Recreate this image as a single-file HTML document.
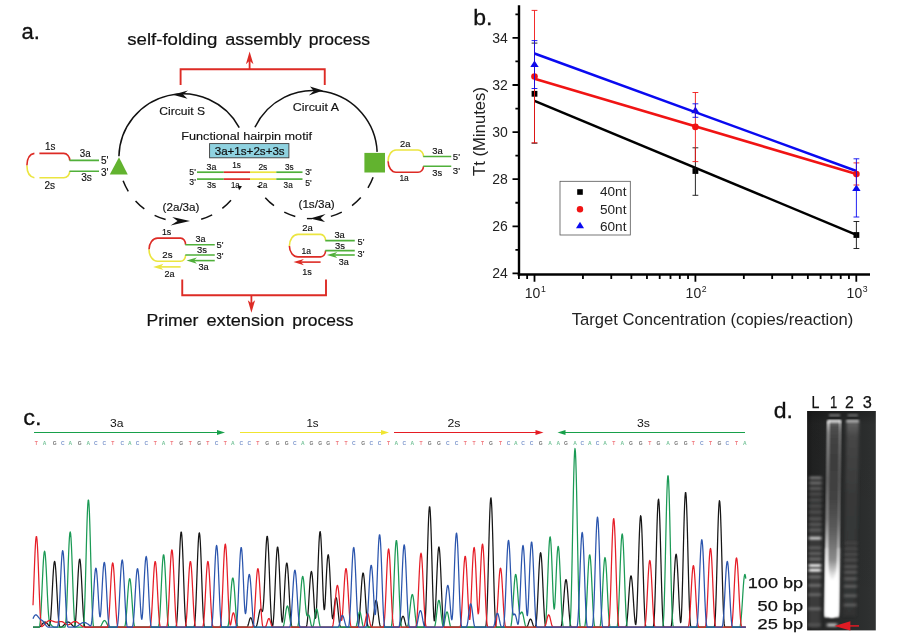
<!DOCTYPE html>
<html lang="en"><head><meta charset="utf-8"><title>Figure</title>
<style>html,body{margin:0;padding:0;background:#fff;}body{width:903px;height:640px;overflow:hidden;font-family:"Liberation Sans",sans-serif;}svg{display:block;will-change:transform;}text{font-family:"Liberation Sans",sans-serif;}</style>
</head><body>
<svg width="903" height="640" viewBox="0 0 903 640">
<defs>
<linearGradient id="gelbg" x1="0" y1="0" x2="1" y2="0">
<stop offset="0" stop-color="#1a1a1a"/><stop offset="0.08" stop-color="#212222"/><stop offset="0.3" stop-color="#262727"/><stop offset="0.75" stop-color="#2b2d2d"/><stop offset="1" stop-color="#303232"/>
</linearGradient>
<linearGradient id="gelv" x1="0" y1="0" x2="0" y2="1">
<stop offset="0" stop-color="#000" stop-opacity="0.25"/><stop offset="0.06" stop-color="#000" stop-opacity="0.05"/><stop offset="1" stop-color="#000" stop-opacity="0"/>
</linearGradient>
<linearGradient id="lane1" x1="0" y1="0" x2="0" y2="1">
<stop offset="0" stop-color="#808080"/><stop offset="0.025" stop-color="#505050"/><stop offset="0.08" stop-color="#444444"/><stop offset="0.2" stop-color="#3d3d3d"/><stop offset="0.40" stop-color="#434343"/><stop offset="0.556" stop-color="#5c5c5c"/><stop offset="0.71" stop-color="#8c8c8c"/><stop offset="0.786" stop-color="#e0e0e0"/><stop offset="0.837" stop-color="#ffffff"/><stop offset="1" stop-color="#ffffff"/>
</linearGradient>
<linearGradient id="edge1" x1="0" y1="0" x2="0" y2="1">
<stop offset="0" stop-color="#e0e0e0"/><stop offset="0.06" stop-color="#989898"/><stop offset="0.3" stop-color="#6e6e6e"/><stop offset="0.5" stop-color="#8c8c8c"/><stop offset="0.63" stop-color="#e4e4e4"/><stop offset="0.71" stop-color="#ffffff"/><stop offset="1" stop-color="#ffffff"/>
</linearGradient>
<linearGradient id="ladglow" x1="0" y1="0" x2="0" y2="1"><stop offset="0" stop-color="#303131"/><stop offset="0.4" stop-color="#383838"/><stop offset="1" stop-color="#3c3c3c"/></linearGradient>
<linearGradient id="lane2" x1="0" y1="0" x2="0" y2="1">
<stop offset="0" stop-color="#666666"/><stop offset="0.08" stop-color="#464646"/><stop offset="0.4" stop-color="#373838"/><stop offset="1" stop-color="#323333"/>
</linearGradient>
<filter id="b08" x="-30%" y="-30%" width="160%" height="160%"><feGaussianBlur stdDeviation="0.8"/></filter>
<filter id="b1" x="-30%" y="-30%" width="160%" height="160%"><feGaussianBlur stdDeviation="1.1"/></filter>
<filter id="b12" x="-30%" y="-60%" width="160%" height="220%"><feGaussianBlur stdDeviation="1.4 1.2"/></filter>
<filter id="b15" x="-30%" y="-30%" width="160%" height="160%"><feGaussianBlur stdDeviation="1.6"/></filter>
<clipPath id="gelclip"><rect x="807.1" y="411" width="68.7" height="219.4"/></clipPath>
</defs>
<rect x="0" y="0" width="903" height="640" fill="#ffffff"/>
<g id="panel-a">
<text x="21.50" y="38.80" font-size="22" text-anchor="start" fill="#111" textLength="18.40" lengthAdjust="spacingAndGlyphs" stroke="#111" stroke-width="0.3">a.</text>
<text x="127.20" y="45.00" font-size="16.3" text-anchor="start" fill="#111" textLength="90.20" lengthAdjust="spacingAndGlyphs" stroke="#111" stroke-width="0.2">self-folding</text>
<text x="225.20" y="45.00" font-size="16.3" text-anchor="start" fill="#111" textLength="76.40" lengthAdjust="spacingAndGlyphs" stroke="#111" stroke-width="0.2">assembly</text>
<text x="308.80" y="45.00" font-size="16.3" text-anchor="start" fill="#111" textLength="61.30" lengthAdjust="spacingAndGlyphs" stroke="#111" stroke-width="0.2">process</text>
<text x="146.50" y="325.50" font-size="16.3" text-anchor="start" fill="#111" textLength="51.90" lengthAdjust="spacingAndGlyphs" stroke="#111" stroke-width="0.2">Primer</text>
<text x="206.50" y="325.50" font-size="16.3" text-anchor="start" fill="#111" textLength="77.80" lengthAdjust="spacingAndGlyphs" stroke="#111" stroke-width="0.2">extension</text>
<text x="292.30" y="325.50" font-size="16.3" text-anchor="start" fill="#111" textLength="61.10" lengthAdjust="spacingAndGlyphs" stroke="#111" stroke-width="0.2">process</text>
<path d="M180.6 85 V69.3 H324.75 V85" fill="none" stroke="#dd2b25" stroke-width="1.9"/>
<path d="M249.6 69.3 V60" fill="none" stroke="#dd2b25" stroke-width="1.8"/>
<path d="M249.6 51.4 L253.4 64.3 L249.6 60.8 L245.9 64.3 Z" fill="#dd2b25"/>
<path d="M182.25 279.4 V295.3 H326 V279.4" fill="none" stroke="#dd2b25" stroke-width="1.9"/>
<path d="M251.4 295.3 V304" fill="none" stroke="#dd2b25" stroke-width="1.8"/>
<path d="M251.4 312.8 L255.1 300.2 L251.4 303.3 L247.8 300.2 Z" fill="#dd2b25"/>
<path d="M118.92 156.22 A64.0 64.0 0 0 1 239.25 127.56" fill="none" stroke="#111" stroke-width="1.5"/>
<path d="M123.11 180.73 A64.0 64.0 0 0 0 233.33 197.30" fill="none" stroke="#111" stroke-width="1.5" stroke-dasharray="11.8 12.1"/>
<path d="M254.96 127.26 A64.2 64.2 0 0 1 377.14 151.90" fill="none" stroke="#111" stroke-width="1.5"/>
<path d="M373.10 177.29 A64.2 64.2 0 0 1 263.11 195.10" fill="none" stroke="#111" stroke-width="1.5" stroke-dasharray="11.8 12.1"/>
<path d="M168 214 H194 V228 H168 Z M304 211 H329 V225 H304 Z" fill="#fff"/>
<path d="M172.75 94.75 L187.9 90.4 L183.1 94.4 L187.5 98.75 Z" fill="#111"/>
<path d="M323.1 90.6 L310 86.6 L313.75 90.9 L308.75 95.4 Z" fill="#111"/>
<path d="M190 221 L172.25 216.9 L177.5 221 L170.6 225.4 Z" fill="#111"/>
<path d="M310 218.5 L325.6 214 L320.6 218.1 L325 221.9 Z" fill="#111"/>
<path d="M306.9 218.6 H312" stroke="#111" stroke-width="1.4"/>
<text x="159.30" y="114.50" font-size="11.6" text-anchor="start" fill="#111" textLength="45.70" lengthAdjust="spacingAndGlyphs" stroke="#111" stroke-width="0.15">Circuit S</text>
<text x="292.80" y="111.30" font-size="11.6" text-anchor="start" fill="#111" textLength="46.20" lengthAdjust="spacingAndGlyphs" stroke="#111" stroke-width="0.15">Circuit A</text>
<text x="181.30" y="140.00" font-size="11.8" text-anchor="start" fill="#111" textLength="130.70" lengthAdjust="spacingAndGlyphs" stroke="#111" stroke-width="0.15">Functional hairpin motif</text>
<rect x="209.6" y="143.6" width="79.3" height="14.2" fill="#8fd2e0" stroke="#3a3a3a" stroke-width="0.9"/>
<text x="214.70" y="154.80" font-size="10.6" text-anchor="start" fill="#111" textLength="70.00" lengthAdjust="spacingAndGlyphs" stroke="#111" stroke-width="0.2">3a+1s+2s+3s</text>
<path d="M197 172.2 H223.8" stroke="#50b03a" stroke-width="1.7"/>
<path d="M223.8 172.2 H250" stroke="#dd2b25" stroke-width="1.7"/>
<path d="M250 172.2 H276.3" stroke="#ebe540" stroke-width="1.7"/>
<path d="M276.3 172.2 H302.5" stroke="#50b03a" stroke-width="1.7"/>
<path d="M197 179.1 H223.8" stroke="#50b03a" stroke-width="1.7"/>
<path d="M223.8 179.1 H250" stroke="#dd2b25" stroke-width="1.7"/>
<path d="M250 179.1 H276.3" stroke="#ebe540" stroke-width="1.7"/>
<path d="M276.3 179.1 H302.5" stroke="#50b03a" stroke-width="1.7"/>
<text x="206.60" y="169.80" font-size="9.2" text-anchor="start" fill="#111" textLength="9.80" lengthAdjust="spacingAndGlyphs" stroke="#111" stroke-width="0.15">3a</text>
<text x="232.20" y="168.40" font-size="9.2" text-anchor="start" fill="#111" textLength="8.70" lengthAdjust="spacingAndGlyphs" stroke="#111" stroke-width="0.15">1s</text>
<text x="258.40" y="169.80" font-size="9.2" text-anchor="start" fill="#111" textLength="8.90" lengthAdjust="spacingAndGlyphs" stroke="#111" stroke-width="0.15">2s</text>
<text x="285.00" y="169.80" font-size="9.2" text-anchor="start" fill="#111" textLength="8.70" lengthAdjust="spacingAndGlyphs" stroke="#111" stroke-width="0.15">3s</text>
<text x="206.90" y="187.70" font-size="9.2" text-anchor="start" fill="#111" textLength="9.10" lengthAdjust="spacingAndGlyphs" stroke="#111" stroke-width="0.15">3s</text>
<text x="231.00" y="187.70" font-size="9.2" text-anchor="start" fill="#111" textLength="8.70" lengthAdjust="spacingAndGlyphs" stroke="#111" stroke-width="0.15">1a</text>
<text x="258.60" y="187.90" font-size="9.2" text-anchor="start" fill="#111" textLength="8.60" lengthAdjust="spacingAndGlyphs" stroke="#111" stroke-width="0.15">2a</text>
<text x="283.60" y="188.00" font-size="9.2" text-anchor="start" fill="#111" textLength="9.10" lengthAdjust="spacingAndGlyphs" stroke="#111" stroke-width="0.15">3a</text>
<text x="189.30" y="174.80" font-size="9.2" text-anchor="start" fill="#111" textLength="6.50" lengthAdjust="spacingAndGlyphs" stroke="#111" stroke-width="0.15">5'</text>
<text x="305.20" y="174.90" font-size="9.2" text-anchor="start" fill="#111" textLength="6.50" lengthAdjust="spacingAndGlyphs" stroke="#111" stroke-width="0.15">3'</text>
<text x="189.30" y="184.80" font-size="9.2" text-anchor="start" fill="#111" textLength="6.50" lengthAdjust="spacingAndGlyphs" stroke="#111" stroke-width="0.15">3'</text>
<text x="305.20" y="185.50" font-size="9.2" text-anchor="start" fill="#111" textLength="6.50" lengthAdjust="spacingAndGlyphs" stroke="#111" stroke-width="0.15">5'</text>
<path d="M237.6 185.6 l4.4 0.6 l-2.9 4 z" fill="#111"/>
<path d="M256.8 186.6 l3.2 -1.6 l-0.4 2.9 z" fill="#111"/>
<path d="M34.4 153.4 Q27 154.6 26.9 165.6" fill="none" stroke="#dd2b25" stroke-width="1.6"/>
<path d="M26.9 165.6 Q27 176.5 34.4 177.75" fill="none" stroke="#ebe540" stroke-width="1.6"/>
<path d="M39.4 153.4 H63.75 A6 7 0 0 1 69.75 160.4" fill="none" stroke="#dd2b25" stroke-width="1.6"/>
<path d="M39.4 177.75 H63.75 A6 6.5 0 0 0 69.75 171.25" fill="none" stroke="#ebe540" stroke-width="1.6"/>
<path d="M69.5 160.4 H99 M69.5 171.25 H99" fill="none" stroke="#50b03a" stroke-width="1.6"/>
<text x="45.00" y="149.75" font-size="10.2" text-anchor="start" fill="#111" textLength="10.40" lengthAdjust="spacingAndGlyphs" stroke="#111" stroke-width="0.15">1s</text>
<text x="44.40" y="188.50" font-size="10.2" text-anchor="start" fill="#111" textLength="10.60" lengthAdjust="spacingAndGlyphs" stroke="#111" stroke-width="0.15">2s</text>
<text x="79.75" y="156.90" font-size="10.2" text-anchor="start" fill="#111" textLength="10.85" lengthAdjust="spacingAndGlyphs" stroke="#111" stroke-width="0.15">3a</text>
<text x="81.25" y="181.00" font-size="10.2" text-anchor="start" fill="#111" textLength="10.65" lengthAdjust="spacingAndGlyphs" stroke="#111" stroke-width="0.15">3s</text>
<text x="101.00" y="163.50" font-size="10.2" text-anchor="start" fill="#111" textLength="7.50" lengthAdjust="spacingAndGlyphs" stroke="#111" stroke-width="0.15">5'</text>
<text x="101.00" y="175.90" font-size="10.2" text-anchor="start" fill="#111" textLength="7.50" lengthAdjust="spacingAndGlyphs" stroke="#111" stroke-width="0.15">3'</text>
<path d="M119 157.25 L109.75 174.4 H127.75 Z" fill="#62b32f"/>
<rect x="364.4" y="152.9" width="20.6" height="19.6" fill="#62b32f"/>
<path d="M388.1 161.25 A7.90 11.25 0 0 1 396 150 H418 A5.50 6.50 0 0 1 423.5 156.5" fill="none" stroke="#ebe540" stroke-width="1.6"/>
<path d="M388.1 161.25 A7.90 11.00 0 0 0 396 172.25 H418 A5.50 6.00 0 0 0 423.5 166.25" fill="none" stroke="#dd2b25" stroke-width="1.6"/>
<path d="M423.2 156.5 H451.25 M423.2 166.25 H451.25" fill="none" stroke="#50b03a" stroke-width="1.6"/>
<text x="400.00" y="147.25" font-size="9.8" text-anchor="start" fill="#111" textLength="10.40" lengthAdjust="spacingAndGlyphs" stroke="#111" stroke-width="0.15">2a</text>
<text x="399.40" y="181.00" font-size="9.8" text-anchor="start" fill="#111" textLength="9.35" lengthAdjust="spacingAndGlyphs" stroke="#111" stroke-width="0.15">1a</text>
<text x="432.25" y="153.50" font-size="9.8" text-anchor="start" fill="#111" textLength="10.50" lengthAdjust="spacingAndGlyphs" stroke="#111" stroke-width="0.15">3a</text>
<text x="432.25" y="176.25" font-size="9.8" text-anchor="start" fill="#111" textLength="9.85" lengthAdjust="spacingAndGlyphs" stroke="#111" stroke-width="0.15">3s</text>
<text x="452.75" y="159.75" font-size="9.8" text-anchor="start" fill="#111" textLength="7.25" lengthAdjust="spacingAndGlyphs" stroke="#111" stroke-width="0.15">5'</text>
<text x="452.75" y="173.75" font-size="9.8" text-anchor="start" fill="#111" textLength="7.25" lengthAdjust="spacingAndGlyphs" stroke="#111" stroke-width="0.15">3'</text>
<path d="M149 249.4 A8.50 11.30 0 0 1 157.5 238.1 H180.6 A5.00 6.65 0 0 1 185.6 244.75" fill="none" stroke="#dd2b25" stroke-width="1.6"/>
<path d="M149 249.4 A8.50 11.85 0 0 0 157.5 261.25 H180.6 A5.00 6.25 0 0 0 185.6 255" fill="none" stroke="#ebe540" stroke-width="1.6"/>
<path d="M185.29999999999998 244.75 H214.75 M185.29999999999998 255 H214.75" fill="none" stroke="#50b03a" stroke-width="1.6"/>
<path d="M193.9 260.6 H214.75" fill="none" stroke="#50b03a" stroke-width="1.6"/>
<path d="M186.5 260.6 L196.9 257.5 L193.9 260.6 L196.9 263.70000000000005 Z" fill="#50b03a"/>
<path d="M160.5 266.9 H180.6" fill="none" stroke="#ebe540" stroke-width="1.6"/>
<path d="M153.1 266.9 L163.5 263.79999999999995 L160.5 266.9 L163.5 270.0 Z" fill="#ebe540"/>
<text x="161.90" y="235.25" font-size="9.6" text-anchor="start" fill="#111" textLength="9.35" lengthAdjust="spacingAndGlyphs" stroke="#111" stroke-width="0.15">1s</text>
<text x="162.25" y="257.50" font-size="9.6" text-anchor="start" fill="#111" textLength="10.25" lengthAdjust="spacingAndGlyphs" stroke="#111" stroke-width="0.15">2s</text>
<text x="195.60" y="241.60" font-size="9.6" text-anchor="start" fill="#111" textLength="10.00" lengthAdjust="spacingAndGlyphs" stroke="#111" stroke-width="0.15">3a</text>
<text x="196.90" y="253.10" font-size="9.6" text-anchor="start" fill="#111" textLength="10.00" lengthAdjust="spacingAndGlyphs" stroke="#111" stroke-width="0.15">3s</text>
<text x="216.50" y="247.50" font-size="9.6" text-anchor="start" fill="#111" textLength="7.00" lengthAdjust="spacingAndGlyphs" stroke="#111" stroke-width="0.15">5'</text>
<text x="216.50" y="259.00" font-size="9.6" text-anchor="start" fill="#111" textLength="7.00" lengthAdjust="spacingAndGlyphs" stroke="#111" stroke-width="0.15">3'</text>
<text x="198.50" y="269.75" font-size="9.6" text-anchor="start" fill="#111" textLength="10.25" lengthAdjust="spacingAndGlyphs" stroke="#111" stroke-width="0.15">3a</text>
<text x="164.40" y="276.50" font-size="9.6" text-anchor="start" fill="#111" textLength="10.00" lengthAdjust="spacingAndGlyphs" stroke="#111" stroke-width="0.15">2a</text>
<text x="162.50" y="210.50" font-size="10" text-anchor="start" fill="#111" textLength="37.00" lengthAdjust="spacingAndGlyphs" stroke="#111" stroke-width="0.15">(2a/3a)</text>
<path d="M289.4 246 A8.60 11.60 0 0 1 298 234.4 H320.6 A5.00 6.20 0 0 1 325.6 240.6" fill="none" stroke="#ebe540" stroke-width="1.6"/>
<path d="M289.4 246 A8.60 10.90 0 0 0 298 256.9 H320.6 A5.00 6.30 0 0 0 325.6 250.6" fill="none" stroke="#dd2b25" stroke-width="1.6"/>
<path d="M325.3 240.6 H354.75 M325.3 250.6 H354.75" fill="none" stroke="#50b03a" stroke-width="1.6"/>
<path d="M334.29999999999995 255 H354.75" fill="none" stroke="#50b03a" stroke-width="1.6"/>
<path d="M326.9 255 L337.29999999999995 251.9 L334.29999999999995 255 L337.29999999999995 258.1 Z" fill="#50b03a"/>
<path d="M300.9 262.1 H320.6" fill="none" stroke="#dd2b25" stroke-width="1.6"/>
<path d="M293.5 262.1 L303.9 259.0 L300.9 262.1 L303.9 265.20000000000005 Z" fill="#dd2b25"/>
<text x="302.25" y="231.25" font-size="9.6" text-anchor="start" fill="#111" textLength="10.50" lengthAdjust="spacingAndGlyphs" stroke="#111" stroke-width="0.15">2a</text>
<text x="301.50" y="253.75" font-size="9.6" text-anchor="start" fill="#111" textLength="9.50" lengthAdjust="spacingAndGlyphs" stroke="#111" stroke-width="0.15">1a</text>
<text x="334.40" y="238.10" font-size="9.6" text-anchor="start" fill="#111" textLength="10.35" lengthAdjust="spacingAndGlyphs" stroke="#111" stroke-width="0.15">3a</text>
<text x="335.00" y="248.75" font-size="9.6" text-anchor="start" fill="#111" textLength="10.00" lengthAdjust="spacingAndGlyphs" stroke="#111" stroke-width="0.15">3s</text>
<text x="357.50" y="245.00" font-size="9.6" text-anchor="start" fill="#111" textLength="6.90" lengthAdjust="spacingAndGlyphs" stroke="#111" stroke-width="0.15">5'</text>
<text x="357.50" y="257.25" font-size="9.6" text-anchor="start" fill="#111" textLength="6.90" lengthAdjust="spacingAndGlyphs" stroke="#111" stroke-width="0.15">3'</text>
<text x="338.75" y="264.75" font-size="9.6" text-anchor="start" fill="#111" textLength="10.00" lengthAdjust="spacingAndGlyphs" stroke="#111" stroke-width="0.15">3a</text>
<text x="302.25" y="274.75" font-size="9.6" text-anchor="start" fill="#111" textLength="9.65" lengthAdjust="spacingAndGlyphs" stroke="#111" stroke-width="0.15">1s</text>
<text x="298.50" y="208.25" font-size="10" text-anchor="start" fill="#111" textLength="36.25" lengthAdjust="spacingAndGlyphs" stroke="#111" stroke-width="0.15">(1s/3a)</text>
</g>
<g id="panel-b">
<text x="473.30" y="25.00" font-size="22.5" text-anchor="start" fill="#111" textLength="19.20" lengthAdjust="spacingAndGlyphs" stroke="#111" stroke-width="0.3">b.</text>
<path d="M519.0 5.3 V275.75" stroke="#000" stroke-width="2.4" fill="none"/>
<path d="M517.7 274.5 H870" stroke="#000" stroke-width="2.4" fill="none"/>
<path d="M512.5 273.40 H519.0 M515.4 249.85 H519.0 M512.5 226.30 H519.0 M515.4 202.75 H519.0 M512.5 179.20 H519.0 M515.4 155.65 H519.0 M512.5 132.10 H519.0 M515.4 108.55 H519.0 M512.5 85.00 H519.0 M515.4 61.45 H519.0 M512.5 37.90 H519.0 M515.4 14.35 H519.0 " stroke="#000" stroke-width="1.8" fill="none"/>
<text x="507.80" y="278.40" font-size="14" text-anchor="end" fill="#222" >24</text>
<text x="507.80" y="231.30" font-size="14" text-anchor="end" fill="#222" >26</text>
<text x="507.80" y="184.20" font-size="14" text-anchor="end" fill="#222" >28</text>
<text x="507.80" y="137.10" font-size="14" text-anchor="end" fill="#222" >30</text>
<text x="507.80" y="90.00" font-size="14" text-anchor="end" fill="#222" >32</text>
<text x="507.80" y="42.90" font-size="14" text-anchor="end" fill="#222" >34</text>
<path d="M518.91 274.5 V278.9 M527.14 274.5 V278.9 M582.94 274.5 V278.9 M611.27 274.5 V278.9 M631.37 274.5 V278.9 M646.96 274.5 V278.9 M659.70 274.5 V278.9 M670.48 274.5 V278.9 M679.81 274.5 V278.9 M688.04 274.5 V278.9 M743.84 274.5 V278.9 M772.17 274.5 V278.9 M792.27 274.5 V278.9 M807.86 274.5 V278.9 M820.60 274.5 V278.9 M831.38 274.5 V278.9 M840.71 274.5 V278.9 M848.94 274.5 V278.9 M534.50 274.5 V281.8 M695.40 274.5 V281.8 M856.30 274.5 V281.8 " stroke="#000" stroke-width="1.8" fill="none"/>
<text x="524.70" y="297.80" font-size="14" text-anchor="start" fill="#222" >10</text>
<text x="540.90" y="291.60" font-size="8.7" text-anchor="start" fill="#222" >1</text>
<text x="685.60" y="297.80" font-size="14" text-anchor="start" fill="#222" >10</text>
<text x="701.80" y="291.60" font-size="8.7" text-anchor="start" fill="#222" >2</text>
<text x="846.60" y="297.80" font-size="14" text-anchor="start" fill="#222" >10</text>
<text x="862.80" y="291.60" font-size="8.7" text-anchor="start" fill="#222" >3</text>
<text x="571.80" y="324.50" font-size="16.3" text-anchor="start" fill="#222" textLength="281.50" lengthAdjust="spacingAndGlyphs" >Target Concentration (copies/reaction)</text>
<text transform="translate(485.2 176) rotate(-90)" font-size="16.3" fill="#222" textLength="89" lengthAdjust="spacingAndGlyphs">Tt (Minutes)</text>
<path d="M534.5 100.8 L856.4 234.8" stroke="#000" stroke-width="2.5" fill="none"/>
<path d="M534.5 78.8 L856.4 174" stroke="#f01414" stroke-width="2.5" fill="none"/>
<path d="M534.5 53.5 L856.4 171" stroke="#0a0af0" stroke-width="2.5" fill="none"/>
<rect x="531.60" y="90.90" width="5.8" height="5.8" fill="#000"/>
<rect x="692.50" y="168.10" width="5.8" height="5.8" fill="#000"/>
<rect x="853.50" y="232.10" width="5.8" height="5.8" fill="#000"/>
<circle cx="534.5" cy="76.5" r="3.3" fill="#f01414"/>
<circle cx="695.4" cy="126.9" r="3.3" fill="#f01414"/>
<circle cx="856.4" cy="174.1" r="3.3" fill="#f01414"/>
<path d="M534.5 60.50 L538.7 67.10 H530.3 Z" fill="#0a0af0"/>
<path d="M695.4 106.60 L699.6 113.20 H691.1999999999999 Z" fill="#0a0af0"/>
<path d="M856.4 184.40 L860.6 191.00 H852.1999999999999 Z" fill="#0a0af0"/>
<path d="M534.5 43.1 V143.2 M531.6 43.1 H537.4 M531.6 143.2 H537.4" stroke="#111" stroke-width="0.9" fill="none"/>
<path d="M695.4 147.8 V195.3 M692.5 147.8 H698.3 M692.5 195.3 H698.3" stroke="#111" stroke-width="0.9" fill="none"/>
<path d="M856.4 221.5 V248.5 M853.5 221.5 H859.3 M853.5 248.5 H859.3" stroke="#111" stroke-width="0.9" fill="none"/>
<path d="M534.5 10.4 V142.8 M531.6 10.4 H537.4 M531.6 142.8 H537.4" stroke="#f01414" stroke-width="0.9" fill="none"/>
<path d="M695.4 92.5 V161.6 M692.5 92.5 H698.3 M692.5 161.6 H698.3" stroke="#f01414" stroke-width="0.9" fill="none"/>
<path d="M856.4 162.9 V185 M853.5 162.9 H859.3 M853.5 185 H859.3" stroke="#f01414" stroke-width="0.9" fill="none"/>
<path d="M534.5 40.6 V88.5 M531.6 40.6 H537.4 M531.6 88.5 H537.4" stroke="#0a0af0" stroke-width="0.9" fill="none"/>
<path d="M695.4 103.8 V117.3 M692.5 103.8 H698.3 M692.5 117.3 H698.3" stroke="#0a0af0" stroke-width="0.9" fill="none"/>
<path d="M856.4 158.8 V217 M853.5 158.8 H859.3 M853.5 217 H859.3" stroke="#0a0af0" stroke-width="0.9" fill="none"/>
<rect x="560" y="181.3" width="70.3" height="53.7" fill="#fff" stroke="#555" stroke-width="0.8"/>
<rect x="577.20" y="189.20" width="5.6" height="5.6" fill="#000"/>
<circle cx="580" cy="209.3" r="3.2" fill="#f01414"/>
<path d="M580 221.80 L584.0 228.20 H576.0 Z" fill="#0a0af0"/>
<text x="600.00" y="196.40" font-size="13.6" text-anchor="start" fill="#222" >40nt</text>
<text x="600.00" y="213.80" font-size="13.6" text-anchor="start" fill="#222" >50nt</text>
<text x="600.00" y="230.60" font-size="13.6" text-anchor="start" fill="#222" >60nt</text>
</g>
<g id="panel-c">
<text x="23.20" y="425.00" font-size="21.5" text-anchor="start" fill="#111" textLength="18.30" lengthAdjust="spacingAndGlyphs" stroke="#111" stroke-width="0.3">c.</text>
<path d="M34 432.5 H219" stroke="#17a04a" stroke-width="1.2" fill="none"/>
<path d="M225 432.5 L217 429.9 V435.1 Z" fill="#17a04a"/>
<path d="M240 432.5 H383" stroke="#f0e530" stroke-width="1.2" fill="none"/>
<path d="M389 432.5 L381 429.9 V435.1 Z" fill="#f0e530"/>
<path d="M394 432.5 H537.5" stroke="#e51c23" stroke-width="1.2" fill="none"/>
<path d="M543.5 432.5 L535.5 429.9 V435.1 Z" fill="#e51c23"/>
<path d="M563.5 432.5 H745" stroke="#17a04a" stroke-width="1.2" fill="none"/>
<path d="M557.5 432.5 L565.5 429.9 V435.1 Z" fill="#17a04a"/>
<text x="110.05" y="426.50" font-size="10.5" text-anchor="start" fill="#111" textLength="13.50" lengthAdjust="spacingAndGlyphs" >3a</text>
<text x="306.40" y="426.50" font-size="10.5" text-anchor="start" fill="#111" textLength="12.20" lengthAdjust="spacingAndGlyphs" >1s</text>
<text x="447.50" y="426.50" font-size="10.5" text-anchor="start" fill="#111" textLength="13.00" lengthAdjust="spacingAndGlyphs" >2s</text>
<text x="637.00" y="426.50" font-size="10.5" text-anchor="start" fill="#111" textLength="13.00" lengthAdjust="spacingAndGlyphs" >3s</text>
<text x="36.4" y="445.2" font-size="5" text-anchor="middle" fill="#e61e28" font-family="Liberation Mono, monospace" font-weight="bold" opacity="0.62">T</text>
<text x="44.5" y="445.2" font-size="5" text-anchor="middle" fill="#1b9a55" font-family="Liberation Mono, monospace" font-weight="bold" opacity="0.62">A</text>
<text x="54.6" y="445.2" font-size="5" text-anchor="middle" fill="#161616" font-family="Liberation Mono, monospace" font-weight="bold" opacity="0.62">G</text>
<text x="62.7" y="445.2" font-size="5" text-anchor="middle" fill="#2b55ad" font-family="Liberation Mono, monospace" font-weight="bold" opacity="0.62">C</text>
<text x="70.2" y="445.2" font-size="5" text-anchor="middle" fill="#1b9a55" font-family="Liberation Mono, monospace" font-weight="bold" opacity="0.62">A</text>
<text x="79.7" y="445.2" font-size="5" text-anchor="middle" fill="#161616" font-family="Liberation Mono, monospace" font-weight="bold" opacity="0.62">G</text>
<text x="88.4" y="445.2" font-size="5" text-anchor="middle" fill="#1b9a55" font-family="Liberation Mono, monospace" font-weight="bold" opacity="0.62">A</text>
<text x="95.9" y="445.2" font-size="5" text-anchor="middle" fill="#2b55ad" font-family="Liberation Mono, monospace" font-weight="bold" opacity="0.62">C</text>
<text x="104.3" y="445.2" font-size="5" text-anchor="middle" fill="#2b55ad" font-family="Liberation Mono, monospace" font-weight="bold" opacity="0.62">C</text>
<text x="112.7" y="445.2" font-size="5" text-anchor="middle" fill="#e61e28" font-family="Liberation Mono, monospace" font-weight="bold" opacity="0.62">T</text>
<text x="122.2" y="445.2" font-size="5" text-anchor="middle" fill="#2b55ad" font-family="Liberation Mono, monospace" font-weight="bold" opacity="0.62">C</text>
<text x="129.7" y="445.2" font-size="5" text-anchor="middle" fill="#1b9a55" font-family="Liberation Mono, monospace" font-weight="bold" opacity="0.62">A</text>
<text x="137.5" y="445.2" font-size="5" text-anchor="middle" fill="#2b55ad" font-family="Liberation Mono, monospace" font-weight="bold" opacity="0.62">C</text>
<text x="146.2" y="445.2" font-size="5" text-anchor="middle" fill="#2b55ad" font-family="Liberation Mono, monospace" font-weight="bold" opacity="0.62">C</text>
<text x="155.2" y="445.2" font-size="5" text-anchor="middle" fill="#e61e28" font-family="Liberation Mono, monospace" font-weight="bold" opacity="0.62">T</text>
<text x="163.6" y="445.2" font-size="5" text-anchor="middle" fill="#1b9a55" font-family="Liberation Mono, monospace" font-weight="bold" opacity="0.62">A</text>
<text x="171.9" y="445.2" font-size="5" text-anchor="middle" fill="#e61e28" font-family="Liberation Mono, monospace" font-weight="bold" opacity="0.62">T</text>
<text x="181.2" y="445.2" font-size="5" text-anchor="middle" fill="#161616" font-family="Liberation Mono, monospace" font-weight="bold" opacity="0.62">G</text>
<text x="190.4" y="445.2" font-size="5" text-anchor="middle" fill="#e61e28" font-family="Liberation Mono, monospace" font-weight="bold" opacity="0.62">T</text>
<text x="199.3" y="445.2" font-size="5" text-anchor="middle" fill="#161616" font-family="Liberation Mono, monospace" font-weight="bold" opacity="0.62">G</text>
<text x="207.9" y="445.2" font-size="5" text-anchor="middle" fill="#e61e28" font-family="Liberation Mono, monospace" font-weight="bold" opacity="0.62">T</text>
<text x="216.6" y="445.2" font-size="5" text-anchor="middle" fill="#2b55ad" font-family="Liberation Mono, monospace" font-weight="bold" opacity="0.62">C</text>
<text x="225.3" y="445.2" font-size="5" text-anchor="middle" fill="#e61e28" font-family="Liberation Mono, monospace" font-weight="bold" opacity="0.62">T</text>
<text x="232.8" y="445.2" font-size="5" text-anchor="middle" fill="#1b9a55" font-family="Liberation Mono, monospace" font-weight="bold" opacity="0.62">A</text>
<text x="241.2" y="445.2" font-size="5" text-anchor="middle" fill="#2b55ad" font-family="Liberation Mono, monospace" font-weight="bold" opacity="0.62">C</text>
<text x="249.3" y="445.2" font-size="5" text-anchor="middle" fill="#2b55ad" font-family="Liberation Mono, monospace" font-weight="bold" opacity="0.62">C</text>
<text x="257.9" y="445.2" font-size="5" text-anchor="middle" fill="#e61e28" font-family="Liberation Mono, monospace" font-weight="bold" opacity="0.62">T</text>
<text x="267.2" y="445.2" font-size="5" text-anchor="middle" fill="#161616" font-family="Liberation Mono, monospace" font-weight="bold" opacity="0.62">G</text>
<text x="277.6" y="445.2" font-size="5" text-anchor="middle" fill="#161616" font-family="Liberation Mono, monospace" font-weight="bold" opacity="0.62">G</text>
<text x="286.8" y="445.2" font-size="5" text-anchor="middle" fill="#161616" font-family="Liberation Mono, monospace" font-weight="bold" opacity="0.62">G</text>
<text x="294.9" y="445.2" font-size="5" text-anchor="middle" fill="#2b55ad" font-family="Liberation Mono, monospace" font-weight="bold" opacity="0.62">C</text>
<text x="302.7" y="445.2" font-size="5" text-anchor="middle" fill="#1b9a55" font-family="Liberation Mono, monospace" font-weight="bold" opacity="0.62">A</text>
<text x="311.4" y="445.2" font-size="5" text-anchor="middle" fill="#161616" font-family="Liberation Mono, monospace" font-weight="bold" opacity="0.62">G</text>
<text x="320.1" y="445.2" font-size="5" text-anchor="middle" fill="#161616" font-family="Liberation Mono, monospace" font-weight="bold" opacity="0.62">G</text>
<text x="328.2" y="445.2" font-size="5" text-anchor="middle" fill="#161616" font-family="Liberation Mono, monospace" font-weight="bold" opacity="0.62">G</text>
<text x="337.4" y="445.2" font-size="5" text-anchor="middle" fill="#e61e28" font-family="Liberation Mono, monospace" font-weight="bold" opacity="0.62">T</text>
<text x="346.0" y="445.2" font-size="5" text-anchor="middle" fill="#e61e28" font-family="Liberation Mono, monospace" font-weight="bold" opacity="0.62">T</text>
<text x="353.7" y="445.2" font-size="5" text-anchor="middle" fill="#2b55ad" font-family="Liberation Mono, monospace" font-weight="bold" opacity="0.62">C</text>
<text x="363.1" y="445.2" font-size="5" text-anchor="middle" fill="#161616" font-family="Liberation Mono, monospace" font-weight="bold" opacity="0.62">G</text>
<text x="371.2" y="445.2" font-size="5" text-anchor="middle" fill="#2b55ad" font-family="Liberation Mono, monospace" font-weight="bold" opacity="0.62">C</text>
<text x="379.6" y="445.2" font-size="5" text-anchor="middle" fill="#2b55ad" font-family="Liberation Mono, monospace" font-weight="bold" opacity="0.62">C</text>
<text x="388.6" y="445.2" font-size="5" text-anchor="middle" fill="#e61e28" font-family="Liberation Mono, monospace" font-weight="bold" opacity="0.62">T</text>
<text x="396.4" y="445.2" font-size="5" text-anchor="middle" fill="#1b9a55" font-family="Liberation Mono, monospace" font-weight="bold" opacity="0.62">A</text>
<text x="404.2" y="445.2" font-size="5" text-anchor="middle" fill="#2b55ad" font-family="Liberation Mono, monospace" font-weight="bold" opacity="0.62">C</text>
<text x="412.3" y="445.2" font-size="5" text-anchor="middle" fill="#1b9a55" font-family="Liberation Mono, monospace" font-weight="bold" opacity="0.62">A</text>
<text x="421.0" y="445.2" font-size="5" text-anchor="middle" fill="#e61e28" font-family="Liberation Mono, monospace" font-weight="bold" opacity="0.62">T</text>
<text x="429.6" y="445.2" font-size="5" text-anchor="middle" fill="#161616" font-family="Liberation Mono, monospace" font-weight="bold" opacity="0.62">G</text>
<text x="438.9" y="445.2" font-size="5" text-anchor="middle" fill="#161616" font-family="Liberation Mono, monospace" font-weight="bold" opacity="0.62">G</text>
<text x="447.8" y="445.2" font-size="5" text-anchor="middle" fill="#2b55ad" font-family="Liberation Mono, monospace" font-weight="bold" opacity="0.62">C</text>
<text x="456.5" y="445.2" font-size="5" text-anchor="middle" fill="#2b55ad" font-family="Liberation Mono, monospace" font-weight="bold" opacity="0.62">C</text>
<text x="465.2" y="445.2" font-size="5" text-anchor="middle" fill="#e61e28" font-family="Liberation Mono, monospace" font-weight="bold" opacity="0.62">T</text>
<text x="474.1" y="445.2" font-size="5" text-anchor="middle" fill="#e61e28" font-family="Liberation Mono, monospace" font-weight="bold" opacity="0.62">T</text>
<text x="482.5" y="445.2" font-size="5" text-anchor="middle" fill="#e61e28" font-family="Liberation Mono, monospace" font-weight="bold" opacity="0.62">T</text>
<text x="490.9" y="445.2" font-size="5" text-anchor="middle" fill="#161616" font-family="Liberation Mono, monospace" font-weight="bold" opacity="0.62">G</text>
<text x="500.5" y="445.2" font-size="5" text-anchor="middle" fill="#e61e28" font-family="Liberation Mono, monospace" font-weight="bold" opacity="0.62">T</text>
<text x="508.5" y="445.2" font-size="5" text-anchor="middle" fill="#2b55ad" font-family="Liberation Mono, monospace" font-weight="bold" opacity="0.62">C</text>
<text x="515.7" y="445.2" font-size="5" text-anchor="middle" fill="#1b9a55" font-family="Liberation Mono, monospace" font-weight="bold" opacity="0.62">A</text>
<text x="523.0" y="445.2" font-size="5" text-anchor="middle" fill="#2b55ad" font-family="Liberation Mono, monospace" font-weight="bold" opacity="0.62">C</text>
<text x="531.6" y="445.2" font-size="5" text-anchor="middle" fill="#2b55ad" font-family="Liberation Mono, monospace" font-weight="bold" opacity="0.62">C</text>
<text x="540.6" y="445.2" font-size="5" text-anchor="middle" fill="#161616" font-family="Liberation Mono, monospace" font-weight="bold" opacity="0.62">G</text>
<text x="550.1" y="445.2" font-size="5" text-anchor="middle" fill="#1b9a55" font-family="Liberation Mono, monospace" font-weight="bold" opacity="0.62">A</text>
<text x="558.2" y="445.2" font-size="5" text-anchor="middle" fill="#1b9a55" font-family="Liberation Mono, monospace" font-weight="bold" opacity="0.62">A</text>
<text x="566.0" y="445.2" font-size="5" text-anchor="middle" fill="#161616" font-family="Liberation Mono, monospace" font-weight="bold" opacity="0.62">G</text>
<text x="575.0" y="445.2" font-size="5" text-anchor="middle" fill="#1b9a55" font-family="Liberation Mono, monospace" font-weight="bold" opacity="0.62">A</text>
<text x="582.2" y="445.2" font-size="5" text-anchor="middle" fill="#2b55ad" font-family="Liberation Mono, monospace" font-weight="bold" opacity="0.62">C</text>
<text x="589.7" y="445.2" font-size="5" text-anchor="middle" fill="#1b9a55" font-family="Liberation Mono, monospace" font-weight="bold" opacity="0.62">A</text>
<text x="597.5" y="445.2" font-size="5" text-anchor="middle" fill="#2b55ad" font-family="Liberation Mono, monospace" font-weight="bold" opacity="0.62">C</text>
<text x="605.0" y="445.2" font-size="5" text-anchor="middle" fill="#1b9a55" font-family="Liberation Mono, monospace" font-weight="bold" opacity="0.62">A</text>
<text x="613.7" y="445.2" font-size="5" text-anchor="middle" fill="#e61e28" font-family="Liberation Mono, monospace" font-weight="bold" opacity="0.62">T</text>
<text x="622.2" y="445.2" font-size="5" text-anchor="middle" fill="#1b9a55" font-family="Liberation Mono, monospace" font-weight="bold" opacity="0.62">A</text>
<text x="631.0" y="445.2" font-size="5" text-anchor="middle" fill="#161616" font-family="Liberation Mono, monospace" font-weight="bold" opacity="0.62">G</text>
<text x="640.7" y="445.2" font-size="5" text-anchor="middle" fill="#161616" font-family="Liberation Mono, monospace" font-weight="bold" opacity="0.62">G</text>
<text x="649.8" y="445.2" font-size="5" text-anchor="middle" fill="#e61e28" font-family="Liberation Mono, monospace" font-weight="bold" opacity="0.62">T</text>
<text x="658.5" y="445.2" font-size="5" text-anchor="middle" fill="#161616" font-family="Liberation Mono, monospace" font-weight="bold" opacity="0.62">G</text>
<text x="668.0" y="445.2" font-size="5" text-anchor="middle" fill="#1b9a55" font-family="Liberation Mono, monospace" font-weight="bold" opacity="0.62">A</text>
<text x="676.1" y="445.2" font-size="5" text-anchor="middle" fill="#161616" font-family="Liberation Mono, monospace" font-weight="bold" opacity="0.62">G</text>
<text x="685.6" y="445.2" font-size="5" text-anchor="middle" fill="#161616" font-family="Liberation Mono, monospace" font-weight="bold" opacity="0.62">G</text>
<text x="693.4" y="445.2" font-size="5" text-anchor="middle" fill="#e61e28" font-family="Liberation Mono, monospace" font-weight="bold" opacity="0.62">T</text>
<text x="701.8" y="445.2" font-size="5" text-anchor="middle" fill="#2b55ad" font-family="Liberation Mono, monospace" font-weight="bold" opacity="0.62">C</text>
<text x="710.5" y="445.2" font-size="5" text-anchor="middle" fill="#e61e28" font-family="Liberation Mono, monospace" font-weight="bold" opacity="0.62">T</text>
<text x="719.5" y="445.2" font-size="5" text-anchor="middle" fill="#161616" font-family="Liberation Mono, monospace" font-weight="bold" opacity="0.62">G</text>
<text x="727.3" y="445.2" font-size="5" text-anchor="middle" fill="#2b55ad" font-family="Liberation Mono, monospace" font-weight="bold" opacity="0.62">C</text>
<text x="736.5" y="445.2" font-size="5" text-anchor="middle" fill="#e61e28" font-family="Liberation Mono, monospace" font-weight="bold" opacity="0.62">T</text>
<text x="744.9" y="445.2" font-size="5" text-anchor="middle" fill="#1b9a55" font-family="Liberation Mono, monospace" font-weight="bold" opacity="0.62">A</text>
<path d="M33.0 627.0 L33.4 627.0 L33.8 627.0 L34.2 627.0 L34.6 627.0 L35.0 627.0 L35.4 627.0 L35.8 627.0 L36.2 627.0 L36.6 627.0 L37.0 627.0 L37.4 627.0 L37.8 627.0 L38.2 627.0 L38.6 627.0 L39.0 627.0 L39.4 627.0 L39.8 626.8 L40.2 626.5 L40.6 626.2 L41.0 625.7 L41.4 625.3 L41.8 624.8 L42.2 624.2 L42.6 623.7 L43.0 623.3 L43.4 622.8 L43.8 622.5 L44.2 622.2 L44.6 622.1 L45.0 622.0 L45.4 622.1 L45.8 622.2 L46.2 622.5 L46.6 622.8 L47.0 623.3 L47.4 623.7 L47.8 624.2 L48.2 624.8 L48.6 625.3 L49.0 625.7 L49.4 626.0 L49.8 625.2 L50.2 623.1 L50.6 619.5 L51.0 614.4 L51.4 607.9 L51.8 600.5 L52.2 592.5 L52.6 584.5 L53.0 577.0 L53.4 570.5 L53.8 565.5 L54.2 562.4 L54.6 561.3 L55.0 562.4 L55.4 565.5 L55.8 570.5 L56.2 577.0 L56.6 584.5 L57.0 592.5 L57.4 600.5 L57.8 608.0 L58.2 614.5 L58.6 619.8 L59.0 623.6 L59.4 626.0 L59.8 627.0 L60.2 627.0 L60.6 627.0 L61.0 627.0 L61.4 627.0 L61.8 626.8 L62.2 626.6 L62.6 626.3 L63.0 625.9 L63.4 625.6 L63.8 625.1 L64.2 624.7 L64.6 624.3 L65.0 623.9 L65.4 623.5 L65.8 623.1 L66.2 622.7 L66.6 622.5 L67.0 622.2 L67.4 622.1 L67.8 622.0 L68.2 622.0 L68.6 622.1 L69.0 622.2 L69.4 622.5 L69.8 622.7 L70.2 623.1 L70.6 623.5 L71.0 623.9 L71.4 624.3 L71.8 624.7 L72.2 625.1 L72.6 625.6 L73.0 625.9 L73.4 626.3 L73.8 626.6 L74.2 626.8 L74.6 626.6 L75.0 625.3 L75.4 622.6 L75.8 618.3 L76.2 612.5 L76.6 605.4 L77.0 597.5 L77.4 589.2 L77.8 581.0 L78.2 573.4 L78.6 567.1 L79.0 562.4 L79.4 559.6 L79.8 559.1 L80.2 560.7 L80.6 564.5 L81.0 570.1 L81.4 577.1 L81.8 585.0 L82.2 593.4 L82.6 601.6 L83.0 609.1 L83.4 615.6 L83.8 620.6 L84.2 624.2 L84.6 626.3 L85.0 627.0 L85.4 627.0 L85.8 627.0 L86.2 627.0 L86.6 627.0 L87.0 627.0 L87.4 627.0 L87.8 627.0 L88.2 627.0 L88.6 627.0 L89.0 627.0 L89.4 627.0 L89.8 627.0 L90.2 627.0 L90.6 627.0 L91.0 627.0 L91.4 627.0 L91.8 627.0 L92.2 627.0 L92.6 627.0 L93.0 627.0 L93.4 627.0 L93.8 627.0 L94.2 627.0 L94.6 627.0 L95.0 627.0 L95.4 627.0 L95.8 627.0 L96.2 627.0 L96.6 627.0 L97.0 627.0 L97.4 627.0 L97.8 627.0 L98.2 627.0 L98.6 627.0 L99.0 627.0 L99.4 627.0 L99.8 627.0 L100.2 627.0 L100.6 627.0 L101.0 627.0 L101.4 627.0 L101.8 627.0 L102.2 627.0 L102.6 627.0 L103.0 627.0 L103.4 627.0 L103.8 627.0 L104.2 627.0 L104.6 627.0 L105.0 627.0 L105.4 627.0 L105.8 627.0 L106.2 627.0 L106.6 627.0 L107.0 627.0 L107.4 627.0 L107.8 627.0 L108.2 627.0 L108.6 627.0 L109.0 627.0 L109.4 627.0 L109.8 627.0 L110.2 627.0 L110.6 627.0 L111.0 627.0 L111.4 627.0 L111.8 627.0 L112.2 627.0 L112.6 627.0 L113.0 627.0 L113.4 627.0 L113.8 627.0 L114.2 627.0 L114.6 627.0 L115.0 627.0 L115.4 627.0 L115.8 627.0 L116.2 627.0 L116.6 627.0 L117.0 627.0 L117.4 627.0 L117.8 627.0 L118.2 627.0 L118.6 627.0 L119.0 627.0 L119.4 627.0 L119.8 627.0 L120.2 627.0 L120.6 627.0 L121.0 627.0 L121.4 627.0 L121.8 627.0 L122.2 627.0 L122.6 627.0 L123.0 627.0 L123.4 627.0 L123.8 627.0 L124.2 627.0 L124.6 627.0 L125.0 627.0 L125.4 627.0 L125.8 627.0 L126.2 627.0 L126.6 627.0 L127.0 627.0 L127.4 627.0 L127.8 627.0 L128.2 627.0 L128.6 627.0 L129.0 627.0 L129.4 627.0 L129.8 627.0 L130.2 627.0 L130.6 627.0 L131.0 627.0 L131.4 627.0 L131.8 627.0 L132.2 627.0 L132.6 627.0 L133.0 627.0 L133.4 627.0 L133.8 627.0 L134.2 627.0 L134.6 627.0 L135.0 627.0 L135.4 627.0 L135.8 627.0 L136.2 627.0 L136.6 627.0 L137.0 627.0 L137.4 627.0 L137.8 627.0 L138.2 627.0 L138.6 627.0 L139.0 627.0 L139.4 627.0 L139.8 627.0 L140.2 627.0 L140.6 627.0 L141.0 627.0 L141.4 627.0 L141.8 627.0 L142.2 627.0 L142.6 627.0 L143.0 627.0 L143.4 627.0 L143.8 627.0 L144.2 627.0 L144.6 627.0 L145.0 627.0 L145.4 627.0 L145.8 627.0 L146.2 627.0 L146.6 627.0 L147.0 627.0 L147.4 627.0 L147.8 627.0 L148.2 627.0 L148.6 627.0 L149.0 627.0 L149.4 627.0 L149.8 627.0 L150.2 627.0 L150.6 627.0 L151.0 627.0 L151.4 627.0 L151.8 627.0 L152.2 627.0 L152.6 627.0 L153.0 627.0 L153.4 627.0 L153.8 627.0 L154.2 627.0 L154.6 627.0 L155.0 627.0 L155.4 627.0 L155.8 627.0 L156.2 627.0 L156.6 627.0 L157.0 627.0 L157.4 627.0 L157.8 627.0 L158.2 627.0 L158.6 627.0 L159.0 627.0 L159.4 627.0 L159.8 627.0 L160.2 627.0 L160.6 627.0 L161.0 627.0 L161.4 627.0 L161.8 627.0 L162.2 627.0 L162.6 627.0 L163.0 627.0 L163.4 627.0 L163.8 627.0 L164.2 627.0 L164.6 627.0 L165.0 627.0 L165.4 627.0 L165.8 627.0 L166.2 627.0 L166.6 627.0 L167.0 627.0 L167.4 627.0 L167.8 627.0 L168.2 627.0 L168.6 627.0 L169.0 627.0 L169.4 627.0 L169.8 627.0 L170.2 627.0 L170.6 627.0 L171.0 627.0 L171.4 627.0 L171.8 627.0 L172.2 627.0 L172.6 627.0 L173.0 627.0 L173.4 627.0 L173.8 627.0 L174.2 627.0 L174.6 627.0 L175.0 627.0 L175.4 627.0 L175.8 627.0 L176.2 626.4 L176.6 623.9 L177.0 619.4 L177.4 612.8 L177.8 604.3 L178.2 594.1 L178.6 582.8 L179.0 571.1 L179.4 559.8 L179.8 549.6 L180.2 541.2 L180.6 535.3 L181.0 532.2 L181.4 532.2 L181.8 535.3 L182.2 541.2 L182.6 549.6 L183.0 559.8 L183.4 571.1 L183.8 582.8 L184.2 594.1 L184.6 604.3 L185.0 612.8 L185.4 619.4 L185.8 623.9 L186.2 626.4 L186.6 627.0 L187.0 627.0 L187.4 627.0 L187.8 627.0 L188.2 627.0 L188.6 627.0 L189.0 627.0 L189.4 627.0 L189.8 627.0 L190.2 627.0 L190.6 627.0 L191.0 627.0 L191.4 627.0 L191.8 627.0 L192.2 627.0 L192.6 627.0 L193.0 627.0 L193.4 627.0 L193.8 627.0 L194.2 626.7 L194.6 624.7 L195.0 620.8 L195.4 614.8 L195.8 606.8 L196.2 597.0 L196.6 586.1 L197.0 574.5 L197.4 563.1 L197.8 552.7 L198.2 543.9 L198.6 537.4 L199.0 533.6 L199.4 532.8 L199.8 535.1 L200.2 540.3 L200.6 548.0 L201.0 557.7 L201.4 568.8 L201.8 580.3 L202.2 591.7 L202.6 602.1 L203.0 611.0 L203.4 618.1 L203.8 623.0 L204.2 625.9 L204.6 627.0 L205.0 627.0 L205.4 627.0 L205.8 627.0 L206.2 627.0 L206.6 627.0 L207.0 627.0 L207.4 627.0 L207.8 627.0 L208.2 627.0 L208.6 627.0 L209.0 627.0 L209.4 627.0 L209.8 627.0 L210.2 627.0 L210.6 627.0 L211.0 627.0 L211.4 627.0 L211.8 627.0 L212.2 627.0 L212.6 627.0 L213.0 627.0 L213.4 627.0 L213.8 627.0 L214.2 627.0 L214.6 627.0 L215.0 627.0 L215.4 627.0 L215.8 627.0 L216.2 627.0 L216.6 627.0 L217.0 627.0 L217.4 627.0 L217.8 627.0 L218.2 627.0 L218.6 627.0 L219.0 627.0 L219.4 627.0 L219.8 627.0 L220.2 627.0 L220.6 627.0 L221.0 627.0 L221.4 627.0 L221.8 627.0 L222.2 627.0 L222.6 627.0 L223.0 627.0 L223.4 627.0 L223.8 627.0 L224.2 627.0 L224.6 627.0 L225.0 627.0 L225.4 627.0 L225.8 627.0 L226.2 627.0 L226.6 627.0 L227.0 627.0 L227.4 627.0 L227.8 627.0 L228.2 627.0 L228.6 627.0 L229.0 627.0 L229.4 627.0 L229.8 627.0 L230.2 627.0 L230.6 627.0 L231.0 627.0 L231.4 627.0 L231.8 627.0 L232.2 627.0 L232.6 627.0 L233.0 627.0 L233.4 627.0 L233.8 627.0 L234.2 627.0 L234.6 627.0 L235.0 627.0 L235.4 627.0 L235.8 627.0 L236.2 627.0 L236.6 627.0 L237.0 627.0 L237.4 627.0 L237.8 627.0 L238.2 627.0 L238.6 627.0 L239.0 627.0 L239.4 627.0 L239.8 627.0 L240.2 627.0 L240.6 627.0 L241.0 627.0 L241.4 627.0 L241.8 627.0 L242.2 627.0 L242.6 627.0 L243.0 627.0 L243.4 627.0 L243.8 627.0 L244.2 627.0 L244.6 627.0 L245.0 627.0 L245.4 627.0 L245.8 627.0 L246.2 627.0 L246.6 627.0 L247.0 627.0 L247.4 626.8 L247.8 626.0 L248.2 624.8 L248.6 623.4 L249.0 621.8 L249.4 620.3 L249.8 619.0 L250.2 618.1 L250.6 617.7 L251.0 617.9 L251.4 618.5 L251.8 619.6 L252.2 621.1 L252.6 622.6 L253.0 624.1 L253.4 625.4 L253.8 626.4 L254.2 627.0 L254.6 627.0 L255.0 627.0 L255.4 627.0 L255.8 627.0 L256.2 626.7 L256.6 625.8 L257.0 624.5 L257.4 622.9 L257.8 620.9 L258.2 618.8 L258.6 616.5 L259.0 614.4 L259.4 612.4 L259.8 610.8 L260.2 609.7 L260.6 609.1 L261.0 609.1 L261.4 609.7 L261.8 610.8 L262.2 611.5 L262.6 611.1 L263.0 609.0 L263.4 604.9 L263.8 598.9 L264.2 591.1 L264.6 581.9 L265.0 572.0 L265.4 562.0 L265.8 552.7 L266.2 544.9 L266.6 539.2 L267.0 536.3 L267.4 536.3 L267.8 539.2 L268.2 544.9 L268.6 552.9 L269.0 562.7 L269.4 573.5 L269.8 584.7 L270.2 595.5 L270.6 605.3 L271.0 613.5 L271.4 619.8 L271.8 624.1 L272.2 626.4 L272.6 626.5 L273.0 624.4 L273.4 620.7 L273.8 615.1 L274.2 607.9 L274.6 599.3 L275.0 589.8 L275.4 579.9 L275.8 570.4 L276.2 561.8 L276.6 554.7 L277.0 549.7 L277.4 547.1 L277.8 547.1 L278.2 549.7 L278.6 554.7 L279.0 561.8 L279.4 570.4 L279.8 579.9 L280.2 589.8 L280.6 599.3 L281.0 607.9 L281.4 615.1 L281.8 620.1 L282.2 622.2 L282.6 621.2 L283.0 617.5 L283.4 611.7 L283.8 604.8 L284.2 597.2 L284.6 589.3 L285.0 581.6 L285.4 574.7 L285.8 569.1 L286.2 565.0 L286.6 563.0 L287.0 563.0 L287.4 565.0 L287.8 569.1 L288.2 574.7 L288.6 581.6 L289.0 589.3 L289.4 597.2 L289.8 604.8 L290.2 611.7 L290.6 617.5 L291.0 622.0 L291.4 625.0 L291.8 626.7 L292.2 627.0 L292.6 627.0 L293.0 627.0 L293.4 627.0 L293.8 627.0 L294.2 627.0 L294.6 627.0 L295.0 627.0 L295.4 627.0 L295.8 627.0 L296.2 627.0 L296.6 627.0 L297.0 627.0 L297.4 627.0 L297.8 627.0 L298.2 627.0 L298.6 627.0 L299.0 627.0 L299.4 627.0 L299.8 627.0 L300.2 627.0 L300.6 627.0 L301.0 627.0 L301.4 627.0 L301.8 627.0 L302.2 627.0 L302.6 627.0 L303.0 627.0 L303.4 627.0 L303.8 627.0 L304.2 627.0 L304.6 627.0 L305.0 627.0 L305.4 627.0 L305.8 627.0 L306.2 627.0 L306.6 626.2 L307.0 624.2 L307.4 620.9 L307.8 616.5 L308.2 610.9 L308.6 604.6 L309.0 597.8 L309.4 591.0 L309.8 584.7 L310.2 579.2 L310.6 575.0 L311.0 572.3 L311.4 571.4 L311.8 572.3 L312.2 575.0 L312.6 579.2 L313.0 584.7 L313.4 591.0 L313.8 597.8 L314.2 604.6 L314.6 610.9 L315.0 615.9 L315.4 618.3 L315.8 617.6 L316.2 613.5 L316.6 606.3 L317.0 596.6 L317.4 585.5 L317.8 573.8 L318.2 562.3 L318.6 551.7 L319.0 542.8 L319.4 536.2 L319.8 532.4 L320.2 531.6 L320.6 533.9 L321.0 539.2 L321.4 547.0 L321.8 556.9 L322.2 568.0 L322.6 579.7 L323.0 591.0 L323.4 600.3 L323.8 606.8 L324.2 609.7 L324.6 608.9 L325.0 604.7 L325.4 597.7 L325.8 589.0 L326.2 580.2 L326.6 571.9 L327.0 564.8 L327.4 559.3 L327.8 555.9 L328.2 554.7 L328.6 555.9 L329.0 559.3 L329.4 564.8 L329.8 571.9 L330.2 580.2 L330.6 589.0 L331.0 597.8 L331.4 605.9 L331.8 612.3 L332.2 616.7 L332.6 618.6 L333.0 618.1 L333.4 615.7 L333.8 611.9 L334.2 607.9 L334.6 604.1 L335.0 601.0 L335.4 598.7 L335.8 597.6 L336.2 597.6 L336.6 598.7 L337.0 601.0 L337.4 604.1 L337.8 607.9 L338.2 611.9 L338.6 615.9 L339.0 619.6 L339.4 622.6 L339.8 624.9 L340.2 626.4 L340.6 627.0 L341.0 627.0 L341.4 627.0 L341.8 627.0 L342.2 627.0 L342.6 627.0 L343.0 627.0 L343.4 627.0 L343.8 627.0 L344.2 627.0 L344.6 627.0 L345.0 627.0 L345.4 627.0 L345.8 627.0 L346.2 627.0 L346.6 627.0 L347.0 627.0 L347.4 627.0 L347.8 627.0 L348.2 627.0 L348.6 627.0 L349.0 627.0 L349.4 627.0 L349.8 627.0 L350.2 627.0 L350.6 627.0 L351.0 627.0 L351.4 627.0 L351.8 627.0 L352.2 627.0 L352.6 627.0 L353.0 627.0 L353.4 627.0 L353.8 627.0 L354.2 627.0 L354.6 627.0 L355.0 627.0 L355.4 627.0 L355.8 627.0 L356.2 627.0 L356.6 627.0 L357.0 627.0 L357.4 627.0 L357.8 627.0 L358.2 626.5 L358.6 624.8 L359.0 622.0 L359.4 617.9 L359.8 612.8 L360.2 606.8 L360.6 600.3 L361.0 593.6 L361.4 587.3 L361.8 581.7 L362.2 577.3 L362.6 574.3 L363.0 573.0 L363.4 573.4 L363.8 575.6 L364.2 579.3 L364.6 584.4 L365.0 590.4 L365.4 596.9 L365.8 603.6 L366.2 609.9 L366.6 615.5 L367.0 620.1 L367.4 623.6 L367.8 625.8 L368.2 627.0 L368.6 627.0 L369.0 627.0 L369.4 627.0 L369.8 627.0 L370.2 627.0 L370.6 627.0 L371.0 627.0 L371.4 627.0 L371.8 626.7 L372.2 625.6 L372.6 623.7 L373.0 621.1 L373.4 617.9 L373.8 614.3 L374.2 610.7 L374.6 607.2 L375.0 604.2 L375.4 601.9 L375.8 600.6 L376.2 600.3 L376.6 601.1 L377.0 603.0 L377.4 605.6 L377.8 608.9 L378.2 612.5 L378.6 616.2 L379.0 619.6 L379.4 622.5 L379.8 624.7 L380.2 626.2 L380.6 627.0 L381.0 627.0 L381.4 627.0 L381.8 627.0 L382.2 627.0 L382.6 627.0 L383.0 627.0 L383.4 627.0 L383.8 627.0 L384.2 627.0 L384.6 627.0 L385.0 627.0 L385.4 627.0 L385.8 627.0 L386.2 627.0 L386.6 627.0 L387.0 627.0 L387.4 627.0 L387.8 627.0 L388.2 627.0 L388.6 627.0 L389.0 627.0 L389.4 627.0 L389.8 627.0 L390.2 627.0 L390.6 627.0 L391.0 627.0 L391.4 627.0 L391.8 627.0 L392.2 627.0 L392.6 627.0 L393.0 627.0 L393.4 627.0 L393.8 627.0 L394.2 627.0 L394.6 627.0 L395.0 627.0 L395.4 627.0 L395.8 627.0 L396.2 627.0 L396.6 627.0 L397.0 627.0 L397.4 627.0 L397.8 627.0 L398.2 627.0 L398.6 627.0 L399.0 627.0 L399.4 626.8 L399.8 626.0 L400.2 624.9 L400.6 623.4 L401.0 621.8 L401.4 620.1 L401.8 618.5 L402.2 617.3 L402.6 616.5 L403.0 616.2 L403.4 616.5 L403.8 617.3 L404.2 618.5 L404.6 620.1 L405.0 621.8 L405.4 623.4 L405.8 624.9 L406.2 626.0 L406.6 626.8 L407.0 627.0 L407.4 627.0 L407.8 627.0 L408.2 627.0 L408.6 627.0 L409.0 627.0 L409.4 627.0 L409.8 627.0 L410.2 627.0 L410.6 627.0 L411.0 627.0 L411.4 627.0 L411.8 627.0 L412.2 627.0 L412.6 627.0 L413.0 627.0 L413.4 627.0 L413.8 627.0 L414.2 627.0 L414.6 627.0 L415.0 627.0 L415.4 627.0 L415.8 627.0 L416.2 627.0 L416.6 627.0 L417.0 627.0 L417.4 627.0 L417.8 627.0 L418.2 627.0 L418.6 627.0 L419.0 627.0 L419.4 627.0 L419.8 627.0 L420.2 627.0 L420.6 627.0 L421.0 627.0 L421.4 627.0 L421.8 627.0 L422.2 627.0 L422.6 627.0 L423.0 627.0 L423.4 627.0 L423.8 627.0 L424.2 627.0 L424.6 626.1 L425.0 623.0 L425.4 617.4 L425.8 609.0 L426.2 598.1 L426.6 585.2 L427.0 570.9 L427.4 556.1 L427.8 541.8 L428.2 528.9 L428.6 518.3 L429.0 510.8 L429.4 506.9 L429.8 506.9 L430.2 510.8 L430.6 518.3 L431.0 528.9 L431.4 541.8 L431.8 556.1 L432.2 570.9 L432.6 585.2 L433.0 598.1 L433.4 609.0 L433.8 616.9 L434.2 620.8 L434.6 620.6 L435.0 616.6 L435.4 609.8 L435.8 601.5 L436.2 592.2 L436.6 582.4 L437.0 572.7 L437.4 563.8 L437.8 556.3 L438.2 550.8 L438.6 547.5 L439.0 546.9 L439.4 548.8 L439.8 553.3 L440.2 559.8 L440.6 568.1 L441.0 577.5 L441.4 587.3 L441.8 597.0 L442.2 605.8 L442.6 613.5 L443.0 619.5 L443.4 623.7 L443.8 626.2 L444.2 627.0 L444.6 627.0 L445.0 627.0 L445.4 627.0 L445.8 627.0 L446.2 627.0 L446.6 627.0 L447.0 627.0 L447.4 627.0 L447.8 627.0 L448.2 627.0 L448.6 627.0 L449.0 627.0 L449.4 627.0 L449.8 627.0 L450.2 627.0 L450.6 627.0 L451.0 627.0 L451.4 627.0 L451.8 627.0 L452.2 627.0 L452.6 627.0 L453.0 627.0 L453.4 627.0 L453.8 627.0 L454.2 627.0 L454.6 627.0 L455.0 627.0 L455.4 627.0 L455.8 627.0 L456.2 627.0 L456.6 627.0 L457.0 627.0 L457.4 627.0 L457.8 627.0 L458.2 627.0 L458.6 627.0 L459.0 627.0 L459.4 627.0 L459.8 627.0 L460.2 627.0 L460.6 627.0 L461.0 627.0 L461.4 627.0 L461.8 627.0 L462.2 627.0 L462.6 627.0 L463.0 627.0 L463.4 627.0 L463.8 627.0 L464.2 627.0 L464.6 627.0 L465.0 627.0 L465.4 627.0 L465.8 627.0 L466.2 627.0 L466.6 627.0 L467.0 627.0 L467.4 627.0 L467.8 627.0 L468.2 627.0 L468.6 627.0 L469.0 627.0 L469.4 627.0 L469.8 627.0 L470.2 627.0 L470.6 627.0 L471.0 627.0 L471.4 627.0 L471.8 627.0 L472.2 627.0 L472.6 627.0 L473.0 627.0 L473.4 627.0 L473.8 627.0 L474.2 627.0 L474.6 627.0 L475.0 627.0 L475.4 627.0 L475.8 627.0 L476.2 627.0 L476.6 627.0 L477.0 627.0 L477.4 627.0 L477.8 627.0 L478.2 627.0 L478.6 627.0 L479.0 627.0 L479.4 627.0 L479.8 627.0 L480.2 627.0 L480.6 627.0 L481.0 627.0 L481.4 627.0 L481.8 627.0 L482.2 627.0 L482.6 627.0 L483.0 627.0 L483.4 627.0 L483.8 627.0 L484.2 627.0 L484.6 627.0 L485.0 627.0 L485.4 627.0 L485.8 626.5 L486.2 623.8 L486.6 618.4 L487.0 610.2 L487.4 599.2 L487.8 585.8 L488.2 570.8 L488.6 555.0 L489.0 539.4 L489.4 525.1 L489.8 513.0 L490.2 504.1 L490.6 498.9 L491.0 497.8 L491.4 501.0 L491.8 508.1 L492.2 518.7 L492.6 532.0 L493.0 547.1 L493.4 562.9 L493.8 578.5 L494.2 592.8 L494.6 605.0 L495.0 614.7 L495.4 621.5 L495.8 625.4 L496.2 627.0 L496.6 627.0 L497.0 627.0 L497.4 627.0 L497.8 627.0 L498.2 627.0 L498.6 627.0 L499.0 627.0 L499.4 627.0 L499.8 627.0 L500.2 627.0 L500.6 627.0 L501.0 627.0 L501.4 627.0 L501.8 627.0 L502.2 627.0 L502.6 627.0 L503.0 627.0 L503.4 627.0 L503.8 627.0 L504.2 627.0 L504.6 627.0 L505.0 627.0 L505.4 627.0 L505.8 627.0 L506.2 627.0 L506.6 627.0 L507.0 627.0 L507.4 627.0 L507.8 627.0 L508.2 627.0 L508.6 627.0 L509.0 627.0 L509.4 627.0 L509.8 627.0 L510.2 627.0 L510.6 627.0 L511.0 627.0 L511.4 627.0 L511.8 627.0 L512.2 627.0 L512.6 627.0 L513.0 627.0 L513.4 627.0 L513.8 627.0 L514.2 627.0 L514.6 627.0 L515.0 627.0 L515.4 627.0 L515.8 627.0 L516.2 627.0 L516.6 627.0 L517.0 627.0 L517.4 627.0 L517.8 627.0 L518.2 627.0 L518.6 627.0 L519.0 627.0 L519.4 627.0 L519.8 627.0 L520.2 627.0 L520.6 627.0 L521.0 627.0 L521.4 627.0 L521.8 627.0 L522.2 627.0 L522.6 627.0 L523.0 627.0 L523.4 627.0 L523.8 627.0 L524.2 627.0 L524.6 627.0 L525.0 627.0 L525.4 627.0 L525.8 627.0 L526.2 627.0 L526.6 627.0 L527.0 626.8 L527.4 626.2 L527.8 625.3 L528.2 624.2 L528.6 622.9 L529.0 621.7 L529.4 620.6 L529.8 619.7 L530.2 619.2 L530.6 619.1 L531.0 619.4 L531.4 620.1 L531.8 621.1 L532.2 622.3 L532.6 623.5 L533.0 624.7 L533.4 625.8 L533.8 626.5 L534.2 627.0 L534.6 627.0 L535.0 627.0 L535.4 627.0 L535.8 625.8 L536.2 623.1 L536.6 618.8 L537.0 612.8 L537.4 605.4 L537.8 597.0 L538.2 587.9 L538.6 578.8 L539.0 570.3 L539.4 563.0 L539.8 557.4 L540.2 553.8 L540.6 552.6 L541.0 553.8 L541.4 557.4 L541.8 563.0 L542.2 570.3 L542.6 578.8 L543.0 587.9 L543.4 597.0 L543.8 605.4 L544.2 612.8 L544.6 618.8 L545.0 623.1 L545.4 625.8 L545.8 627.0 L546.2 627.0 L546.6 627.0 L547.0 627.0 L547.4 627.0 L547.8 627.0 L548.2 627.0 L548.6 627.0 L549.0 627.0 L549.4 627.0 L549.8 627.0 L550.2 627.0 L550.6 627.0 L551.0 627.0 L551.4 627.0 L551.8 627.0 L552.2 627.0 L552.6 627.0 L553.0 627.0 L553.4 627.0 L553.8 627.0 L554.2 627.0 L554.6 627.0 L555.0 627.0 L555.4 627.0 L555.8 627.0 L556.2 627.0 L556.6 627.0 L557.0 627.0 L557.4 627.0 L557.8 627.0 L558.2 627.0 L558.6 627.0 L559.0 627.0 L559.4 627.0 L559.8 627.0 L560.2 627.0 L560.6 627.0 L561.0 626.8 L561.4 625.6 L561.8 623.4 L562.2 620.1 L562.6 615.8 L563.0 610.7 L563.4 605.0 L563.8 599.2 L564.2 593.5 L564.6 588.4 L565.0 584.2 L565.4 581.2 L565.8 579.7 L566.2 579.7 L566.6 581.2 L567.0 584.2 L567.4 588.4 L567.8 593.5 L568.2 599.2 L568.6 605.0 L569.0 610.7 L569.4 615.8 L569.8 620.1 L570.2 623.4 L570.6 625.6 L571.0 626.8 L571.4 627.0 L571.8 627.0 L572.2 627.0 L572.6 627.0 L573.0 627.0 L573.4 627.0 L573.8 627.0 L574.2 627.0 L574.6 627.0 L575.0 627.0 L575.4 627.0 L575.8 627.0 L576.2 627.0 L576.6 627.0 L577.0 627.0 L577.4 627.0 L577.8 627.0 L578.2 627.0 L578.6 627.0 L579.0 627.0 L579.4 627.0 L579.8 627.0 L580.2 627.0 L580.6 627.0 L581.0 627.0 L581.4 627.0 L581.8 627.0 L582.2 627.0 L582.6 627.0 L583.0 627.0 L583.4 627.0 L583.8 627.0 L584.2 627.0 L584.6 627.0 L585.0 627.0 L585.4 627.0 L585.8 627.0 L586.2 627.0 L586.6 627.0 L587.0 627.0 L587.4 627.0 L587.8 627.0 L588.2 627.0 L588.6 627.0 L589.0 627.0 L589.4 627.0 L589.8 627.0 L590.2 627.0 L590.6 627.0 L591.0 627.0 L591.4 627.0 L591.8 627.0 L592.2 627.0 L592.6 627.0 L593.0 627.0 L593.4 627.0 L593.8 627.0 L594.2 627.0 L594.6 627.0 L595.0 627.0 L595.4 627.0 L595.8 627.0 L596.2 627.0 L596.6 627.0 L597.0 627.0 L597.4 627.0 L597.8 627.0 L598.2 627.0 L598.6 627.0 L599.0 627.0 L599.4 627.0 L599.8 627.0 L600.2 627.0 L600.6 627.0 L601.0 627.0 L601.4 627.0 L601.8 627.0 L602.2 627.0 L602.6 627.0 L603.0 627.0 L603.4 627.0 L603.8 627.0 L604.2 627.0 L604.6 627.0 L605.0 627.0 L605.4 627.0 L605.8 627.0 L606.2 627.0 L606.6 627.0 L607.0 627.0 L607.4 627.0 L607.8 627.0 L608.2 627.0 L608.6 627.0 L609.0 627.0 L609.4 627.0 L609.8 627.0 L610.2 627.0 L610.6 627.0 L611.0 627.0 L611.4 627.0 L611.8 627.0 L612.2 627.0 L612.6 627.0 L613.0 627.0 L613.4 627.0 L613.8 627.0 L614.2 627.0 L614.6 627.0 L615.0 627.0 L615.4 627.0 L615.8 627.0 L616.2 627.0 L616.6 627.0 L617.0 627.0 L617.4 627.0 L617.8 627.0 L618.2 627.0 L618.6 627.0 L619.0 627.0 L619.4 627.0 L619.8 627.0 L620.2 627.0 L620.6 627.0 L621.0 627.0 L621.4 627.0 L621.8 627.0 L622.2 627.0 L622.6 627.0 L623.0 627.0 L623.4 627.0 L623.8 627.0 L624.2 627.0 L624.6 627.0 L625.0 627.0 L625.4 627.0 L625.8 627.0 L626.2 626.3 L626.6 624.4 L627.0 621.4 L627.4 617.3 L627.8 612.2 L628.2 606.4 L628.6 600.1 L629.0 593.9 L629.4 588.0 L629.8 583.0 L630.2 579.1 L630.6 576.6 L631.0 575.8 L631.4 576.6 L631.8 579.1 L632.2 583.0 L632.6 588.0 L633.0 593.9 L633.4 600.1 L633.8 606.4 L634.2 612.2 L634.6 617.3 L635.0 621.4 L635.4 624.2 L635.8 624.7 L636.2 622.1 L636.6 616.4 L637.0 608.1 L637.4 597.5 L637.8 585.2 L638.2 571.8 L638.6 558.2 L639.0 545.2 L639.4 533.7 L639.8 524.6 L640.2 518.4 L640.6 515.7 L641.0 516.6 L641.4 521.1 L641.8 528.8 L642.2 539.2 L642.6 551.5 L643.0 565.0 L643.4 578.6 L643.8 591.6 L644.2 603.1 L644.6 612.6 L645.0 619.6 L645.4 624.3 L645.8 626.6 L646.2 627.0 L646.6 627.0 L647.0 627.0 L647.4 627.0 L647.8 627.0 L648.2 627.0 L648.6 627.0 L649.0 627.0 L649.4 627.0 L649.8 627.0 L650.2 627.0 L650.6 627.0 L651.0 627.0 L651.4 627.0 L651.8 627.0 L652.2 627.0 L652.6 627.0 L653.0 627.0 L653.4 626.5 L653.8 623.8 L654.2 618.5 L654.6 610.4 L655.0 599.5 L655.4 586.3 L655.8 571.4 L656.2 555.8 L656.6 540.3 L657.0 526.2 L657.4 514.3 L657.8 505.4 L658.2 500.3 L658.6 499.2 L659.0 502.3 L659.4 509.4 L659.8 519.9 L660.2 533.0 L660.6 548.0 L661.0 563.6 L661.4 579.0 L661.8 593.1 L662.2 605.3 L662.6 614.8 L663.0 621.5 L663.4 625.5 L663.8 627.0 L664.2 627.0 L664.6 627.0 L665.0 627.0 L665.4 627.0 L665.8 627.0 L666.2 627.0 L666.6 627.0 L667.0 627.0 L667.4 627.0 L667.8 627.0 L668.2 627.0 L668.6 627.0 L669.0 627.0 L669.4 627.0 L669.8 627.0 L670.2 627.0 L670.6 627.0 L671.0 626.9 L671.4 625.3 L671.8 622.3 L672.2 617.6 L672.6 611.4 L673.0 603.9 L673.4 595.4 L673.8 586.5 L674.2 577.6 L674.6 569.6 L675.0 562.8 L675.4 557.7 L675.8 554.8 L676.2 554.2 L676.6 556.0 L677.0 560.0 L677.4 566.0 L677.8 573.5 L678.2 582.0 L678.6 590.9 L679.0 599.7 L679.4 607.8 L679.8 614.7 L680.2 620.1 L680.6 622.7 L681.0 621.5 L681.4 616.0 L681.8 606.8 L682.2 594.6 L682.6 580.2 L683.0 564.2 L683.4 547.6 L683.8 531.6 L684.2 517.1 L684.6 505.2 L685.0 496.8 L685.4 492.5 L685.8 492.5 L686.2 496.8 L686.6 505.2 L687.0 517.1 L687.4 531.6 L687.8 547.6 L688.2 564.2 L688.6 580.2 L689.0 594.6 L689.4 606.8 L689.8 616.2 L690.2 622.5 L690.6 626.0 L691.0 627.0 L691.4 627.0 L691.8 627.0 L692.2 627.0 L692.6 627.0 L693.0 627.0 L693.4 627.0 L693.8 627.0 L694.2 627.0 L694.6 627.0 L695.0 627.0 L695.4 627.0 L695.8 627.0 L696.2 627.0 L696.6 627.0 L697.0 627.0 L697.4 627.0 L697.8 627.0 L698.2 627.0 L698.6 627.0 L699.0 627.0 L699.4 627.0 L699.8 627.0 L700.2 627.0 L700.6 627.0 L701.0 627.0 L701.4 627.0 L701.8 627.0 L702.2 627.0 L702.6 627.0 L703.0 627.0 L703.4 627.0 L703.8 627.0 L704.2 627.0 L704.6 627.0 L705.0 627.0 L705.4 627.0 L705.8 627.0 L706.2 627.0 L706.6 627.0 L707.0 627.0 L707.4 627.0 L707.8 627.0 L708.2 627.0 L708.6 627.0 L709.0 627.0 L709.4 627.0 L709.8 627.0 L710.2 627.0 L710.6 627.0 L711.0 627.0 L711.4 627.0 L711.8 627.0 L712.2 627.0 L712.6 627.0 L713.0 627.0 L713.4 627.0 L713.8 627.0 L714.2 627.0 L714.6 625.5 L715.0 621.6 L715.4 614.9 L715.8 605.5 L716.2 593.5 L716.6 579.6 L717.0 564.4 L717.4 548.9 L717.8 534.1 L718.2 521.1 L718.6 510.8 L719.0 503.8 L719.4 500.7 L719.8 501.8 L720.2 506.8 L720.6 515.6 L721.0 527.4 L721.4 541.4 L721.8 556.6 L722.2 572.1 L722.6 586.8 L723.0 599.8 L723.4 610.6 L723.8 618.6 L724.2 623.9 L724.6 626.5 L725.0 627.0 L725.4 627.0 L725.8 627.0 L726.2 627.0 L726.6 627.0 L727.0 627.0 L727.4 627.0 L727.8 627.0 L728.2 627.0 L728.6 627.0 L729.0 627.0 L729.4 627.0 L729.8 627.0 L730.2 627.0 L730.6 627.0 L731.0 627.0 L731.4 627.0 L731.8 627.0 L732.2 627.0 L732.6 627.0 L733.0 627.0 L733.4 627.0 L733.8 627.0 L734.2 627.0 L734.6 627.0 L735.0 627.0 L735.4 627.0 L735.8 627.0 L736.2 627.0 L736.6 627.0 L737.0 627.0 L737.4 627.0 L737.8 627.0 L738.2 627.0 L738.6 627.0 L739.0 627.0 L739.4 627.0 L739.8 627.0 L740.2 627.0 L740.6 627.0 L741.0 627.0 L741.4 627.0 L741.8 627.0 L742.2 627.0 L742.6 627.0 L743.0 627.0 L743.4 627.0 L743.8 627.0 L744.2 627.0 L744.6 627.0 L745.0 627.0 L745.4 627.0 L745.8 627.0" fill="none" stroke="#161616" stroke-width="1.25" stroke-linejoin="round"/>
<path d="M33.0 627.0 L33.4 627.0 L33.8 627.0 L34.2 627.0 L34.6 627.0 L35.0 627.0 L35.4 627.0 L35.8 627.0 L36.2 627.0 L36.6 627.0 L37.0 627.0 L37.4 627.0 L37.8 627.0 L38.2 627.0 L38.6 627.0 L39.0 627.0 L39.4 626.8 L39.8 625.2 L40.2 622.1 L40.6 617.4 L41.0 611.1 L41.4 603.4 L41.8 594.7 L42.2 585.5 L42.6 576.5 L43.0 568.1 L43.4 560.9 L43.8 555.5 L44.2 552.2 L44.6 551.2 L45.0 552.5 L45.4 556.1 L45.8 561.7 L46.2 568.9 L46.6 577.1 L47.0 585.8 L47.4 594.5 L47.8 602.5 L48.2 609.5 L48.6 615.1 L49.0 619.2 L49.4 621.9 L49.8 623.2 L50.2 623.8 L50.6 624.2 L51.0 624.7 L51.4 625.2 L51.8 625.6 L52.2 626.0 L52.6 626.3 L53.0 626.6 L53.4 626.9 L53.8 627.0 L54.2 627.0 L54.6 627.0 L55.0 627.0 L55.4 627.0 L55.8 627.0 L56.2 627.0 L56.6 627.0 L57.0 627.0 L57.4 627.0 L57.8 627.0 L58.2 627.0 L58.6 627.0 L59.0 627.0 L59.4 627.0 L59.8 627.0 L60.2 627.0 L60.6 627.0 L61.0 627.0 L61.4 627.0 L61.8 627.0 L62.2 627.0 L62.6 627.0 L63.0 627.0 L63.4 627.0 L63.8 627.0 L64.2 627.0 L64.6 627.0 L65.0 627.0 L65.4 625.4 L65.8 621.9 L66.2 616.4 L66.6 608.8 L67.0 599.3 L67.4 588.5 L67.8 576.9 L68.2 565.3 L68.6 554.5 L69.0 545.1 L69.4 537.9 L69.8 533.4 L70.2 531.8 L70.6 533.4 L71.0 537.9 L71.4 545.1 L71.8 554.5 L72.2 565.3 L72.6 576.9 L73.0 588.5 L73.4 599.3 L73.8 608.8 L74.2 616.4 L74.6 621.9 L75.0 625.4 L75.4 627.0 L75.8 627.0 L76.2 627.0 L76.6 627.0 L77.0 627.0 L77.4 627.0 L77.8 627.0 L78.2 627.0 L78.6 627.0 L79.0 627.0 L79.4 627.0 L79.8 627.0 L80.2 627.0 L80.6 627.0 L81.0 627.0 L81.4 627.0 L81.8 627.0 L82.2 627.0 L82.6 627.0 L83.0 627.0 L83.4 626.1 L83.8 622.8 L84.2 616.8 L84.6 608.0 L85.0 596.5 L85.4 582.9 L85.8 567.8 L86.2 552.2 L86.6 537.1 L87.0 523.4 L87.4 512.3 L87.8 504.3 L88.2 500.2 L88.6 500.2 L89.0 504.3 L89.4 512.3 L89.8 523.4 L90.2 537.1 L90.6 552.2 L91.0 567.8 L91.4 582.9 L91.8 596.5 L92.2 608.0 L92.6 616.8 L93.0 622.8 L93.4 626.1 L93.8 627.0 L94.2 627.0 L94.6 627.0 L95.0 627.0 L95.4 627.0 L95.8 627.0 L96.2 627.0 L96.6 627.0 L97.0 627.0 L97.4 627.0 L97.8 627.0 L98.2 627.0 L98.6 627.0 L99.0 627.0 L99.4 627.0 L99.8 627.0 L100.2 626.8 L100.6 626.4 L101.0 625.8 L101.4 625.1 L101.8 624.3 L102.2 623.5 L102.6 622.7 L103.0 621.9 L103.4 621.3 L103.8 620.8 L104.2 620.6 L104.6 620.5 L105.0 620.7 L105.4 621.0 L105.8 621.6 L106.2 622.3 L106.6 623.1 L107.0 623.9 L107.4 624.7 L107.8 625.5 L108.2 626.1 L108.6 626.6 L109.0 627.0 L109.4 627.0 L109.8 627.0 L110.2 627.0 L110.6 627.0 L111.0 627.0 L111.4 627.0 L111.8 627.0 L112.2 627.0 L112.6 627.0 L113.0 627.0 L113.4 627.0 L113.8 627.0 L114.2 627.0 L114.6 627.0 L115.0 627.0 L115.4 627.0 L115.8 627.0 L116.2 627.0 L116.6 627.0 L117.0 627.0 L117.4 627.0 L117.8 627.0 L118.2 627.0 L118.6 627.0 L119.0 627.0 L119.4 627.0 L119.8 627.0 L120.2 627.0 L120.6 627.0 L121.0 627.0 L121.4 627.0 L121.8 627.0 L122.2 627.0 L122.6 627.0 L123.0 627.0 L123.4 627.0 L123.8 627.0 L124.2 627.0 L124.6 627.0 L125.0 626.0 L125.4 624.0 L125.8 620.9 L126.2 616.7 L126.6 611.7 L127.0 606.1 L127.4 600.1 L127.8 594.3 L128.2 588.9 L128.6 584.4 L129.0 581.0 L129.4 579.0 L129.8 578.6 L130.2 579.8 L130.6 582.5 L131.0 586.5 L131.4 591.5 L131.8 597.2 L132.2 603.1 L132.6 609.0 L133.0 614.3 L133.4 618.9 L133.8 622.6 L134.2 625.1 L134.6 626.6 L135.0 627.0 L135.4 627.0 L135.8 627.0 L136.2 627.0 L136.6 627.0 L137.0 627.0 L137.4 627.0 L137.8 627.0 L138.2 627.0 L138.6 627.0 L139.0 627.0 L139.4 627.0 L139.8 627.0 L140.2 627.0 L140.6 627.0 L141.0 627.0 L141.4 627.0 L141.8 627.0 L142.2 627.0 L142.6 627.0 L143.0 627.0 L143.4 627.0 L143.8 627.0 L144.2 627.0 L144.6 627.0 L145.0 627.0 L145.4 627.0 L145.8 627.0 L146.2 627.0 L146.6 627.0 L147.0 627.0 L147.4 627.0 L147.8 627.0 L148.2 627.0 L148.6 627.0 L149.0 627.0 L149.4 627.0 L149.8 627.0 L150.2 627.0 L150.6 627.0 L151.0 627.0 L151.4 627.0 L151.8 627.0 L152.2 627.0 L152.6 627.0 L153.0 627.0 L153.4 627.0 L153.8 627.0 L154.2 627.0 L154.6 627.0 L155.0 627.0 L155.4 627.0 L155.8 627.0 L156.2 627.0 L156.6 627.0 L157.0 627.0 L157.4 627.0 L157.8 627.0 L158.2 627.0 L158.6 626.6 L159.0 624.7 L159.4 621.3 L159.8 616.3 L160.2 609.8 L160.6 602.0 L161.0 593.4 L161.4 584.5 L161.8 575.9 L162.2 568.1 L162.6 561.8 L163.0 557.2 L163.4 554.9 L163.8 554.9 L164.2 557.2 L164.6 561.8 L165.0 568.1 L165.4 575.9 L165.8 584.5 L166.2 593.4 L166.6 602.0 L167.0 609.8 L167.4 616.3 L167.8 621.3 L168.2 624.7 L168.6 626.6 L169.0 627.0 L169.4 627.0 L169.8 627.0 L170.2 627.0 L170.6 627.0 L171.0 627.0 L171.4 627.0 L171.8 627.0 L172.2 627.0 L172.6 627.0 L173.0 627.0 L173.4 627.0 L173.8 627.0 L174.2 627.0 L174.6 627.0 L175.0 627.0 L175.4 627.0 L175.8 627.0 L176.2 627.0 L176.6 627.0 L177.0 627.0 L177.4 627.0 L177.8 627.0 L178.2 627.0 L178.6 627.0 L179.0 627.0 L179.4 627.0 L179.8 627.0 L180.2 627.0 L180.6 627.0 L181.0 627.0 L181.4 627.0 L181.8 627.0 L182.2 627.0 L182.6 627.0 L183.0 627.0 L183.4 627.0 L183.8 627.0 L184.2 627.0 L184.6 627.0 L185.0 627.0 L185.4 627.0 L185.8 627.0 L186.2 627.0 L186.6 627.0 L187.0 627.0 L187.4 627.0 L187.8 627.0 L188.2 627.0 L188.6 627.0 L189.0 627.0 L189.4 627.0 L189.8 627.0 L190.2 627.0 L190.6 627.0 L191.0 627.0 L191.4 627.0 L191.8 627.0 L192.2 627.0 L192.6 627.0 L193.0 627.0 L193.4 627.0 L193.8 627.0 L194.2 627.0 L194.6 627.0 L195.0 627.0 L195.4 627.0 L195.8 627.0 L196.2 627.0 L196.6 627.0 L197.0 627.0 L197.4 627.0 L197.8 627.0 L198.2 627.0 L198.6 627.0 L199.0 627.0 L199.4 627.0 L199.8 627.0 L200.2 627.0 L200.6 627.0 L201.0 627.0 L201.4 627.0 L201.8 627.0 L202.2 627.0 L202.6 627.0 L203.0 627.0 L203.4 627.0 L203.8 627.0 L204.2 627.0 L204.6 627.0 L205.0 627.0 L205.4 627.0 L205.8 627.0 L206.2 627.0 L206.6 627.0 L207.0 627.0 L207.4 627.0 L207.8 627.0 L208.2 627.0 L208.6 627.0 L209.0 627.0 L209.4 627.0 L209.8 627.0 L210.2 627.0 L210.6 627.0 L211.0 627.0 L211.4 627.0 L211.8 627.0 L212.2 627.0 L212.6 627.0 L213.0 627.0 L213.4 627.0 L213.8 627.0 L214.2 627.0 L214.6 627.0 L215.0 627.0 L215.4 627.0 L215.8 627.0 L216.2 627.0 L216.6 627.0 L217.0 627.0 L217.4 627.0 L217.8 627.0 L218.2 627.0 L218.6 627.0 L219.0 627.0 L219.4 627.0 L219.8 627.0 L220.2 627.0 L220.6 627.0 L221.0 627.0 L221.4 627.0 L221.8 627.0 L222.2 627.0 L222.6 627.0 L223.0 627.0 L223.4 627.0 L223.8 627.0 L224.2 627.0 L224.6 627.0 L225.0 627.0 L225.4 627.0 L225.8 627.0 L226.2 627.0 L226.6 627.0 L227.0 627.0 L227.4 627.0 L227.8 626.8 L228.2 625.5 L228.6 623.2 L229.0 619.8 L229.4 615.4 L229.8 610.1 L230.2 604.2 L230.6 598.2 L231.0 592.3 L231.4 587.0 L231.8 582.7 L232.2 579.6 L232.6 578.0 L233.0 578.0 L233.4 579.6 L233.8 582.7 L234.2 587.0 L234.6 592.3 L235.0 598.2 L235.4 604.2 L235.8 610.1 L236.2 615.4 L236.6 619.8 L237.0 623.2 L237.4 625.5 L237.8 626.8 L238.2 627.0 L238.6 627.0 L239.0 627.0 L239.4 627.0 L239.8 627.0 L240.2 627.0 L240.6 627.0 L241.0 627.0 L241.4 627.0 L241.8 627.0 L242.2 627.0 L242.6 627.0 L243.0 627.0 L243.4 627.0 L243.8 627.0 L244.2 627.0 L244.6 627.0 L245.0 627.0 L245.4 627.0 L245.8 627.0 L246.2 627.0 L246.6 627.0 L247.0 627.0 L247.4 627.0 L247.8 627.0 L248.2 627.0 L248.6 627.0 L249.0 627.0 L249.4 627.0 L249.8 627.0 L250.2 627.0 L250.6 627.0 L251.0 627.0 L251.4 627.0 L251.8 627.0 L252.2 627.0 L252.6 627.0 L253.0 627.0 L253.4 627.0 L253.8 627.0 L254.2 627.0 L254.6 627.0 L255.0 627.0 L255.4 627.0 L255.8 627.0 L256.2 627.0 L256.6 627.0 L257.0 627.0 L257.4 627.0 L257.8 627.0 L258.2 627.0 L258.6 627.0 L259.0 627.0 L259.4 627.0 L259.8 627.0 L260.2 627.0 L260.6 627.0 L261.0 627.0 L261.4 627.0 L261.8 627.0 L262.2 627.0 L262.6 627.0 L263.0 627.0 L263.4 627.0 L263.8 627.0 L264.2 627.0 L264.6 627.0 L265.0 627.0 L265.4 627.0 L265.8 627.0 L266.2 627.0 L266.6 627.0 L267.0 627.0 L267.4 627.0 L267.8 627.0 L268.2 627.0 L268.6 627.0 L269.0 627.0 L269.4 627.0 L269.8 627.0 L270.2 627.0 L270.6 627.0 L271.0 627.0 L271.4 627.0 L271.8 627.0 L272.2 627.0 L272.6 627.0 L273.0 627.0 L273.4 627.0 L273.8 627.0 L274.2 627.0 L274.6 627.0 L275.0 627.0 L275.4 627.0 L275.8 627.0 L276.2 627.0 L276.6 627.0 L277.0 627.0 L277.4 627.0 L277.8 627.0 L278.2 627.0 L278.6 627.0 L279.0 627.0 L279.4 627.0 L279.8 627.0 L280.2 627.0 L280.6 627.0 L281.0 627.0 L281.4 627.0 L281.8 627.0 L282.2 627.0 L282.6 627.0 L283.0 627.0 L283.4 626.2 L283.8 624.9 L284.2 623.0 L284.6 620.5 L285.0 617.8 L285.4 614.9 L285.8 612.1 L286.2 609.6 L286.6 607.7 L287.0 606.4 L287.4 606.0 L287.8 606.4 L288.2 607.7 L288.6 609.6 L289.0 612.1 L289.4 614.9 L289.8 617.8 L290.2 620.5 L290.6 623.0 L291.0 624.9 L291.4 626.2 L291.8 627.0 L292.2 627.0 L292.6 627.0 L293.0 627.0 L293.4 627.0 L293.8 627.0 L294.2 627.0 L294.6 627.0 L295.0 627.0 L295.4 627.0 L295.8 627.0 L296.2 627.0 L296.6 627.0 L297.0 627.0 L297.4 627.0 L297.8 626.6 L298.2 625.0 L298.6 622.3 L299.0 618.5 L299.4 613.7 L299.8 608.1 L300.2 602.0 L300.6 595.7 L301.0 589.8 L301.4 584.6 L301.8 580.4 L302.2 577.6 L302.6 576.4 L303.0 576.8 L303.4 578.8 L303.8 582.3 L304.2 587.1 L304.6 592.7 L305.0 598.5 L305.4 603.9 L305.8 608.6 L306.2 612.1 L306.6 614.5 L307.0 615.7 L307.4 615.9 L307.8 615.6 L308.2 615.0 L308.6 614.8 L309.0 615.4 L309.4 616.5 L309.8 618.2 L310.2 620.2 L310.6 622.2 L311.0 624.1 L311.4 625.6 L311.8 626.6 L312.2 627.0 L312.6 627.0 L313.0 626.5 L313.4 625.2 L313.8 623.3 L314.2 620.9 L314.6 618.2 L315.0 615.4 L315.4 612.9 L315.8 610.8 L316.2 609.5 L316.6 609.0 L317.0 609.5 L317.4 610.8 L317.8 612.9 L318.2 615.4 L318.6 618.2 L319.0 620.9 L319.4 623.3 L319.8 625.2 L320.2 626.5 L320.6 627.0 L321.0 627.0 L321.4 627.0 L321.8 627.0 L322.2 627.0 L322.6 627.0 L323.0 627.0 L323.4 627.0 L323.8 627.0 L324.2 627.0 L324.6 627.0 L325.0 627.0 L325.4 627.0 L325.8 627.0 L326.2 627.0 L326.6 627.0 L327.0 627.0 L327.4 627.0 L327.8 627.0 L328.2 627.0 L328.6 627.0 L329.0 627.0 L329.4 627.0 L329.8 627.0 L330.2 627.0 L330.6 627.0 L331.0 627.0 L331.4 627.0 L331.8 627.0 L332.2 627.0 L332.6 627.0 L333.0 627.0 L333.4 627.0 L333.8 627.0 L334.2 627.0 L334.6 627.0 L335.0 627.0 L335.4 627.0 L335.8 627.0 L336.2 627.0 L336.6 627.0 L337.0 627.0 L337.4 627.0 L337.8 627.0 L338.2 627.0 L338.6 627.0 L339.0 627.0 L339.4 627.0 L339.8 627.0 L340.2 627.0 L340.6 627.0 L341.0 627.0 L341.4 627.0 L341.8 627.0 L342.2 627.0 L342.6 627.0 L343.0 627.0 L343.4 627.0 L343.8 627.0 L344.2 627.0 L344.6 627.0 L345.0 627.0 L345.4 627.0 L345.8 627.0 L346.2 627.0 L346.6 627.0 L347.0 627.0 L347.4 627.0 L347.8 627.0 L348.2 627.0 L348.6 627.0 L349.0 627.0 L349.4 627.0 L349.8 627.0 L350.2 627.0 L350.6 627.0 L351.0 627.0 L351.4 627.0 L351.8 627.0 L352.2 627.0 L352.6 627.0 L353.0 627.0 L353.4 627.0 L353.8 627.0 L354.2 627.0 L354.6 627.0 L355.0 627.0 L355.4 627.0 L355.8 627.0 L356.2 626.4 L356.6 625.2 L357.0 623.5 L357.4 621.4 L357.8 619.1 L358.2 616.7 L358.6 614.7 L359.0 613.1 L359.4 612.1 L359.8 611.9 L360.2 612.5 L360.6 613.8 L361.0 615.7 L361.4 617.9 L361.8 620.2 L362.2 622.5 L362.6 624.4 L363.0 625.9 L363.4 626.8 L363.8 627.0 L364.2 627.0 L364.6 627.0 L365.0 627.0 L365.4 627.0 L365.8 627.0 L366.2 627.0 L366.6 627.0 L367.0 627.0 L367.4 627.0 L367.8 627.0 L368.2 627.0 L368.6 627.0 L369.0 627.0 L369.4 627.0 L369.8 627.0 L370.2 627.0 L370.6 627.0 L371.0 627.0 L371.4 627.0 L371.8 627.0 L372.2 627.0 L372.6 627.0 L373.0 627.0 L373.4 627.0 L373.8 627.0 L374.2 627.0 L374.6 627.0 L375.0 627.0 L375.4 627.0 L375.8 627.0 L376.2 627.0 L376.6 627.0 L377.0 627.0 L377.4 627.0 L377.8 627.0 L378.2 627.0 L378.6 627.0 L379.0 627.0 L379.4 627.0 L379.8 627.0 L380.2 627.0 L380.6 627.0 L381.0 627.0 L381.4 627.0 L381.8 627.0 L382.2 627.0 L382.6 627.0 L383.0 627.0 L383.4 627.0 L383.8 627.0 L384.2 627.0 L384.6 627.0 L385.0 627.0 L385.4 627.0 L385.8 627.0 L386.2 627.0 L386.6 627.0 L387.0 627.0 L387.4 627.0 L387.8 627.0 L388.2 627.0 L388.6 627.0 L389.0 627.0 L389.4 627.0 L389.8 627.0 L390.2 627.0 L390.6 627.0 L391.0 627.0 L391.4 626.5 L391.8 624.2 L392.2 620.1 L392.6 614.1 L393.0 606.3 L393.4 597.0 L393.8 586.7 L394.2 576.0 L394.6 565.7 L395.0 556.4 L395.4 548.8 L395.8 543.4 L396.2 540.6 L396.6 540.6 L397.0 543.4 L397.4 548.8 L397.8 556.4 L398.2 565.7 L398.6 576.0 L399.0 586.7 L399.4 597.0 L399.8 606.3 L400.2 614.1 L400.6 620.1 L401.0 624.2 L401.4 626.5 L401.8 627.0 L402.2 627.0 L402.6 627.0 L403.0 627.0 L403.4 627.0 L403.8 627.0 L404.2 627.0 L404.6 627.0 L405.0 627.0 L405.4 627.0 L405.8 627.0 L406.2 627.0 L406.6 627.0 L407.0 627.0 L407.4 626.8 L407.8 625.8 L408.2 624.1 L408.6 621.7 L409.0 618.6 L409.4 614.9 L409.8 611.0 L410.2 607.0 L410.6 603.2 L411.0 599.8 L411.4 597.1 L411.8 595.3 L412.2 594.5 L412.6 594.8 L413.0 596.1 L413.4 598.4 L413.8 601.4 L414.2 605.1 L414.6 609.0 L415.0 613.0 L415.4 616.8 L415.8 620.2 L416.2 623.0 L416.6 625.1 L417.0 626.4 L417.4 627.0 L417.8 627.0 L418.2 627.0 L418.6 627.0 L419.0 627.0 L419.4 627.0 L419.8 627.0 L420.2 627.0 L420.6 627.0 L421.0 627.0 L421.4 627.0 L421.8 627.0 L422.2 627.0 L422.6 627.0 L423.0 627.0 L423.4 627.0 L423.8 627.0 L424.2 627.0 L424.6 627.0 L425.0 627.0 L425.4 627.0 L425.8 627.0 L426.2 627.0 L426.6 627.0 L427.0 627.0 L427.4 627.0 L427.8 627.0 L428.2 627.0 L428.6 627.0 L429.0 627.0 L429.4 627.0 L429.8 627.0 L430.2 627.0 L430.6 627.0 L431.0 627.0 L431.4 627.0 L431.8 627.0 L432.2 627.0 L432.6 627.0 L433.0 627.0 L433.4 627.0 L433.8 627.0 L434.2 627.0 L434.6 626.7 L435.0 625.6 L435.4 623.7 L435.8 621.1 L436.2 617.9 L436.6 614.3 L437.0 610.7 L437.4 607.2 L437.8 604.2 L438.2 601.9 L438.6 600.6 L439.0 600.3 L439.4 601.1 L439.8 603.0 L440.2 605.6 L440.6 608.9 L441.0 612.5 L441.4 616.2 L441.8 619.6 L442.2 622.5 L442.6 624.7 L443.0 626.1 L443.4 626.3 L443.8 625.5 L444.2 624.0 L444.6 621.9 L445.0 619.7 L445.4 617.3 L445.8 615.2 L446.2 613.4 L446.6 612.3 L447.0 611.9 L447.4 612.3 L447.8 613.4 L448.2 615.2 L448.6 617.3 L449.0 619.7 L449.4 621.9 L449.8 624.0 L450.2 625.5 L450.6 626.6 L451.0 627.0 L451.4 627.0 L451.8 627.0 L452.2 627.0 L452.6 627.0 L453.0 627.0 L453.4 627.0 L453.8 627.0 L454.2 627.0 L454.6 627.0 L455.0 627.0 L455.4 627.0 L455.8 627.0 L456.2 627.0 L456.6 627.0 L457.0 627.0 L457.4 627.0 L457.8 627.0 L458.2 627.0 L458.6 627.0 L459.0 627.0 L459.4 627.0 L459.8 627.0 L460.2 627.0 L460.6 627.0 L461.0 627.0 L461.4 627.0 L461.8 627.0 L462.2 627.0 L462.6 627.0 L463.0 627.0 L463.4 627.0 L463.8 627.0 L464.2 627.0 L464.6 627.0 L465.0 627.0 L465.4 627.0 L465.8 627.0 L466.2 627.0 L466.6 627.0 L467.0 627.0 L467.4 627.0 L467.8 627.0 L468.2 627.0 L468.6 627.0 L469.0 627.0 L469.4 627.0 L469.8 627.0 L470.2 627.0 L470.6 627.0 L471.0 627.0 L471.4 627.0 L471.8 627.0 L472.2 627.0 L472.6 627.0 L473.0 627.0 L473.4 627.0 L473.8 627.0 L474.2 627.0 L474.6 627.0 L475.0 627.0 L475.4 627.0 L475.8 627.0 L476.2 627.0 L476.6 627.0 L477.0 627.0 L477.4 627.0 L477.8 627.0 L478.2 627.0 L478.6 627.0 L479.0 627.0 L479.4 627.0 L479.8 627.0 L480.2 627.0 L480.6 627.0 L481.0 627.0 L481.4 627.0 L481.8 627.0 L482.2 627.0 L482.6 627.0 L483.0 627.0 L483.4 627.0 L483.8 627.0 L484.2 627.0 L484.6 627.0 L485.0 627.0 L485.4 627.0 L485.8 627.0 L486.2 627.0 L486.6 627.0 L487.0 627.0 L487.4 627.0 L487.8 627.0 L488.2 627.0 L488.6 627.0 L489.0 627.0 L489.4 627.0 L489.8 627.0 L490.2 627.0 L490.6 627.0 L491.0 627.0 L491.4 627.0 L491.8 627.0 L492.2 627.0 L492.6 627.0 L493.0 627.0 L493.4 627.0 L493.8 627.0 L494.2 627.0 L494.6 627.0 L495.0 627.0 L495.4 627.0 L495.8 627.0 L496.2 627.0 L496.6 627.0 L497.0 627.0 L497.4 627.0 L497.8 627.0 L498.2 627.0 L498.6 627.0 L499.0 627.0 L499.4 627.0 L499.8 627.0 L500.2 627.0 L500.6 627.0 L501.0 627.0 L501.4 627.0 L501.8 627.0 L502.2 627.0 L502.6 627.0 L503.0 627.0 L503.4 627.0 L503.8 627.0 L504.2 627.0 L504.6 627.0 L505.0 627.0 L505.4 627.0 L505.8 627.0 L506.2 627.0 L506.6 627.0 L507.0 627.0 L507.4 627.0 L507.8 627.0 L508.2 627.0 L508.6 627.0 L509.0 627.0 L509.4 627.0 L509.8 627.0 L510.2 627.0 L510.6 627.0 L511.0 625.9 L511.4 623.7 L511.8 620.3 L512.2 615.8 L512.6 610.3 L513.0 604.2 L513.4 597.7 L513.8 591.4 L514.2 585.5 L514.6 580.6 L515.0 576.9 L515.4 574.8 L515.8 574.4 L516.2 575.6 L516.6 578.6 L517.0 582.9 L517.4 588.1 L517.8 593.7 L518.2 599.2 L518.6 604.2 L519.0 608.3 L519.4 611.3 L519.8 613.2 L520.2 613.9 L520.6 613.8 L521.0 613.0 L521.4 612.2 L521.8 611.9 L522.2 612.2 L522.6 613.1 L523.0 614.5 L523.4 616.3 L523.8 618.3 L524.2 620.4 L524.6 622.4 L525.0 624.2 L525.4 625.5 L525.8 626.5 L526.2 627.0 L526.6 627.0 L527.0 627.0 L527.4 627.0 L527.8 627.0 L528.2 627.0 L528.6 627.0 L529.0 627.0 L529.4 627.0 L529.8 627.0 L530.2 627.0 L530.6 627.0 L531.0 627.0 L531.4 627.0 L531.8 627.0 L532.2 627.0 L532.6 627.0 L533.0 627.0 L533.4 627.0 L533.8 627.0 L534.2 627.0 L534.6 627.0 L535.0 627.0 L535.4 627.0 L535.8 627.0 L536.2 627.0 L536.6 627.0 L537.0 627.0 L537.4 627.0 L537.8 627.0 L538.2 627.0 L538.6 627.0 L539.0 627.0 L539.4 627.0 L539.8 627.0 L540.2 627.0 L540.6 627.0 L541.0 627.0 L541.4 627.0 L541.8 627.0 L542.2 627.0 L542.6 627.0 L543.0 627.0 L543.4 627.0 L543.8 627.0 L544.2 627.0 L544.6 627.0 L545.0 626.8 L545.4 624.8 L545.8 621.1 L546.2 615.3 L546.6 607.6 L547.0 598.3 L547.4 587.8 L547.8 576.7 L548.2 565.8 L548.6 555.8 L549.0 547.4 L549.4 541.2 L549.8 537.5 L550.2 536.8 L550.6 539.0 L551.0 544.0 L551.4 551.4 L551.8 560.7 L552.2 571.2 L552.6 582.3 L553.0 592.9 L553.4 601.5 L553.8 607.2 L554.2 609.2 L554.6 607.5 L555.0 602.3 L555.4 594.3 L555.8 584.6 L556.2 574.7 L556.6 565.5 L557.0 557.6 L557.4 551.5 L557.8 547.6 L558.2 546.3 L558.6 547.6 L559.0 551.5 L559.4 557.6 L559.8 565.5 L560.2 574.7 L560.6 584.6 L561.0 594.4 L561.4 603.6 L561.8 611.6 L562.2 618.1 L562.6 622.8 L563.0 625.7 L563.4 627.0 L563.8 627.0 L564.2 627.0 L564.6 627.0 L565.0 627.0 L565.4 627.0 L565.8 627.0 L566.2 627.0 L566.6 627.0 L567.0 627.0 L567.4 627.0 L567.8 627.0 L568.2 627.0 L568.6 627.0 L569.0 627.0 L569.4 627.0 L569.8 626.7 L570.2 623.7 L570.6 617.3 L571.0 606.9 L571.4 592.6 L571.8 574.9 L572.2 554.7 L572.6 533.0 L573.0 511.3 L573.4 491.0 L573.8 473.4 L574.2 459.9 L574.6 451.4 L575.0 448.5 L575.4 451.4 L575.8 459.9 L576.2 473.4 L576.6 491.0 L577.0 511.3 L577.4 533.0 L577.8 554.7 L578.2 574.9 L578.6 592.6 L579.0 606.9 L579.4 617.3 L579.8 623.7 L580.2 626.7 L580.6 627.0 L581.0 627.0 L581.4 627.0 L581.8 627.0 L582.2 627.0 L582.6 627.0 L583.0 627.0 L583.4 627.0 L583.8 627.0 L584.2 627.0 L584.6 626.9 L585.0 625.3 L585.4 622.3 L585.8 617.7 L586.2 611.6 L586.6 604.1 L587.0 595.6 L587.4 586.8 L587.8 578.1 L588.2 570.0 L588.6 563.3 L589.0 558.3 L589.4 555.4 L589.8 554.8 L590.2 556.5 L590.6 560.5 L591.0 566.5 L591.4 573.9 L591.8 582.4 L592.2 591.2 L592.6 599.9 L593.0 608.0 L593.4 614.8 L593.8 620.2 L594.2 624.0 L594.6 626.3 L595.0 627.0 L595.4 627.0 L595.8 627.0 L596.2 627.0 L596.6 627.0 L597.0 627.0 L597.4 627.0 L597.8 627.0 L598.2 627.0 L598.6 627.0 L599.0 627.0 L599.4 627.0 L599.8 627.0 L600.2 625.9 L600.6 623.4 L601.0 619.3 L601.4 613.8 L601.8 606.9 L602.2 599.0 L602.6 590.5 L603.0 582.0 L603.4 574.1 L603.8 567.2 L604.2 562.0 L604.6 558.6 L605.0 557.5 L605.4 558.6 L605.8 562.0 L606.2 567.2 L606.6 574.1 L607.0 582.0 L607.4 590.5 L607.8 599.0 L608.2 606.9 L608.6 613.8 L609.0 619.3 L609.4 623.4 L609.8 625.9 L610.2 627.0 L610.6 627.0 L611.0 627.0 L611.4 627.0 L611.8 627.0 L612.2 627.0 L612.6 627.0 L613.0 627.0 L613.4 627.0 L613.8 627.0 L614.2 627.0 L614.6 627.0 L615.0 627.0 L615.4 627.0 L615.8 627.0 L616.2 627.0 L616.6 627.0 L617.0 627.0 L617.4 625.4 L617.8 622.1 L618.2 616.6 L618.6 609.2 L619.0 599.9 L619.4 589.3 L619.8 578.0 L620.2 566.6 L620.6 556.0 L621.0 546.8 L621.4 539.8 L621.8 535.3 L622.2 533.8 L622.6 535.3 L623.0 539.8 L623.4 546.8 L623.8 556.0 L624.2 566.6 L624.6 578.0 L625.0 589.3 L625.4 599.9 L625.8 609.2 L626.2 616.6 L626.6 622.1 L627.0 625.4 L627.4 627.0 L627.8 627.0 L628.2 627.0 L628.6 627.0 L629.0 627.0 L629.4 627.0 L629.8 627.0 L630.2 627.0 L630.6 627.0 L631.0 627.0 L631.4 627.0 L631.8 627.0 L632.2 627.0 L632.6 627.0 L633.0 627.0 L633.4 627.0 L633.8 627.0 L634.2 627.0 L634.6 627.0 L635.0 627.0 L635.4 627.0 L635.8 627.0 L636.2 627.0 L636.6 627.0 L637.0 627.0 L637.4 627.0 L637.8 627.0 L638.2 627.0 L638.6 627.0 L639.0 627.0 L639.4 627.0 L639.8 627.0 L640.2 627.0 L640.6 627.0 L641.0 627.0 L641.4 627.0 L641.8 627.0 L642.2 627.0 L642.6 627.0 L643.0 627.0 L643.4 627.0 L643.8 627.0 L644.2 627.0 L644.6 627.0 L645.0 627.0 L645.4 627.0 L645.8 627.0 L646.2 627.0 L646.6 627.0 L647.0 627.0 L647.4 627.0 L647.8 627.0 L648.2 627.0 L648.6 627.0 L649.0 627.0 L649.4 627.0 L649.8 627.0 L650.2 627.0 L650.6 627.0 L651.0 627.0 L651.4 627.0 L651.8 627.0 L652.2 627.0 L652.6 627.0 L653.0 627.0 L653.4 627.0 L653.8 627.0 L654.2 627.0 L654.6 627.0 L655.0 627.0 L655.4 627.0 L655.8 627.0 L656.2 627.0 L656.6 627.0 L657.0 627.0 L657.4 627.0 L657.8 627.0 L658.2 627.0 L658.6 627.0 L659.0 627.0 L659.4 627.0 L659.8 627.0 L660.2 627.0 L660.6 627.0 L661.0 627.0 L661.4 627.0 L661.8 627.0 L662.2 627.0 L662.6 627.0 L663.0 625.8 L663.4 621.9 L663.8 614.8 L664.2 604.3 L664.6 590.6 L665.0 574.4 L665.4 556.4 L665.8 537.8 L666.2 519.7 L666.6 503.5 L667.0 490.2 L667.4 480.7 L667.8 475.8 L668.2 475.8 L668.6 480.7 L669.0 490.2 L669.4 503.5 L669.8 519.7 L670.2 537.8 L670.6 556.4 L671.0 574.4 L671.4 590.6 L671.8 604.3 L672.2 614.8 L672.6 621.9 L673.0 625.8 L673.4 627.0 L673.8 627.0 L674.2 627.0 L674.6 627.0 L675.0 627.0 L675.4 627.0 L675.8 627.0 L676.2 627.0 L676.6 627.0 L677.0 627.0 L677.4 627.0 L677.8 627.0 L678.2 627.0 L678.6 627.0 L679.0 627.0 L679.4 627.0 L679.8 627.0 L680.2 627.0 L680.6 627.0 L681.0 627.0 L681.4 627.0 L681.8 627.0 L682.2 627.0 L682.6 627.0 L683.0 627.0 L683.4 627.0 L683.8 627.0 L684.2 627.0 L684.6 627.0 L685.0 627.0 L685.4 627.0 L685.8 627.0 L686.2 627.0 L686.6 627.0 L687.0 627.0 L687.4 627.0 L687.8 627.0 L688.2 627.0 L688.6 627.0 L689.0 627.0 L689.4 627.0 L689.8 627.0 L690.2 627.0 L690.6 627.0 L691.0 627.0 L691.4 627.0 L691.8 627.0 L692.2 627.0 L692.6 627.0 L693.0 627.0 L693.4 627.0 L693.8 627.0 L694.2 627.0 L694.6 627.0 L695.0 627.0 L695.4 627.0 L695.8 627.0 L696.2 627.0 L696.6 627.0 L697.0 627.0 L697.4 627.0 L697.8 627.0 L698.2 627.0 L698.6 627.0 L699.0 627.0 L699.4 627.0 L699.8 627.0 L700.2 627.0 L700.6 627.0 L701.0 627.0 L701.4 627.0 L701.8 627.0 L702.2 627.0 L702.6 627.0 L703.0 627.0 L703.4 627.0 L703.8 627.0 L704.2 627.0 L704.6 627.0 L705.0 627.0 L705.4 627.0 L705.8 627.0 L706.2 627.0 L706.6 627.0 L707.0 627.0 L707.4 627.0 L707.8 627.0 L708.2 627.0 L708.6 627.0 L709.0 627.0 L709.4 627.0 L709.8 627.0 L710.2 627.0 L710.6 627.0 L711.0 627.0 L711.4 627.0 L711.8 627.0 L712.2 627.0 L712.6 627.0 L713.0 627.0 L713.4 627.0 L713.8 627.0 L714.2 627.0 L714.6 627.0 L715.0 627.0 L715.4 627.0 L715.8 627.0 L716.2 627.0 L716.6 627.0 L717.0 627.0 L717.4 627.0 L717.8 627.0 L718.2 627.0 L718.6 627.0 L719.0 627.0 L719.4 627.0 L719.8 627.0 L720.2 627.0 L720.6 627.0 L721.0 627.0 L721.4 627.0 L721.8 627.0 L722.2 627.0 L722.6 627.0 L723.0 627.0 L723.4 627.0 L723.8 627.0 L724.2 627.0 L724.6 627.0 L725.0 627.0 L725.4 627.0 L725.8 627.0 L726.2 627.0 L726.6 627.0 L727.0 627.0 L727.4 627.0 L727.8 627.0 L728.2 627.0 L728.6 627.0 L729.0 627.0 L729.4 627.0 L729.8 627.0 L730.2 627.0 L730.6 627.0 L731.0 627.0 L731.4 627.0 L731.8 627.0 L732.2 627.0 L732.6 627.0 L733.0 627.0 L733.4 627.0 L733.8 627.0 L734.2 627.0 L734.6 627.0 L735.0 627.0 L735.4 627.0 L735.8 627.0 L736.2 627.0 L736.6 627.0 L737.0 627.0 L737.4 627.0 L737.8 627.0 L738.2 627.0 L738.6 627.0 L739.0 627.0 L739.4 627.0 L739.8 627.0 L740.2 625.9 L740.6 623.7 L741.0 620.3 L741.4 615.8 L741.8 610.3 L742.2 604.2 L742.6 597.7 L743.0 591.4 L743.4 585.5 L743.8 580.6 L744.2 576.9 L744.6 574.8 L745.0 574.4 L745.4 575.6 L745.8 578.6" fill="none" stroke="#1b9a55" stroke-width="1.25" stroke-linejoin="round"/>
<path d="M33.0 605.3 L33.4 595.6 L33.8 584.8 L34.2 573.7 L34.6 562.9 L35.0 553.1 L35.4 545.2 L35.8 539.5 L36.2 536.6 L36.6 536.6 L37.0 539.5 L37.4 545.2 L37.8 553.1 L38.2 562.9 L38.6 573.7 L39.0 584.8 L39.4 595.6 L39.8 605.3 L40.2 613.4 L40.6 619.6 L41.0 623.8 L41.4 626.0 L41.8 626.6 L42.2 626.4 L42.6 626.1 L43.0 625.8 L43.4 625.5 L43.8 625.1 L44.2 624.7 L44.6 624.3 L45.0 623.9 L45.4 623.5 L45.8 623.1 L46.2 622.7 L46.6 622.3 L47.0 621.9 L47.4 621.6 L47.8 621.3 L48.2 621.0 L48.6 620.8 L49.0 620.7 L49.4 620.6 L49.8 620.5 L50.2 620.5 L50.6 620.5 L51.0 620.6 L51.4 620.7 L51.8 620.8 L52.2 621.0 L52.6 621.1 L53.0 621.3 L53.4 621.4 L53.8 621.6 L54.2 621.7 L54.6 621.8 L55.0 621.9 L55.4 622.0 L55.8 622.0 L56.2 622.1 L56.6 622.1 L57.0 622.1 L57.4 622.0 L57.8 622.0 L58.2 621.9 L58.6 621.8 L59.0 621.8 L59.4 621.7 L59.8 621.6 L60.2 621.6 L60.6 621.5 L61.0 621.5 L61.4 621.5 L61.8 621.6 L62.2 621.7 L62.6 621.9 L63.0 622.1 L63.4 622.3 L63.8 622.6 L64.2 622.9 L64.6 623.2 L65.0 623.5 L65.4 623.8 L65.8 624.0 L66.2 624.3 L66.6 624.5 L67.0 624.6 L67.4 624.7 L67.8 624.8 L68.2 624.8 L68.6 624.7 L69.0 624.6 L69.4 624.5 L69.8 624.3 L70.2 624.0 L70.6 623.8 L71.0 623.5 L71.4 623.2 L71.8 622.9 L72.2 622.6 L72.6 622.3 L73.0 622.1 L73.4 621.9 L73.8 621.7 L74.2 621.6 L74.6 621.5 L75.0 621.5 L75.4 621.5 L75.8 621.6 L76.2 621.7 L76.6 621.9 L77.0 622.1 L77.4 622.3 L77.8 622.6 L78.2 622.9 L78.6 623.2 L79.0 623.5 L79.4 623.9 L79.8 624.2 L80.2 624.6 L80.6 624.9 L81.0 625.3 L81.4 625.6 L81.8 625.9 L82.2 626.2 L82.6 626.4 L83.0 626.6 L83.4 626.8 L83.8 627.0 L84.2 627.0 L84.6 627.0 L85.0 627.0 L85.4 627.0 L85.8 627.0 L86.2 627.0 L86.6 627.0 L87.0 627.0 L87.4 627.0 L87.8 627.0 L88.2 627.0 L88.6 627.0 L89.0 627.0 L89.4 627.0 L89.8 627.0 L90.2 627.0 L90.6 627.0 L91.0 627.0 L91.4 627.0 L91.8 627.0 L92.2 627.0 L92.6 627.0 L93.0 627.0 L93.4 627.0 L93.8 627.0 L94.2 627.0 L94.6 627.0 L95.0 627.0 L95.4 627.0 L95.8 627.0 L96.2 627.0 L96.6 627.0 L97.0 627.0 L97.4 627.0 L97.8 627.0 L98.2 627.0 L98.6 627.0 L99.0 627.0 L99.4 627.0 L99.8 627.0 L100.2 627.0 L100.6 627.0 L101.0 627.0 L101.4 627.0 L101.8 627.0 L102.2 627.0 L102.6 627.0 L103.0 627.0 L103.4 627.0 L103.8 627.0 L104.2 627.0 L104.6 627.0 L105.0 627.0 L105.4 627.0 L105.8 627.0 L106.2 627.0 L106.6 627.0 L107.0 627.0 L107.4 627.0 L107.8 626.4 L108.2 624.4 L108.6 621.0 L109.0 616.2 L109.4 610.1 L109.8 603.0 L110.2 595.2 L110.6 587.3 L111.0 579.8 L111.4 573.2 L111.8 567.9 L112.2 564.3 L112.6 562.8 L113.0 563.3 L113.4 565.9 L113.8 570.3 L114.2 576.3 L114.6 583.5 L115.0 591.3 L115.4 599.1 L115.8 606.6 L116.2 613.3 L116.6 618.8 L117.0 622.9 L117.4 625.5 L117.8 626.9 L118.2 627.0 L118.6 627.0 L119.0 627.0 L119.4 627.0 L119.8 627.0 L120.2 627.0 L120.6 627.0 L121.0 627.0 L121.4 627.0 L121.8 627.0 L122.2 627.0 L122.6 627.0 L123.0 627.0 L123.4 627.0 L123.8 627.0 L124.2 627.0 L124.6 627.0 L125.0 627.0 L125.4 627.0 L125.8 627.0 L126.2 627.0 L126.6 627.0 L127.0 627.0 L127.4 627.0 L127.8 627.0 L128.2 627.0 L128.6 627.0 L129.0 627.0 L129.4 627.0 L129.8 627.0 L130.2 627.0 L130.6 627.0 L131.0 627.0 L131.4 627.0 L131.8 627.0 L132.2 627.0 L132.6 627.0 L133.0 627.0 L133.4 627.0 L133.8 627.0 L134.2 627.0 L134.6 627.0 L135.0 627.0 L135.4 627.0 L135.8 627.0 L136.2 627.0 L136.6 627.0 L137.0 627.0 L137.4 627.0 L137.8 627.0 L138.2 627.0 L138.6 627.0 L139.0 627.0 L139.4 627.0 L139.8 627.0 L140.2 627.0 L140.6 627.0 L141.0 627.0 L141.4 627.0 L141.8 627.0 L142.2 627.0 L142.6 627.0 L143.0 627.0 L143.4 627.0 L143.8 627.0 L144.2 627.0 L144.6 627.0 L145.0 627.0 L145.4 627.0 L145.8 627.0 L146.2 627.0 L146.6 627.0 L147.0 627.0 L147.4 627.0 L147.8 627.0 L148.2 627.0 L148.6 627.0 L149.0 627.0 L149.4 627.0 L149.8 627.0 L150.2 626.7 L150.6 625.0 L151.0 621.9 L151.4 617.3 L151.8 611.4 L152.2 604.3 L152.6 596.5 L153.0 588.5 L153.4 580.6 L153.8 573.6 L154.2 567.8 L154.6 563.7 L155.0 561.6 L155.4 561.6 L155.8 563.7 L156.2 567.8 L156.6 573.6 L157.0 580.6 L157.4 588.5 L157.8 596.5 L158.2 604.3 L158.6 611.4 L159.0 617.3 L159.4 621.9 L159.8 625.0 L160.2 626.7 L160.6 627.0 L161.0 627.0 L161.4 627.0 L161.8 627.0 L162.2 627.0 L162.6 627.0 L163.0 627.0 L163.4 627.0 L163.8 627.0 L164.2 627.0 L164.6 627.0 L165.0 627.0 L165.4 627.0 L165.8 627.0 L166.2 627.0 L166.6 627.0 L167.0 626.2 L167.4 623.8 L167.8 619.7 L168.2 614.0 L168.6 606.6 L169.0 598.1 L169.4 588.8 L169.8 579.3 L170.2 570.2 L170.6 562.3 L171.0 555.9 L171.4 551.7 L171.8 549.8 L172.2 550.4 L172.6 553.5 L173.0 558.9 L173.4 566.1 L173.8 574.7 L174.2 584.0 L174.6 593.5 L175.0 602.5 L175.4 610.5 L175.8 617.1 L176.2 622.0 L176.6 625.2 L177.0 626.8 L177.4 627.0 L177.8 627.0 L178.2 627.0 L178.6 627.0 L179.0 627.0 L179.4 627.0 L179.8 627.0 L180.2 627.0 L180.6 627.0 L181.0 627.0 L181.4 627.0 L181.8 627.0 L182.2 627.0 L182.6 627.0 L183.0 627.0 L183.4 627.0 L183.8 627.0 L184.2 627.0 L184.6 627.0 L185.0 627.0 L185.4 626.7 L185.8 625.0 L186.2 621.9 L186.6 617.3 L187.0 611.4 L187.4 604.3 L187.8 596.5 L188.2 588.5 L188.6 580.6 L189.0 573.6 L189.4 567.8 L189.8 563.7 L190.2 561.6 L190.6 561.6 L191.0 563.7 L191.4 567.8 L191.8 573.6 L192.2 580.6 L192.6 588.5 L193.0 596.5 L193.4 604.3 L193.8 611.4 L194.2 617.3 L194.6 621.9 L195.0 625.0 L195.4 626.7 L195.8 627.0 L196.2 627.0 L196.6 627.0 L197.0 627.0 L197.4 627.0 L197.8 627.0 L198.2 627.0 L198.6 627.0 L199.0 627.0 L199.4 627.0 L199.8 627.0 L200.2 627.0 L200.6 627.0 L201.0 627.0 L201.4 627.0 L201.8 627.0 L202.2 627.0 L202.6 627.0 L203.0 626.4 L203.4 624.3 L203.8 620.9 L204.2 616.0 L204.6 609.7 L205.0 602.4 L205.4 594.5 L205.8 586.5 L206.2 578.8 L206.6 572.0 L207.0 566.6 L207.4 563.0 L207.8 561.4 L208.2 561.9 L208.6 564.5 L209.0 569.1 L209.4 575.2 L209.8 582.5 L210.2 590.5 L210.6 598.5 L211.0 606.2 L211.4 613.0 L211.8 618.6 L212.2 622.8 L212.6 625.5 L213.0 626.9 L213.4 627.0 L213.8 627.0 L214.2 627.0 L214.6 627.0 L215.0 627.0 L215.4 627.0 L215.8 627.0 L216.2 627.0 L216.6 627.0 L217.0 627.0 L217.4 627.0 L217.8 627.0 L218.2 627.0 L218.6 627.0 L219.0 627.0 L219.4 627.0 L219.8 627.0 L220.2 626.8 L220.6 625.0 L221.0 621.6 L221.4 616.3 L221.8 609.2 L222.2 600.6 L222.6 591.0 L223.0 580.8 L223.4 570.8 L223.8 561.6 L224.2 553.8 L224.6 548.1 L225.0 544.8 L225.4 544.1 L225.8 546.1 L226.2 550.7 L226.6 557.5 L227.0 566.1 L227.4 575.7 L227.8 585.9 L228.2 595.9 L228.6 605.1 L229.0 613.0 L229.4 619.2 L229.8 623.3 L230.2 625.1 L230.6 624.8 L231.0 623.1 L231.4 620.8 L231.8 618.5 L232.2 616.2 L232.6 614.4 L233.0 613.2 L233.4 612.8 L233.8 613.2 L234.2 614.4 L234.6 616.2 L235.0 618.5 L235.4 620.8 L235.8 623.1 L236.2 624.9 L236.6 626.2 L237.0 627.0 L237.4 627.0 L237.8 627.0 L238.2 627.0 L238.6 627.0 L239.0 627.0 L239.4 627.0 L239.8 627.0 L240.2 627.0 L240.6 627.0 L241.0 627.0 L241.4 627.0 L241.8 627.0 L242.2 627.0 L242.6 627.0 L243.0 627.0 L243.4 627.0 L243.8 627.0 L244.2 627.0 L244.6 627.0 L245.0 627.0 L245.4 627.0 L245.8 627.0 L246.2 627.0 L246.6 627.0 L247.0 627.0 L247.4 627.0 L247.8 627.0 L248.2 627.0 L248.6 627.0 L249.0 627.0 L249.4 627.0 L249.8 627.0 L250.2 627.0 L250.6 627.0 L251.0 627.0 L251.4 627.0 L251.8 627.0 L252.2 627.0 L252.6 627.0 L253.0 626.5 L253.4 624.6 L253.8 621.6 L254.2 617.2 L254.6 611.6 L255.0 605.1 L255.4 598.1 L255.8 590.9 L256.2 584.1 L256.6 578.0 L257.0 573.2 L257.4 570.0 L257.8 568.6 L258.2 569.0 L258.6 571.4 L259.0 575.4 L259.4 580.9 L259.8 587.4 L260.2 594.5 L260.6 601.7 L261.0 608.5 L261.4 614.5 L261.8 619.5 L262.2 623.3 L262.6 625.7 L263.0 626.9 L263.4 627.0 L263.8 627.0 L264.2 627.0 L264.6 627.0 L265.0 627.0 L265.4 627.0 L265.8 626.5 L266.2 625.6 L266.6 624.4 L267.0 623.0 L267.4 621.6 L267.8 620.3 L268.2 619.3 L268.6 618.6 L269.0 618.5 L269.4 618.9 L269.8 619.7 L270.2 620.9 L270.6 622.3 L271.0 623.7 L271.4 625.0 L271.8 626.1 L272.2 626.8 L272.6 627.0 L273.0 627.0 L273.4 627.0 L273.8 627.0 L274.2 627.0 L274.6 627.0 L275.0 627.0 L275.4 627.0 L275.8 627.0 L276.2 627.0 L276.6 627.0 L277.0 627.0 L277.4 627.0 L277.8 627.0 L278.2 627.0 L278.6 627.0 L279.0 627.0 L279.4 627.0 L279.8 627.0 L280.2 627.0 L280.6 627.0 L281.0 627.0 L281.4 627.0 L281.8 627.0 L282.2 627.0 L282.6 627.0 L283.0 627.0 L283.4 627.0 L283.8 627.0 L284.2 627.0 L284.6 627.0 L285.0 627.0 L285.4 627.0 L285.8 627.0 L286.2 627.0 L286.6 627.0 L287.0 627.0 L287.4 627.0 L287.8 627.0 L288.2 627.0 L288.6 627.0 L289.0 627.0 L289.4 627.0 L289.8 627.0 L290.2 627.0 L290.6 627.0 L291.0 627.0 L291.4 627.0 L291.8 627.0 L292.2 627.0 L292.6 627.0 L293.0 627.0 L293.4 627.0 L293.8 627.0 L294.2 627.0 L294.6 627.0 L295.0 627.0 L295.4 627.0 L295.8 627.0 L296.2 627.0 L296.6 627.0 L297.0 627.0 L297.4 627.0 L297.8 627.0 L298.2 627.0 L298.6 627.0 L299.0 627.0 L299.4 627.0 L299.8 627.0 L300.2 627.0 L300.6 627.0 L301.0 627.0 L301.4 627.0 L301.8 627.0 L302.2 627.0 L302.6 627.0 L303.0 627.0 L303.4 627.0 L303.8 627.0 L304.2 627.0 L304.6 627.0 L305.0 627.0 L305.4 627.0 L305.8 627.0 L306.2 627.0 L306.6 627.0 L307.0 627.0 L307.4 627.0 L307.8 627.0 L308.2 627.0 L308.6 627.0 L309.0 627.0 L309.4 627.0 L309.8 627.0 L310.2 627.0 L310.6 627.0 L311.0 627.0 L311.4 627.0 L311.8 627.0 L312.2 627.0 L312.6 627.0 L313.0 627.0 L313.4 627.0 L313.8 627.0 L314.2 627.0 L314.6 627.0 L315.0 627.0 L315.4 627.0 L315.8 627.0 L316.2 627.0 L316.6 627.0 L317.0 627.0 L317.4 627.0 L317.8 627.0 L318.2 627.0 L318.6 627.0 L319.0 627.0 L319.4 627.0 L319.8 627.0 L320.2 627.0 L320.6 627.0 L321.0 627.0 L321.4 627.0 L321.8 627.0 L322.2 627.0 L322.6 627.0 L323.0 627.0 L323.4 627.0 L323.8 627.0 L324.2 627.0 L324.6 627.0 L325.0 627.0 L325.4 627.0 L325.8 627.0 L326.2 627.0 L326.6 627.0 L327.0 627.0 L327.4 627.0 L327.8 627.0 L328.2 627.0 L328.6 627.0 L329.0 627.0 L329.4 627.0 L329.8 627.0 L330.2 627.0 L330.6 627.0 L331.0 627.0 L331.4 627.0 L331.8 627.0 L332.2 627.0 L332.6 626.5 L333.0 624.9 L333.4 622.5 L333.8 619.2 L334.2 615.0 L334.6 610.2 L335.0 605.2 L335.4 600.0 L335.8 595.3 L336.2 591.2 L336.6 588.0 L337.0 586.0 L337.4 585.3 L337.8 586.0 L338.2 588.0 L338.6 591.2 L339.0 595.3 L339.4 600.0 L339.8 605.2 L340.2 610.2 L340.6 615.0 L341.0 618.6 L341.4 620.4 L341.8 620.1 L342.2 617.6 L342.6 613.0 L343.0 606.8 L343.4 599.9 L343.8 592.7 L344.2 585.7 L344.6 579.4 L345.0 574.3 L345.4 570.6 L345.8 568.7 L346.2 568.7 L346.6 570.6 L347.0 574.3 L347.4 579.4 L347.8 585.7 L348.2 592.7 L348.6 599.9 L349.0 606.8 L349.4 613.1 L349.8 618.4 L350.2 622.5 L350.6 625.2 L351.0 626.7 L351.4 627.0 L351.8 627.0 L352.2 627.0 L352.6 627.0 L353.0 627.0 L353.4 627.0 L353.8 627.0 L354.2 627.0 L354.6 627.0 L355.0 627.0 L355.4 627.0 L355.8 627.0 L356.2 627.0 L356.6 627.0 L357.0 627.0 L357.4 627.0 L357.8 627.0 L358.2 627.0 L358.6 627.0 L359.0 627.0 L359.4 627.0 L359.8 627.0 L360.2 627.0 L360.6 627.0 L361.0 627.0 L361.4 627.0 L361.8 627.0 L362.2 627.0 L362.6 627.0 L363.0 627.0 L363.4 627.0 L363.8 626.8 L364.2 626.0 L364.6 624.7 L365.0 622.9 L365.4 620.9 L365.8 618.7 L366.2 616.7 L366.6 615.0 L367.0 613.9 L367.4 613.3 L367.8 613.5 L368.2 614.4 L368.6 615.8 L369.0 617.7 L369.4 619.8 L369.8 621.9 L370.2 623.8 L370.6 625.4 L371.0 626.5 L371.4 627.0 L371.8 627.0 L372.2 627.0 L372.6 627.0 L373.0 627.0 L373.4 627.0 L373.8 627.0 L374.2 627.0 L374.6 627.0 L375.0 627.0 L375.4 627.0 L375.8 627.0 L376.2 627.0 L376.6 627.0 L377.0 627.0 L377.4 627.0 L377.8 627.0 L378.2 627.0 L378.6 627.0 L379.0 627.0 L379.4 627.0 L379.8 627.0 L380.2 627.0 L380.6 627.0 L381.0 627.0 L381.4 627.0 L381.8 627.0 L382.2 627.0 L382.6 627.0 L383.0 627.0 L383.4 627.0 L383.8 625.7 L384.2 622.9 L384.6 618.4 L385.0 612.1 L385.4 604.3 L385.8 595.5 L386.2 586.0 L386.6 576.4 L387.0 567.5 L387.4 559.8 L387.8 553.9 L388.2 550.2 L388.6 548.9 L389.0 550.2 L389.4 553.9 L389.8 559.8 L390.2 567.5 L390.6 576.4 L391.0 586.0 L391.4 595.5 L391.8 604.3 L392.2 612.1 L392.6 618.4 L393.0 622.9 L393.4 625.7 L393.8 627.0 L394.2 627.0 L394.6 627.0 L395.0 627.0 L395.4 627.0 L395.8 627.0 L396.2 627.0 L396.6 627.0 L397.0 627.0 L397.4 627.0 L397.8 627.0 L398.2 627.0 L398.6 627.0 L399.0 627.0 L399.4 627.0 L399.8 627.0 L400.2 627.0 L400.6 627.0 L401.0 627.0 L401.4 627.0 L401.8 627.0 L402.2 627.0 L402.6 627.0 L403.0 627.0 L403.4 627.0 L403.8 627.0 L404.2 627.0 L404.6 627.0 L405.0 627.0 L405.4 627.0 L405.8 627.0 L406.2 627.0 L406.6 627.0 L407.0 627.0 L407.4 627.0 L407.8 627.0 L408.2 627.0 L408.6 627.0 L409.0 627.0 L409.4 627.0 L409.8 627.0 L410.2 627.0 L410.6 627.0 L411.0 627.0 L411.4 627.0 L411.8 627.0 L412.2 627.0 L412.6 627.0 L413.0 627.0 L413.4 627.0 L413.8 627.0 L414.2 627.0 L414.6 627.0 L415.0 627.0 L415.4 627.0 L415.8 627.0 L416.2 625.8 L416.6 623.1 L417.0 618.8 L417.4 612.9 L417.8 605.6 L418.2 597.2 L418.6 588.2 L419.0 579.2 L419.4 570.8 L419.8 563.5 L420.2 557.9 L420.6 554.4 L421.0 553.2 L421.4 554.4 L421.8 557.9 L422.2 563.5 L422.6 570.8 L423.0 579.2 L423.4 588.2 L423.8 597.2 L424.2 605.6 L424.6 612.9 L425.0 618.8 L425.4 623.1 L425.8 625.8 L426.2 627.0 L426.6 627.0 L427.0 627.0 L427.4 627.0 L427.8 627.0 L428.2 627.0 L428.6 627.0 L429.0 627.0 L429.4 627.0 L429.8 627.0 L430.2 627.0 L430.6 627.0 L431.0 627.0 L431.4 627.0 L431.8 627.0 L432.2 627.0 L432.6 627.0 L433.0 627.0 L433.4 627.0 L433.8 627.0 L434.2 627.0 L434.6 627.0 L435.0 627.0 L435.4 627.0 L435.8 627.0 L436.2 627.0 L436.6 627.0 L437.0 627.0 L437.4 627.0 L437.8 627.0 L438.2 627.0 L438.6 627.0 L439.0 627.0 L439.4 627.0 L439.8 627.0 L440.2 627.0 L440.6 627.0 L441.0 627.0 L441.4 627.0 L441.8 627.0 L442.2 627.0 L442.6 627.0 L443.0 627.0 L443.4 627.0 L443.8 627.0 L444.2 627.0 L444.6 627.0 L445.0 627.0 L445.4 627.0 L445.8 627.0 L446.2 627.0 L446.6 627.0 L447.0 627.0 L447.4 627.0 L447.8 627.0 L448.2 627.0 L448.6 627.0 L449.0 627.0 L449.4 627.0 L449.8 627.0 L450.2 627.0 L450.6 627.0 L451.0 627.0 L451.4 627.0 L451.8 627.0 L452.2 627.0 L452.6 627.0 L453.0 627.0 L453.4 627.0 L453.8 627.0 L454.2 627.0 L454.6 627.0 L455.0 627.0 L455.4 627.0 L455.8 627.0 L456.2 627.0 L456.6 627.0 L457.0 627.0 L457.4 627.0 L457.8 627.0 L458.2 627.0 L458.6 627.0 L459.0 627.0 L459.4 627.0 L459.8 627.0 L460.2 626.6 L460.6 624.8 L461.0 621.4 L461.4 616.5 L461.8 610.1 L462.2 602.5 L462.6 594.1 L463.0 585.4 L463.4 577.0 L463.8 569.3 L464.2 563.1 L464.6 558.7 L465.0 556.4 L465.4 556.4 L465.8 558.7 L466.2 563.1 L466.6 569.3 L467.0 577.0 L467.4 585.4 L467.8 594.1 L468.2 602.5 L468.6 610.1 L469.0 616.0 L469.4 619.3 L469.8 619.3 L470.2 616.1 L470.6 609.9 L471.0 601.7 L471.4 592.5 L471.8 582.7 L472.2 573.1 L472.6 564.3 L473.0 556.8 L473.4 551.3 L473.8 548.1 L474.2 547.5 L474.6 549.4 L475.0 553.8 L475.4 560.4 L475.8 568.6 L476.2 577.9 L476.6 587.6 L477.0 597.2 L477.4 605.5 L477.8 611.3 L478.2 613.8 L478.6 612.7 L479.0 608.1 L479.4 600.5 L479.8 591.0 L480.2 580.8 L480.6 570.8 L481.0 561.6 L481.4 553.8 L481.8 548.1 L482.2 544.8 L482.6 544.1 L483.0 546.1 L483.4 550.7 L483.8 557.5 L484.2 566.1 L484.6 575.7 L485.0 585.9 L485.4 595.9 L485.8 605.1 L486.2 613.0 L486.6 619.2 L487.0 623.5 L487.4 626.1 L487.8 627.0 L488.2 627.0 L488.6 627.0 L489.0 627.0 L489.4 627.0 L489.8 627.0 L490.2 627.0 L490.6 627.0 L491.0 627.0 L491.4 627.0 L491.8 627.0 L492.2 627.0 L492.6 627.0 L493.0 627.0 L493.4 627.0 L493.8 627.0 L494.2 627.0 L494.6 627.0 L495.0 627.0 L495.4 626.9 L495.8 625.7 L496.2 623.2 L496.6 619.5 L497.0 614.4 L497.4 608.3 L497.8 601.4 L498.2 594.2 L498.6 587.1 L499.0 580.5 L499.4 575.0 L499.8 570.9 L500.2 568.5 L500.6 568.1 L501.0 569.5 L501.4 572.8 L501.8 577.6 L502.2 583.7 L502.6 590.6 L503.0 597.8 L503.4 605.0 L503.8 611.5 L504.2 617.1 L504.6 621.5 L505.0 624.6 L505.4 626.5 L505.8 627.0 L506.2 627.0 L506.6 627.0 L507.0 627.0 L507.4 627.0 L507.8 627.0 L508.2 627.0 L508.6 627.0 L509.0 627.0 L509.4 627.0 L509.8 627.0 L510.2 627.0 L510.6 627.0 L511.0 627.0 L511.4 627.0 L511.8 627.0 L512.2 627.0 L512.6 627.0 L513.0 627.0 L513.4 627.0 L513.8 627.0 L514.2 627.0 L514.6 627.0 L515.0 627.0 L515.4 627.0 L515.8 627.0 L516.2 627.0 L516.6 627.0 L517.0 627.0 L517.4 627.0 L517.8 627.0 L518.2 627.0 L518.6 627.0 L519.0 627.0 L519.4 627.0 L519.8 627.0 L520.2 627.0 L520.6 627.0 L521.0 627.0 L521.4 627.0 L521.8 627.0 L522.2 627.0 L522.6 627.0 L523.0 627.0 L523.4 627.0 L523.8 627.0 L524.2 627.0 L524.6 627.0 L525.0 627.0 L525.4 627.0 L525.8 627.0 L526.2 627.0 L526.6 627.0 L527.0 627.0 L527.4 627.0 L527.8 627.0 L528.2 627.0 L528.6 627.0 L529.0 627.0 L529.4 627.0 L529.8 627.0 L530.2 627.0 L530.6 627.0 L531.0 627.0 L531.4 627.0 L531.8 627.0 L532.2 627.0 L532.6 627.0 L533.0 627.0 L533.4 627.0 L533.8 627.0 L534.2 627.0 L534.6 627.0 L535.0 627.0 L535.4 627.0 L535.8 627.0 L536.2 627.0 L536.6 627.0 L537.0 627.0 L537.4 627.0 L537.8 627.0 L538.2 627.0 L538.6 627.0 L539.0 627.0 L539.4 627.0 L539.8 627.0 L540.2 627.0 L540.6 627.0 L541.0 627.0 L541.4 627.0 L541.8 627.0 L542.2 627.0 L542.6 627.0 L543.0 627.0 L543.4 627.0 L543.8 627.0 L544.2 627.0 L544.6 627.0 L545.0 626.5 L545.4 625.6 L545.8 624.3 L546.2 622.7 L546.6 621.0 L547.0 619.2 L547.4 617.5 L547.8 616.2 L548.2 615.2 L548.6 614.8 L549.0 615.0 L549.4 615.6 L549.8 616.8 L550.2 618.3 L550.6 620.1 L551.0 621.9 L551.4 623.6 L551.8 625.0 L552.2 626.1 L552.6 626.8 L553.0 627.0 L553.4 627.0 L553.8 627.0 L554.2 627.0 L554.6 627.0 L555.0 627.0 L555.4 627.0 L555.8 627.0 L556.2 627.0 L556.6 627.0 L557.0 627.0 L557.4 627.0 L557.8 627.0 L558.2 627.0 L558.6 627.0 L559.0 627.0 L559.4 627.0 L559.8 627.0 L560.2 627.0 L560.6 627.0 L561.0 627.0 L561.4 627.0 L561.8 627.0 L562.2 627.0 L562.6 627.0 L563.0 627.0 L563.4 627.0 L563.8 627.0 L564.2 627.0 L564.6 627.0 L565.0 627.0 L565.4 627.0 L565.8 627.0 L566.2 627.0 L566.6 627.0 L567.0 627.0 L567.4 627.0 L567.8 627.0 L568.2 627.0 L568.6 627.0 L569.0 627.0 L569.4 627.0 L569.8 627.0 L570.2 627.0 L570.6 627.0 L571.0 627.0 L571.4 627.0 L571.8 627.0 L572.2 627.0 L572.6 627.0 L573.0 627.0 L573.4 627.0 L573.8 627.0 L574.2 627.0 L574.6 627.0 L575.0 627.0 L575.4 627.0 L575.8 627.0 L576.2 627.0 L576.6 627.0 L577.0 627.0 L577.4 627.0 L577.8 627.0 L578.2 627.0 L578.6 627.0 L579.0 627.0 L579.4 627.0 L579.8 627.0 L580.2 627.0 L580.6 627.0 L581.0 627.0 L581.4 627.0 L581.8 627.0 L582.2 627.0 L582.6 627.0 L583.0 627.0 L583.4 627.0 L583.8 627.0 L584.2 627.0 L584.6 627.0 L585.0 627.0 L585.4 627.0 L585.8 627.0 L586.2 627.0 L586.6 627.0 L587.0 627.0 L587.4 627.0 L587.8 627.0 L588.2 627.0 L588.6 627.0 L589.0 627.0 L589.4 627.0 L589.8 627.0 L590.2 627.0 L590.6 627.0 L591.0 627.0 L591.4 627.0 L591.8 627.0 L592.2 627.0 L592.6 627.0 L593.0 627.0 L593.4 627.0 L593.8 627.0 L594.2 627.0 L594.6 627.0 L595.0 627.0 L595.4 627.0 L595.8 627.0 L596.2 627.0 L596.6 627.0 L597.0 627.0 L597.4 627.0 L597.8 627.0 L598.2 627.0 L598.6 627.0 L599.0 627.0 L599.4 627.0 L599.8 627.0 L600.2 627.0 L600.6 627.0 L601.0 627.0 L601.4 627.0 L601.8 627.0 L602.2 627.0 L602.6 627.0 L603.0 627.0 L603.4 627.0 L603.8 627.0 L604.2 627.0 L604.6 627.0 L605.0 627.0 L605.4 627.0 L605.8 627.0 L606.2 627.0 L606.6 627.0 L607.0 627.0 L607.4 627.0 L607.8 627.0 L608.2 627.0 L608.6 626.6 L609.0 624.3 L609.4 619.8 L609.8 612.9 L610.2 603.7 L610.6 592.5 L611.0 579.9 L611.4 566.6 L611.8 553.5 L612.2 541.5 L612.6 531.4 L613.0 523.9 L613.4 519.5 L613.8 518.6 L614.2 521.3 L614.6 527.2 L615.0 536.1 L615.4 547.3 L615.8 560.0 L616.2 573.3 L616.6 586.3 L617.0 598.3 L617.4 608.6 L617.8 616.7 L618.2 622.4 L618.6 625.7 L619.0 627.0 L619.4 627.0 L619.8 627.0 L620.2 627.0 L620.6 627.0 L621.0 627.0 L621.4 627.0 L621.8 627.0 L622.2 627.0 L622.6 627.0 L623.0 627.0 L623.4 627.0 L623.8 627.0 L624.2 627.0 L624.6 627.0 L625.0 627.0 L625.4 627.0 L625.8 627.0 L626.2 627.0 L626.6 627.0 L627.0 627.0 L627.4 627.0 L627.8 627.0 L628.2 627.0 L628.6 627.0 L629.0 627.0 L629.4 627.0 L629.8 627.0 L630.2 627.0 L630.6 627.0 L631.0 627.0 L631.4 627.0 L631.8 627.0 L632.2 627.0 L632.6 627.0 L633.0 627.0 L633.4 627.0 L633.8 627.0 L634.2 627.0 L634.6 627.0 L635.0 627.0 L635.4 627.0 L635.8 627.0 L636.2 627.0 L636.6 627.0 L637.0 627.0 L637.4 627.0 L637.8 627.0 L638.2 627.0 L638.6 627.0 L639.0 627.0 L639.4 627.0 L639.8 627.0 L640.2 627.0 L640.6 627.0 L641.0 627.0 L641.4 627.0 L641.8 627.0 L642.2 627.0 L642.6 627.0 L643.0 627.0 L643.4 627.0 L643.8 627.0 L644.2 627.0 L644.6 627.0 L645.0 626.0 L645.4 623.5 L645.8 619.7 L646.2 614.3 L646.6 607.7 L647.0 600.1 L647.4 592.0 L647.8 583.9 L648.2 576.3 L648.6 569.7 L649.0 564.7 L649.4 561.5 L649.8 560.4 L650.2 561.5 L650.6 564.7 L651.0 569.7 L651.4 576.3 L651.8 583.9 L652.2 592.0 L652.6 600.1 L653.0 607.7 L653.4 614.3 L653.8 619.7 L654.2 623.5 L654.6 626.0 L655.0 627.0 L655.4 627.0 L655.8 627.0 L656.2 627.0 L656.6 627.0 L657.0 627.0 L657.4 627.0 L657.8 627.0 L658.2 627.0 L658.6 627.0 L659.0 627.0 L659.4 627.0 L659.8 627.0 L660.2 627.0 L660.6 627.0 L661.0 627.0 L661.4 627.0 L661.8 627.0 L662.2 627.0 L662.6 627.0 L663.0 627.0 L663.4 627.0 L663.8 627.0 L664.2 627.0 L664.6 627.0 L665.0 627.0 L665.4 627.0 L665.8 627.0 L666.2 627.0 L666.6 627.0 L667.0 627.0 L667.4 627.0 L667.8 627.0 L668.2 627.0 L668.6 627.0 L669.0 627.0 L669.4 627.0 L669.8 627.0 L670.2 627.0 L670.6 627.0 L671.0 627.0 L671.4 627.0 L671.8 627.0 L672.2 627.0 L672.6 627.0 L673.0 627.0 L673.4 627.0 L673.8 627.0 L674.2 627.0 L674.6 627.0 L675.0 627.0 L675.4 627.0 L675.8 627.0 L676.2 627.0 L676.6 627.0 L677.0 627.0 L677.4 627.0 L677.8 627.0 L678.2 627.0 L678.6 627.0 L679.0 627.0 L679.4 627.0 L679.8 627.0 L680.2 627.0 L680.6 627.0 L681.0 627.0 L681.4 627.0 L681.8 627.0 L682.2 627.0 L682.6 627.0 L683.0 627.0 L683.4 627.0 L683.8 627.0 L684.2 627.0 L684.6 627.0 L685.0 627.0 L685.4 627.0 L685.8 627.0 L686.2 627.0 L686.6 627.0 L687.0 627.0 L687.4 627.0 L687.8 627.0 L688.2 627.0 L688.6 626.1 L689.0 623.8 L689.4 620.3 L689.8 615.3 L690.2 609.2 L690.6 602.2 L691.0 594.8 L691.4 587.3 L691.8 580.3 L692.2 574.2 L692.6 569.5 L693.0 566.6 L693.4 565.6 L693.8 566.6 L694.2 569.5 L694.6 574.2 L695.0 580.3 L695.4 587.3 L695.8 594.8 L696.2 602.2 L696.6 609.2 L697.0 615.3 L697.4 620.3 L697.8 623.8 L698.2 626.1 L698.6 627.0 L699.0 627.0 L699.4 627.0 L699.8 627.0 L700.2 627.0 L700.6 627.0 L701.0 627.0 L701.4 627.0 L701.8 627.0 L702.2 627.0 L702.6 627.0 L703.0 627.0 L703.4 627.0 L703.8 627.0 L704.2 627.0 L704.6 627.0 L705.0 627.0 L705.4 626.8 L705.8 625.2 L706.2 621.9 L706.6 616.9 L707.0 610.2 L707.4 602.0 L707.8 592.9 L708.2 583.2 L708.6 573.7 L709.0 565.0 L709.4 557.6 L709.8 552.2 L710.2 549.0 L710.6 548.4 L711.0 550.3 L711.4 554.6 L711.8 561.1 L712.2 569.2 L712.6 578.4 L713.0 588.1 L713.4 597.5 L713.8 606.2 L714.2 613.7 L714.6 619.6 L715.0 623.7 L715.4 626.2 L715.8 627.0 L716.2 627.0 L716.6 627.0 L717.0 627.0 L717.4 627.0 L717.8 627.0 L718.2 627.0 L718.6 627.0 L719.0 627.0 L719.4 627.0 L719.8 627.0 L720.2 627.0 L720.6 627.0 L721.0 627.0 L721.4 627.0 L721.8 627.0 L722.2 627.0 L722.6 627.0 L723.0 627.0 L723.4 627.0 L723.8 627.0 L724.2 627.0 L724.6 627.0 L725.0 627.0 L725.4 627.0 L725.8 627.0 L726.2 627.0 L726.6 627.0 L727.0 627.0 L727.4 627.0 L727.8 627.0 L728.2 627.0 L728.6 627.0 L729.0 627.0 L729.4 627.0 L729.8 627.0 L730.2 627.0 L730.6 627.0 L731.0 627.0 L731.4 626.9 L731.8 625.4 L732.2 622.5 L732.6 618.1 L733.0 612.2 L733.4 605.1 L733.8 597.0 L734.2 588.5 L734.6 580.2 L735.0 572.5 L735.4 566.0 L735.8 561.2 L736.2 558.4 L736.6 557.9 L737.0 559.6 L737.4 563.4 L737.8 569.1 L738.2 576.2 L738.6 584.3 L739.0 592.8 L739.4 601.1 L739.8 608.8 L740.2 615.3 L740.6 620.5 L741.0 624.2 L741.4 626.3 L741.8 627.0 L742.2 627.0 L742.6 627.0 L743.0 627.0 L743.4 627.0 L743.8 627.0 L744.2 627.0 L744.6 627.0 L745.0 627.0 L745.4 627.0 L745.8 627.0" fill="none" stroke="#e61e28" stroke-width="1.25" stroke-linejoin="round"/>
<path d="M33.0 618.7 L33.4 617.7 L33.8 616.9 L34.2 616.2 L34.6 615.6 L35.0 615.2 L35.4 614.9 L35.8 614.8 L36.2 614.9 L36.6 615.1 L37.0 615.4 L37.4 615.9 L37.8 616.3 L38.2 616.9 L38.6 617.4 L39.0 617.9 L39.4 618.4 L39.8 618.8 L40.2 619.2 L40.6 619.5 L41.0 619.8 L41.4 620.0 L41.8 620.2 L42.2 620.5 L42.6 620.8 L43.0 621.2 L43.4 621.7 L43.8 622.3 L44.2 622.9 L44.6 623.5 L45.0 624.0 L45.4 624.6 L45.8 625.2 L46.2 625.7 L46.6 626.1 L47.0 626.5 L47.4 626.8 L47.8 627.0 L48.2 627.0 L48.6 627.0 L49.0 627.0 L49.4 627.0 L49.8 627.0 L50.2 627.0 L50.6 627.0 L51.0 627.0 L51.4 627.0 L51.8 627.0 L52.2 627.0 L52.6 627.0 L53.0 627.0 L53.4 627.0 L53.8 627.0 L54.2 627.0 L54.6 627.0 L55.0 627.0 L55.4 627.0 L55.8 627.0 L56.2 627.0 L56.6 627.0 L57.0 627.0 L57.4 627.0 L57.8 626.2 L58.2 623.8 L58.6 619.8 L59.0 614.1 L59.4 606.9 L59.8 598.4 L60.2 589.2 L60.6 579.8 L61.0 570.9 L61.4 563.0 L61.8 556.8 L62.2 552.5 L62.6 550.7 L63.0 551.3 L63.4 554.4 L63.8 559.7 L64.2 566.8 L64.6 575.3 L65.0 584.5 L65.4 593.9 L65.8 602.8 L66.2 610.7 L66.6 617.2 L67.0 622.0 L67.4 625.2 L67.8 626.8 L68.2 627.0 L68.6 627.0 L69.0 627.0 L69.4 627.0 L69.8 627.0 L70.2 627.0 L70.6 627.0 L71.0 627.0 L71.4 627.0 L71.8 627.0 L72.2 627.0 L72.6 627.0 L73.0 627.0 L73.4 627.0 L73.8 627.0 L74.2 627.0 L74.6 627.0 L75.0 627.0 L75.4 627.0 L75.8 626.8 L76.2 626.7 L76.6 626.5 L77.0 626.3 L77.4 626.0 L77.8 625.8 L78.2 625.5 L78.6 625.2 L79.0 624.9 L79.4 624.6 L79.8 624.3 L80.2 624.0 L80.6 623.8 L81.0 623.5 L81.4 623.3 L81.8 623.1 L82.2 622.9 L82.6 622.7 L83.0 622.6 L83.4 622.5 L83.8 622.5 L84.2 622.5 L84.6 622.5 L85.0 622.6 L85.4 622.7 L85.8 622.9 L86.2 623.1 L86.6 623.3 L87.0 623.5 L87.4 623.8 L87.8 624.0 L88.2 624.3 L88.6 624.6 L89.0 624.9 L89.4 625.2 L89.8 625.5 L90.2 625.8 L90.6 625.9 L91.0 625.4 L91.4 623.8 L91.8 620.9 L92.2 616.6 L92.6 611.2 L93.0 604.7 L93.4 597.7 L93.8 590.5 L94.2 583.7 L94.6 577.6 L95.0 572.8 L95.4 569.5 L95.8 568.1 L96.2 568.5 L96.6 570.9 L97.0 575.0 L97.4 580.5 L97.8 587.1 L98.2 594.2 L98.6 601.4 L99.0 608.2 L99.4 613.5 L99.8 616.5 L100.2 616.9 L100.6 614.5 L101.0 609.6 L101.4 602.8 L101.8 595.0 L102.2 587.0 L102.6 579.4 L103.0 572.8 L103.4 567.4 L103.8 563.8 L104.2 562.3 L104.6 562.8 L105.0 565.4 L105.4 569.9 L105.8 576.0 L106.2 583.1 L106.6 591.0 L107.0 598.9 L107.4 606.5 L107.8 613.2 L108.2 618.7 L108.6 622.8 L109.0 625.5 L109.4 626.9 L109.8 627.0 L110.2 627.0 L110.6 627.0 L111.0 627.0 L111.4 627.0 L111.8 627.0 L112.2 627.0 L112.6 627.0 L113.0 627.0 L113.4 627.0 L113.8 627.0 L114.2 627.0 L114.6 627.0 L115.0 627.0 L115.4 627.0 L115.8 627.0 L116.2 627.0 L116.6 627.0 L117.0 627.0 L117.4 625.9 L117.8 623.5 L118.2 619.6 L118.6 614.2 L119.0 607.6 L119.4 599.9 L119.8 591.8 L120.2 583.6 L120.6 575.9 L121.0 569.3 L121.4 564.2 L121.8 561.0 L122.2 559.9 L122.6 561.0 L123.0 564.2 L123.4 569.3 L123.8 575.9 L124.2 583.6 L124.6 591.8 L125.0 599.9 L125.4 607.6 L125.8 614.2 L126.2 619.6 L126.6 623.5 L127.0 625.9 L127.4 627.0 L127.8 627.0 L128.2 627.0 L128.6 627.0 L129.0 627.0 L129.4 627.0 L129.8 627.0 L130.2 627.0 L130.6 627.0 L131.0 627.0 L131.4 627.0 L131.8 627.0 L132.2 627.0 L132.6 626.5 L133.0 624.6 L133.4 621.6 L133.8 617.2 L134.2 611.6 L134.6 605.1 L135.0 598.1 L135.4 590.9 L135.8 584.1 L136.2 578.0 L136.6 573.2 L137.0 570.0 L137.4 568.6 L137.8 569.0 L138.2 571.4 L138.6 575.4 L139.0 580.9 L139.4 587.4 L139.8 594.5 L140.2 601.7 L140.6 608.5 L141.0 614.3 L141.4 618.1 L141.8 619.3 L142.2 617.6 L142.6 613.2 L143.0 606.5 L143.4 598.5 L143.8 589.9 L144.2 581.3 L144.6 573.2 L145.0 566.3 L145.4 560.9 L145.8 557.6 L146.2 556.4 L146.6 557.6 L147.0 560.9 L147.4 566.3 L147.8 573.2 L148.2 581.3 L148.6 589.9 L149.0 598.5 L149.4 606.5 L149.8 613.6 L150.2 619.2 L150.6 623.3 L151.0 625.9 L151.4 627.0 L151.8 627.0 L152.2 627.0 L152.6 627.0 L153.0 627.0 L153.4 627.0 L153.8 627.0 L154.2 627.0 L154.6 627.0 L155.0 627.0 L155.4 627.0 L155.8 627.0 L156.2 627.0 L156.6 627.0 L157.0 627.0 L157.4 627.0 L157.8 627.0 L158.2 627.0 L158.6 627.0 L159.0 627.0 L159.4 627.0 L159.8 627.0 L160.2 627.0 L160.6 627.0 L161.0 627.0 L161.4 627.0 L161.8 627.0 L162.2 627.0 L162.6 627.0 L163.0 627.0 L163.4 627.0 L163.8 627.0 L164.2 627.0 L164.6 627.0 L165.0 627.0 L165.4 627.0 L165.8 627.0 L166.2 627.0 L166.6 627.0 L167.0 627.0 L167.4 627.0 L167.8 627.0 L168.2 627.0 L168.6 627.0 L169.0 627.0 L169.4 627.0 L169.8 627.0 L170.2 627.0 L170.6 627.0 L171.0 627.0 L171.4 627.0 L171.8 627.0 L172.2 627.0 L172.6 627.0 L173.0 627.0 L173.4 627.0 L173.8 627.0 L174.2 627.0 L174.6 627.0 L175.0 627.0 L175.4 627.0 L175.8 627.0 L176.2 627.0 L176.6 627.0 L177.0 627.0 L177.4 627.0 L177.8 627.0 L178.2 627.0 L178.6 627.0 L179.0 627.0 L179.4 627.0 L179.8 627.0 L180.2 627.0 L180.6 627.0 L181.0 627.0 L181.4 627.0 L181.8 627.0 L182.2 627.0 L182.6 627.0 L183.0 627.0 L183.4 627.0 L183.8 627.0 L184.2 627.0 L184.6 627.0 L185.0 627.0 L185.4 627.0 L185.8 627.0 L186.2 627.0 L186.6 627.0 L187.0 627.0 L187.4 627.0 L187.8 627.0 L188.2 627.0 L188.6 627.0 L189.0 627.0 L189.4 627.0 L189.8 627.0 L190.2 627.0 L190.6 627.0 L191.0 627.0 L191.4 627.0 L191.8 627.0 L192.2 627.0 L192.6 627.0 L193.0 627.0 L193.4 627.0 L193.8 627.0 L194.2 627.0 L194.6 627.0 L195.0 627.0 L195.4 627.0 L195.8 627.0 L196.2 627.0 L196.6 627.0 L197.0 627.0 L197.4 627.0 L197.8 627.0 L198.2 627.0 L198.6 627.0 L199.0 627.0 L199.4 627.0 L199.8 627.0 L200.2 627.0 L200.6 627.0 L201.0 627.0 L201.4 627.0 L201.8 627.0 L202.2 627.0 L202.6 627.0 L203.0 627.0 L203.4 627.0 L203.8 627.0 L204.2 627.0 L204.6 627.0 L205.0 627.0 L205.4 627.0 L205.8 627.0 L206.2 627.0 L206.6 627.0 L207.0 627.0 L207.4 627.0 L207.8 627.0 L208.2 627.0 L208.6 627.0 L209.0 627.0 L209.4 627.0 L209.8 627.0 L210.2 627.0 L210.6 627.0 L211.0 627.0 L211.4 627.0 L211.8 625.7 L212.2 622.7 L212.6 618.0 L213.0 611.4 L213.4 603.3 L213.8 594.0 L214.2 584.1 L214.6 574.2 L215.0 564.9 L215.4 556.8 L215.8 550.6 L216.2 546.7 L216.6 545.4 L217.0 546.7 L217.4 550.6 L217.8 556.8 L218.2 564.9 L218.6 574.2 L219.0 584.1 L219.4 594.0 L219.8 603.3 L220.2 611.4 L220.6 618.0 L221.0 622.7 L221.4 625.7 L221.8 627.0 L222.2 627.0 L222.6 627.0 L223.0 627.0 L223.4 627.0 L223.8 627.0 L224.2 627.0 L224.6 627.0 L225.0 627.0 L225.4 627.0 L225.8 627.0 L226.2 627.0 L226.6 627.0 L227.0 627.0 L227.4 627.0 L227.8 627.0 L228.2 627.0 L228.6 627.0 L229.0 627.0 L229.4 627.0 L229.8 627.0 L230.2 627.0 L230.6 627.0 L231.0 627.0 L231.4 627.0 L231.8 627.0 L232.2 627.0 L232.6 627.0 L233.0 627.0 L233.4 627.0 L233.8 627.0 L234.2 627.0 L234.6 627.0 L235.0 627.0 L235.4 627.0 L235.8 627.0 L236.2 626.5 L236.6 624.5 L237.0 620.7 L237.4 615.2 L237.8 608.0 L238.2 599.5 L238.6 590.1 L239.0 580.3 L239.4 570.8 L239.8 562.3 L240.2 555.3 L240.6 550.3 L241.0 547.7 L241.4 547.7 L241.8 550.3 L242.2 555.3 L242.6 562.3 L243.0 570.8 L243.4 580.3 L243.8 590.0 L244.2 599.2 L244.6 606.6 L245.0 611.6 L245.4 613.7 L245.8 613.0 L246.2 609.6 L246.6 604.1 L247.0 597.7 L247.4 591.4 L247.8 585.5 L248.2 580.6 L248.6 576.9 L249.0 574.8 L249.4 574.4 L249.8 575.6 L250.2 578.6 L250.6 582.9 L251.0 588.3 L251.4 594.5 L251.8 601.0 L252.2 607.3 L252.6 613.2 L253.0 618.2 L253.4 622.1 L253.8 624.9 L254.2 626.5 L254.6 627.0 L255.0 627.0 L255.4 627.0 L255.8 627.0 L256.2 627.0 L256.6 627.0 L257.0 627.0 L257.4 627.0 L257.8 627.0 L258.2 627.0 L258.6 627.0 L259.0 627.0 L259.4 627.0 L259.8 627.0 L260.2 627.0 L260.6 627.0 L261.0 627.0 L261.4 627.0 L261.8 627.0 L262.2 627.0 L262.6 627.0 L263.0 627.0 L263.4 627.0 L263.8 627.0 L264.2 627.0 L264.6 627.0 L265.0 627.0 L265.4 627.0 L265.8 627.0 L266.2 627.0 L266.6 627.0 L267.0 627.0 L267.4 627.0 L267.8 627.0 L268.2 627.0 L268.6 627.0 L269.0 627.0 L269.4 627.0 L269.8 627.0 L270.2 627.0 L270.6 627.0 L271.0 627.0 L271.4 627.0 L271.8 627.0 L272.2 627.0 L272.6 627.0 L273.0 627.0 L273.4 627.0 L273.8 627.0 L274.2 627.0 L274.6 627.0 L275.0 627.0 L275.4 627.0 L275.8 627.0 L276.2 627.0 L276.6 627.0 L277.0 627.0 L277.4 627.0 L277.8 627.0 L278.2 627.0 L278.6 627.0 L279.0 627.0 L279.4 627.0 L279.8 627.0 L280.2 627.0 L280.6 627.0 L281.0 627.0 L281.4 627.0 L281.8 627.0 L282.2 627.0 L282.6 627.0 L283.0 627.0 L283.4 627.0 L283.8 627.0 L284.2 627.0 L284.6 627.0 L285.0 627.0 L285.4 627.0 L285.8 627.0 L286.2 627.0 L286.6 627.0 L287.0 627.0 L287.4 627.0 L287.8 627.0 L288.2 627.0 L288.6 627.0 L289.0 627.0 L289.4 627.0 L289.8 627.0 L290.2 625.7 L290.6 623.4 L291.0 619.7 L291.4 614.9 L291.8 609.0 L292.2 602.3 L292.6 595.3 L293.0 588.4 L293.4 582.1 L293.8 576.8 L294.2 572.8 L294.6 570.5 L295.0 570.1 L295.4 571.5 L295.8 574.6 L296.2 579.3 L296.6 585.2 L297.0 591.8 L297.4 598.8 L297.8 605.7 L298.2 612.0 L298.6 617.4 L299.0 621.7 L299.4 624.7 L299.8 626.5 L300.2 627.0 L300.6 627.0 L301.0 627.0 L301.4 627.0 L301.8 627.0 L302.2 627.0 L302.6 627.0 L303.0 627.0 L303.4 627.0 L303.8 627.0 L304.2 627.0 L304.6 627.0 L305.0 627.0 L305.4 627.0 L305.8 627.0 L306.2 627.0 L306.6 627.0 L307.0 627.0 L307.4 627.0 L307.8 627.0 L308.2 627.0 L308.6 627.0 L309.0 627.0 L309.4 627.0 L309.8 627.0 L310.2 627.0 L310.6 627.0 L311.0 627.0 L311.4 627.0 L311.8 627.0 L312.2 627.0 L312.6 627.0 L313.0 627.0 L313.4 627.0 L313.8 627.0 L314.2 627.0 L314.6 627.0 L315.0 627.0 L315.4 627.0 L315.8 627.0 L316.2 627.0 L316.6 627.0 L317.0 627.0 L317.4 627.0 L317.8 627.0 L318.2 627.0 L318.6 627.0 L319.0 627.0 L319.4 627.0 L319.8 627.0 L320.2 627.0 L320.6 627.0 L321.0 627.0 L321.4 627.0 L321.8 627.0 L322.2 627.0 L322.6 627.0 L323.0 627.0 L323.4 627.0 L323.8 627.0 L324.2 627.0 L324.6 627.0 L325.0 627.0 L325.4 627.0 L325.8 627.0 L326.2 627.0 L326.6 627.0 L327.0 627.0 L327.4 627.0 L327.8 627.0 L328.2 627.0 L328.6 627.0 L329.0 627.0 L329.4 627.0 L329.8 627.0 L330.2 627.0 L330.6 627.0 L331.0 627.0 L331.4 627.0 L331.8 627.0 L332.2 627.0 L332.6 627.0 L333.0 627.0 L333.4 627.0 L333.8 627.0 L334.2 627.0 L334.6 627.0 L335.0 627.0 L335.4 627.0 L335.8 627.0 L336.2 627.0 L336.6 627.0 L337.0 627.0 L337.4 627.0 L337.8 627.0 L338.2 626.9 L338.6 626.4 L339.0 625.4 L339.4 624.2 L339.8 622.8 L340.2 621.2 L340.6 619.6 L341.0 618.1 L341.4 616.8 L341.8 615.9 L342.2 615.5 L342.6 615.5 L343.0 615.9 L343.4 616.8 L343.8 618.1 L344.2 619.6 L344.6 621.2 L345.0 622.8 L345.4 624.2 L345.8 625.4 L346.2 626.4 L346.6 626.9 L347.0 627.0 L347.4 627.0 L347.8 627.0 L348.2 627.0 L348.6 626.8 L349.0 625.1 L349.4 621.8 L349.8 616.8 L350.2 610.0 L350.6 601.7 L351.0 592.5 L351.4 582.7 L351.8 573.1 L352.2 564.3 L352.6 556.8 L353.0 551.3 L353.4 548.1 L353.8 547.5 L354.2 549.4 L354.6 553.8 L355.0 560.4 L355.4 568.6 L355.8 577.9 L356.2 587.6 L356.6 597.2 L357.0 606.0 L357.4 613.6 L357.8 619.5 L358.2 623.7 L358.6 626.2 L359.0 627.0 L359.4 627.0 L359.8 627.0 L360.2 627.0 L360.6 627.0 L361.0 627.0 L361.4 627.0 L361.8 627.0 L362.2 627.0 L362.6 627.0 L363.0 627.0 L363.4 627.0 L363.8 627.0 L364.2 627.0 L364.6 627.0 L365.0 627.0 L365.4 627.0 L365.8 627.0 L366.2 626.7 L366.6 625.1 L367.0 622.2 L367.4 617.9 L367.8 612.3 L368.2 605.6 L368.6 598.3 L369.0 590.6 L369.4 583.2 L369.8 576.6 L370.2 571.1 L370.6 567.3 L371.0 565.3 L371.4 565.3 L371.8 567.3 L372.2 571.1 L372.6 576.6 L373.0 583.2 L373.4 590.6 L373.8 598.3 L374.2 605.6 L374.6 611.4 L375.0 614.6 L375.4 614.5 L375.8 611.0 L376.2 604.3 L376.6 594.9 L377.0 584.0 L377.4 572.6 L377.8 561.6 L378.2 551.7 L378.6 543.5 L379.0 537.8 L379.4 534.8 L379.8 534.8 L380.2 537.8 L380.6 543.5 L381.0 551.7 L381.4 561.6 L381.8 572.6 L382.2 584.0 L382.6 595.0 L383.0 604.9 L383.4 613.2 L383.8 619.7 L384.2 624.0 L384.6 626.4 L385.0 627.0 L385.4 627.0 L385.8 627.0 L386.2 627.0 L386.6 627.0 L387.0 627.0 L387.4 627.0 L387.8 627.0 L388.2 627.0 L388.6 627.0 L389.0 627.0 L389.4 627.0 L389.8 627.0 L390.2 627.0 L390.6 627.0 L391.0 627.0 L391.4 627.0 L391.8 627.0 L392.2 627.0 L392.6 627.0 L393.0 627.0 L393.4 627.0 L393.8 627.0 L394.2 627.0 L394.6 627.0 L395.0 627.0 L395.4 627.0 L395.8 627.0 L396.2 627.0 L396.6 627.0 L397.0 627.0 L397.4 627.0 L397.8 627.0 L398.2 627.0 L398.6 627.0 L399.0 627.0 L399.4 625.6 L399.8 622.7 L400.2 617.9 L400.6 611.3 L401.0 603.1 L401.4 593.8 L401.8 583.8 L402.2 573.8 L402.6 564.4 L403.0 556.3 L403.4 550.1 L403.8 546.1 L404.2 544.8 L404.6 546.1 L405.0 550.1 L405.4 556.3 L405.8 564.4 L406.2 573.8 L406.6 583.8 L407.0 593.8 L407.4 603.1 L407.8 611.3 L408.2 617.9 L408.6 622.7 L409.0 625.6 L409.4 627.0 L409.8 627.0 L410.2 627.0 L410.6 627.0 L411.0 627.0 L411.4 627.0 L411.8 627.0 L412.2 627.0 L412.6 627.0 L413.0 627.0 L413.4 627.0 L413.8 627.0 L414.2 627.0 L414.6 627.0 L415.0 627.0 L415.4 627.0 L415.8 627.0 L416.2 626.8 L416.6 626.0 L417.0 624.7 L417.4 622.9 L417.8 620.9 L418.2 618.6 L418.6 616.3 L419.0 614.2 L419.4 612.4 L419.8 611.2 L420.2 610.5 L420.6 610.5 L421.0 611.2 L421.4 612.4 L421.8 614.2 L422.2 616.3 L422.6 618.6 L423.0 620.9 L423.4 622.9 L423.8 624.7 L424.2 626.0 L424.6 626.8 L425.0 627.0 L425.4 627.0 L425.8 627.0 L426.2 627.0 L426.6 627.0 L427.0 627.0 L427.4 627.0 L427.8 627.0 L428.2 627.0 L428.6 627.0 L429.0 627.0 L429.4 627.0 L429.8 627.0 L430.2 627.0 L430.6 627.0 L431.0 627.0 L431.4 627.0 L431.8 627.0 L432.2 627.0 L432.6 627.0 L433.0 627.0 L433.4 627.0 L433.8 627.0 L434.2 627.0 L434.6 627.0 L435.0 627.0 L435.4 627.0 L435.8 627.0 L436.2 627.0 L436.6 627.0 L437.0 627.0 L437.4 627.0 L437.8 627.0 L438.2 627.0 L438.6 627.0 L439.0 627.0 L439.4 627.0 L439.8 627.0 L440.2 627.0 L440.6 627.0 L441.0 627.0 L441.4 627.0 L441.8 627.0 L442.2 627.0 L442.6 627.0 L443.0 626.5 L443.4 624.9 L443.8 622.5 L444.2 619.2 L444.6 615.0 L445.0 610.2 L445.4 605.2 L445.8 600.0 L446.2 595.3 L446.6 591.2 L447.0 588.0 L447.4 586.0 L447.8 585.3 L448.2 586.0 L448.6 588.0 L449.0 591.2 L449.4 595.3 L449.8 600.0 L450.2 605.2 L450.6 610.2 L451.0 615.0 L451.4 618.6 L451.8 619.9 L452.2 618.5 L452.6 614.0 L453.0 606.7 L453.4 597.1 L453.8 586.2 L454.2 574.7 L454.6 563.3 L455.0 552.9 L455.4 544.1 L455.8 537.6 L456.2 533.9 L456.6 533.1 L457.0 535.4 L457.4 540.6 L457.8 548.3 L458.2 558.0 L458.6 568.9 L459.0 580.5 L459.4 591.8 L459.8 602.2 L460.2 611.1 L460.6 618.1 L461.0 623.0 L461.4 626.0 L461.8 627.0 L462.2 627.0 L462.6 627.0 L463.0 627.0 L463.4 627.0 L463.8 627.0 L464.2 627.0 L464.6 627.0 L465.0 627.0 L465.4 627.0 L465.8 627.0 L466.2 627.0 L466.6 626.9 L467.0 625.8 L467.4 624.1 L467.8 621.7 L468.2 618.7 L468.6 615.4 L469.0 612.1 L469.4 608.9 L469.8 606.4 L470.2 604.6 L470.6 603.8 L471.0 604.1 L471.4 605.4 L471.8 607.6 L472.2 610.4 L472.6 613.7 L473.0 617.1 L473.4 620.3 L473.8 623.0 L474.2 625.1 L474.6 626.4 L475.0 627.0 L475.4 627.0 L475.8 627.0 L476.2 627.0 L476.6 627.0 L477.0 627.0 L477.4 627.0 L477.8 627.0 L478.2 627.0 L478.6 627.0 L479.0 627.0 L479.4 627.0 L479.8 627.0 L480.2 627.0 L480.6 627.0 L481.0 627.0 L481.4 627.0 L481.8 627.0 L482.2 627.0 L482.6 627.0 L483.0 627.0 L483.4 627.0 L483.8 627.0 L484.2 627.0 L484.6 627.0 L485.0 627.0 L485.4 627.0 L485.8 627.0 L486.2 627.0 L486.6 627.0 L487.0 627.0 L487.4 627.0 L487.8 627.0 L488.2 627.0 L488.6 627.0 L489.0 627.0 L489.4 627.0 L489.8 627.0 L490.2 627.0 L490.6 627.0 L491.0 627.0 L491.4 627.0 L491.8 627.0 L492.2 627.0 L492.6 627.0 L493.0 627.0 L493.4 626.9 L493.8 626.2 L494.2 625.1 L494.6 623.5 L495.0 621.7 L495.4 619.7 L495.8 617.7 L496.2 615.9 L496.6 614.5 L497.0 613.6 L497.4 613.3 L497.8 613.6 L498.2 614.5 L498.6 615.9 L499.0 617.7 L499.4 619.7 L499.8 621.7 L500.2 623.5 L500.6 625.1 L501.0 626.2 L501.4 626.9 L501.8 627.0 L502.2 627.0 L502.6 627.0 L503.0 627.0 L503.4 626.8 L503.8 624.9 L504.2 621.3 L504.6 615.8 L505.0 608.4 L505.4 599.4 L505.8 589.3 L506.2 578.7 L506.6 568.2 L507.0 558.6 L507.4 550.5 L507.8 544.5 L508.2 541.0 L508.6 540.3 L509.0 542.4 L509.4 547.2 L509.8 554.3 L510.2 563.1 L510.6 572.7 L511.0 582.5 L511.4 591.7 L511.8 599.8 L512.2 606.3 L512.6 611.0 L513.0 613.8 L513.4 614.9 L513.8 614.8 L514.2 614.2 L514.6 613.9 L515.0 614.2 L515.4 615.0 L515.8 616.2 L516.2 617.7 L516.6 619.5 L517.0 621.3 L517.4 623.1 L517.8 624.3 L518.2 624.1 L518.6 622.0 L519.0 617.8 L519.4 611.4 L519.8 603.3 L520.2 594.0 L520.6 584.1 L521.0 574.2 L521.4 564.9 L521.8 556.8 L522.2 550.6 L522.6 546.7 L523.0 545.4 L523.4 546.7 L523.8 550.6 L524.2 556.8 L524.6 564.9 L525.0 574.2 L525.4 584.1 L525.8 594.0 L526.2 603.3 L526.6 610.6 L527.0 614.9 L527.4 615.7 L527.8 612.7 L528.2 606.4 L528.6 597.6 L529.0 587.5 L529.4 577.0 L529.8 566.9 L530.2 557.8 L530.6 550.3 L531.0 545.0 L531.4 542.2 L531.8 542.2 L532.2 545.0 L532.6 550.3 L533.0 557.8 L533.4 566.9 L533.8 577.0 L534.2 587.5 L534.6 597.6 L535.0 606.7 L535.4 614.4 L535.8 620.3 L536.2 624.3 L536.6 626.5 L537.0 627.0 L537.4 627.0 L537.8 627.0 L538.2 627.0 L538.6 627.0 L539.0 627.0 L539.4 627.0 L539.8 627.0 L540.2 627.0 L540.6 627.0 L541.0 627.0 L541.4 627.0 L541.8 627.0 L542.2 627.0 L542.6 627.0 L543.0 627.0 L543.4 627.0 L543.8 627.0 L544.2 627.0 L544.6 627.0 L545.0 627.0 L545.4 627.0 L545.8 627.0 L546.2 627.0 L546.6 627.0 L547.0 627.0 L547.4 627.0 L547.8 627.0 L548.2 627.0 L548.6 627.0 L549.0 627.0 L549.4 627.0 L549.8 627.0 L550.2 627.0 L550.6 627.0 L551.0 627.0 L551.4 627.0 L551.8 627.0 L552.2 627.0 L552.6 627.0 L553.0 627.0 L553.4 627.0 L553.8 627.0 L554.2 627.0 L554.6 627.0 L555.0 627.0 L555.4 627.0 L555.8 627.0 L556.2 627.0 L556.6 627.0 L557.0 627.0 L557.4 627.0 L557.8 627.0 L558.2 627.0 L558.6 627.0 L559.0 627.0 L559.4 627.0 L559.8 627.0 L560.2 627.0 L560.6 627.0 L561.0 627.0 L561.4 627.0 L561.8 627.0 L562.2 627.0 L562.6 627.0 L563.0 627.0 L563.4 627.0 L563.8 627.0 L564.2 627.0 L564.6 627.0 L565.0 627.0 L565.4 627.0 L565.8 627.0 L566.2 627.0 L566.6 627.0 L567.0 627.0 L567.4 627.0 L567.8 627.0 L568.2 627.0 L568.6 627.0 L569.0 627.0 L569.4 627.0 L569.8 627.0 L570.2 627.0 L570.6 627.0 L571.0 627.0 L571.4 627.0 L571.8 627.0 L572.2 627.0 L572.6 627.0 L573.0 627.0 L573.4 627.0 L573.8 627.0 L574.2 627.0 L574.6 627.0 L575.0 627.0 L575.4 627.0 L575.8 627.0 L576.2 627.0 L576.6 627.0 L577.0 627.0 L577.4 625.4 L577.8 622.0 L578.2 616.5 L578.6 608.9 L579.0 599.5 L579.4 588.8 L579.8 577.3 L580.2 565.7 L580.6 554.9 L581.0 545.6 L581.4 538.5 L581.8 533.9 L582.2 532.4 L582.6 533.9 L583.0 538.5 L583.4 545.6 L583.8 554.9 L584.2 565.7 L584.6 577.3 L585.0 588.8 L585.4 599.5 L585.8 608.9 L586.2 616.5 L586.6 622.0 L587.0 625.4 L587.4 627.0 L587.8 627.0 L588.2 627.0 L588.6 627.0 L589.0 627.0 L589.4 627.0 L589.8 627.0 L590.2 627.0 L590.6 627.0 L591.0 627.0 L591.4 627.0 L591.8 627.0 L592.2 627.0 L592.6 625.7 L593.0 622.3 L593.4 616.5 L593.8 608.3 L594.2 597.9 L594.6 585.7 L595.0 572.5 L595.4 559.0 L595.8 546.2 L596.2 534.9 L596.6 525.9 L597.0 519.8 L597.4 517.1 L597.8 518.0 L598.2 522.4 L598.6 530.0 L599.0 540.3 L599.4 552.5 L599.8 565.8 L600.2 579.2 L600.6 592.0 L601.0 603.4 L601.4 612.7 L601.8 619.7 L602.2 624.3 L602.6 626.6 L603.0 627.0 L603.4 627.0 L603.8 627.0 L604.2 627.0 L604.6 627.0 L605.0 627.0 L605.4 627.0 L605.8 627.0 L606.2 627.0 L606.6 627.0 L607.0 627.0 L607.4 627.0 L607.8 627.0 L608.2 627.0 L608.6 627.0 L609.0 627.0 L609.4 627.0 L609.8 627.0 L610.2 627.0 L610.6 627.0 L611.0 627.0 L611.4 627.0 L611.8 627.0 L612.2 627.0 L612.6 627.0 L613.0 627.0 L613.4 627.0 L613.8 627.0 L614.2 627.0 L614.6 627.0 L615.0 627.0 L615.4 627.0 L615.8 627.0 L616.2 627.0 L616.6 627.0 L617.0 627.0 L617.4 627.0 L617.8 627.0 L618.2 627.0 L618.6 627.0 L619.0 627.0 L619.4 627.0 L619.8 627.0 L620.2 627.0 L620.6 627.0 L621.0 627.0 L621.4 627.0 L621.8 627.0 L622.2 627.0 L622.6 627.0 L623.0 627.0 L623.4 627.0 L623.8 627.0 L624.2 627.0 L624.6 627.0 L625.0 627.0 L625.4 627.0 L625.8 627.0 L626.2 627.0 L626.6 627.0 L627.0 627.0 L627.4 627.0 L627.8 627.0 L628.2 627.0 L628.6 627.0 L629.0 627.0 L629.4 627.0 L629.8 627.0 L630.2 627.0 L630.6 627.0 L631.0 627.0 L631.4 627.0 L631.8 627.0 L632.2 627.0 L632.6 627.0 L633.0 627.0 L633.4 627.0 L633.8 627.0 L634.2 627.0 L634.6 627.0 L635.0 627.0 L635.4 627.0 L635.8 627.0 L636.2 627.0 L636.6 627.0 L637.0 627.0 L637.4 627.0 L637.8 627.0 L638.2 627.0 L638.6 627.0 L639.0 627.0 L639.4 627.0 L639.8 627.0 L640.2 627.0 L640.6 627.0 L641.0 627.0 L641.4 627.0 L641.8 627.0 L642.2 627.0 L642.6 627.0 L643.0 627.0 L643.4 627.0 L643.8 627.0 L644.2 627.0 L644.6 627.0 L645.0 627.0 L645.4 627.0 L645.8 627.0 L646.2 627.0 L646.6 627.0 L647.0 627.0 L647.4 627.0 L647.8 627.0 L648.2 627.0 L648.6 627.0 L649.0 627.0 L649.4 627.0 L649.8 627.0 L650.2 627.0 L650.6 627.0 L651.0 627.0 L651.4 627.0 L651.8 627.0 L652.2 627.0 L652.6 627.0 L653.0 627.0 L653.4 627.0 L653.8 627.0 L654.2 627.0 L654.6 627.0 L655.0 627.0 L655.4 627.0 L655.8 627.0 L656.2 627.0 L656.6 627.0 L657.0 627.0 L657.4 627.0 L657.8 627.0 L658.2 627.0 L658.6 627.0 L659.0 627.0 L659.4 627.0 L659.8 627.0 L660.2 627.0 L660.6 627.0 L661.0 627.0 L661.4 627.0 L661.8 627.0 L662.2 627.0 L662.6 627.0 L663.0 627.0 L663.4 627.0 L663.8 627.0 L664.2 627.0 L664.6 627.0 L665.0 627.0 L665.4 627.0 L665.8 627.0 L666.2 627.0 L666.6 627.0 L667.0 627.0 L667.4 627.0 L667.8 627.0 L668.2 627.0 L668.6 627.0 L669.0 627.0 L669.4 627.0 L669.8 627.0 L670.2 627.0 L670.6 627.0 L671.0 627.0 L671.4 627.0 L671.8 627.0 L672.2 627.0 L672.6 627.0 L673.0 627.0 L673.4 627.0 L673.8 627.0 L674.2 627.0 L674.6 627.0 L675.0 627.0 L675.4 627.0 L675.8 627.0 L676.2 627.0 L676.6 627.0 L677.0 627.0 L677.4 627.0 L677.8 627.0 L678.2 627.0 L678.6 627.0 L679.0 627.0 L679.4 627.0 L679.8 627.0 L680.2 627.0 L680.6 627.0 L681.0 627.0 L681.4 627.0 L681.8 627.0 L682.2 627.0 L682.6 627.0 L683.0 627.0 L683.4 627.0 L683.8 627.0 L684.2 627.0 L684.6 627.0 L685.0 627.0 L685.4 627.0 L685.8 627.0 L686.2 627.0 L686.6 627.0 L687.0 627.0 L687.4 627.0 L687.8 627.0 L688.2 627.0 L688.6 627.0 L689.0 627.0 L689.4 627.0 L689.8 627.0 L690.2 627.0 L690.6 627.0 L691.0 627.0 L691.4 627.0 L691.8 627.0 L692.2 627.0 L692.6 627.0 L693.0 627.0 L693.4 627.0 L693.8 627.0 L694.2 627.0 L694.6 627.0 L695.0 627.0 L695.4 627.0 L695.8 627.0 L696.2 627.0 L696.6 627.0 L697.0 625.5 L697.4 622.4 L697.8 617.3 L698.2 610.3 L698.6 601.6 L699.0 591.7 L699.4 581.1 L699.8 570.4 L700.2 560.4 L700.6 551.8 L701.0 545.2 L701.4 541.0 L701.8 539.6 L702.2 541.0 L702.6 545.2 L703.0 551.8 L703.4 560.4 L703.8 570.4 L704.2 581.1 L704.6 591.7 L705.0 601.6 L705.4 610.3 L705.8 617.3 L706.2 622.4 L706.6 625.5 L707.0 627.0 L707.4 627.0 L707.8 627.0 L708.2 627.0 L708.6 627.0 L709.0 627.0 L709.4 627.0 L709.8 627.0 L710.2 627.0 L710.6 627.0 L711.0 627.0 L711.4 627.0 L711.8 627.0 L712.2 627.0 L712.6 627.0 L713.0 627.0 L713.4 627.0 L713.8 627.0 L714.2 627.0 L714.6 627.0 L715.0 627.0 L715.4 627.0 L715.8 627.0 L716.2 627.0 L716.6 627.0 L717.0 627.0 L717.4 627.0 L717.8 627.0 L718.2 627.0 L718.6 627.0 L719.0 627.0 L719.4 627.0 L719.8 627.0 L720.2 627.0 L720.6 627.0 L721.0 627.0 L721.4 627.0 L721.8 627.0 L722.2 626.9 L722.6 625.5 L723.0 622.8 L723.4 618.6 L723.8 613.0 L724.2 606.2 L724.6 598.5 L725.0 590.5 L725.4 582.5 L725.8 575.2 L726.2 569.1 L726.6 564.5 L727.0 561.9 L727.4 561.4 L727.8 563.0 L728.2 566.6 L728.6 572.0 L729.0 578.8 L729.4 586.5 L729.8 594.5 L730.2 602.4 L730.6 609.7 L731.0 616.0 L731.4 620.9 L731.8 624.3 L732.2 626.4 L732.6 627.0 L733.0 627.0 L733.4 627.0 L733.8 627.0 L734.2 627.0 L734.6 627.0 L735.0 627.0 L735.4 627.0 L735.8 627.0 L736.2 627.0 L736.6 627.0 L737.0 627.0 L737.4 627.0 L737.8 627.0 L738.2 627.0 L738.6 627.0 L739.0 627.0 L739.4 627.0 L739.8 627.0 L740.2 627.0 L740.6 627.0 L741.0 627.0 L741.4 627.0 L741.8 627.0 L742.2 627.0 L742.6 627.0 L743.0 627.0 L743.4 627.0 L743.8 627.0 L744.2 627.0 L744.6 627.0 L745.0 627.0 L745.4 627.0 L745.8 627.0" fill="none" stroke="#2b55ad" stroke-width="1.25" stroke-linejoin="round"/>
</g>
<g id="panel-d">
<text x="773.70" y="417.80" font-size="22.5" text-anchor="start" fill="#111" textLength="19.20" lengthAdjust="spacingAndGlyphs" stroke="#111" stroke-width="0.3">d.</text>
<text x="811.50" y="407.50" font-size="16" text-anchor="start" fill="#111" textLength="7.90" lengthAdjust="spacingAndGlyphs" stroke="#111" stroke-width="0.25">L</text>
<text x="830.00" y="407.50" font-size="16" text-anchor="start" fill="#111" textLength="7.30" lengthAdjust="spacingAndGlyphs" stroke="#111" stroke-width="0.25">1</text>
<text x="845.00" y="407.50" font-size="16" text-anchor="start" fill="#111" textLength="8.80" lengthAdjust="spacingAndGlyphs" stroke="#111" stroke-width="0.25">2</text>
<text x="862.80" y="407.50" font-size="16" text-anchor="start" fill="#111" textLength="9.10" lengthAdjust="spacingAndGlyphs" stroke="#111" stroke-width="0.25">3</text>
<text x="747.80" y="588.40" font-size="15" text-anchor="start" fill="#111" textLength="55.30" lengthAdjust="spacingAndGlyphs" stroke="#111" stroke-width="0.25">100 bp</text>
<text x="757.50" y="611.20" font-size="15" text-anchor="start" fill="#111" textLength="45.60" lengthAdjust="spacingAndGlyphs" stroke="#111" stroke-width="0.25">50 bp</text>
<text x="757.50" y="628.50" font-size="15" text-anchor="start" fill="#111" textLength="45.60" lengthAdjust="spacingAndGlyphs" stroke="#111" stroke-width="0.25">25 bp</text>
<rect x="807.1" y="411" width="68.69999999999993" height="219.39999999999998" fill="url(#gelbg)"/>
<rect x="807.1" y="411" width="68.69999999999993" height="219.39999999999998" fill="url(#gelv)"/>
<g clip-path="url(#gelclip)">
<g transform="matrix(1 0 -0.0125 1 5.263 0)">
<rect x="827.6" y="421" width="13.4" height="196" fill="url(#lane1)" filter="url(#b1)"/>
<rect x="827.0" y="421" width="2.7" height="196" fill="url(#edge1)" filter="url(#b1)"/>
<rect x="839.2" y="421" width="2.0" height="196" fill="url(#edge1)" filter="url(#b1)" opacity="0.8"/>
<rect x="829" y="414.4" width="11" height="1.8" fill="#8c8c8c" filter="url(#b08)"/>
<rect x="827.8" y="419.9" width="13.2" height="2.4" fill="#f0f0f0" filter="url(#b08)"/>
<path d="M827.8 548 L828 611 Q828.3 618 834.3 618 Q840.3 618 840.6 611 L840.8 548 L839.9 548 C839.6 566 837.8 577 834.3 580.5 C830.8 577 829 566 828.7 548 Z" fill="#ffffff" filter="url(#b12)"/>
<path d="M834.3 586 C831.5 591 829.8 600 829.8 610 Q829.8 616 834.3 616 Q838.8 616 838.8 610 C838.8 600 837.1 591 834.3 586 Z" fill="#ffffff" filter="url(#b08)"/>
<rect x="829.5" y="623.2" width="10" height="3.6" fill="#b0b0b0" filter="url(#b12)"/>
</g>
<g transform="matrix(1 0 -0.0165 1 6.947 0)">
<rect x="846.6" y="421" width="12.4" height="195" fill="url(#lane2)" filter="url(#b15)"/>
<rect x="847.6" y="414.4" width="10.2" height="1.8" fill="#808080" filter="url(#b08)"/>
<rect x="846.3" y="420" width="12.6" height="2.3" fill="#c0c0c0" filter="url(#b08)"/>
<rect x="847" y="541.5" width="12.5" height="3" fill="rgb(66,66,66)" filter="url(#b12)"/>
<rect x="847" y="547.3" width="12.5" height="3" fill="rgb(70,70,70)" filter="url(#b12)"/>
<rect x="847" y="552.9" width="12.5" height="3" fill="rgb(74,74,74)" filter="url(#b12)"/>
<rect x="847" y="558.5" width="12.5" height="3" fill="rgb(78,78,78)" filter="url(#b12)"/>
<rect x="847" y="565.1" width="12.5" height="3" fill="rgb(82,82,82)" filter="url(#b12)"/>
<rect x="847" y="570.7" width="12.5" height="3" fill="rgb(86,86,86)" filter="url(#b12)"/>
<rect x="847" y="577.3" width="12.5" height="3" fill="rgb(90,90,90)" filter="url(#b12)"/>
<rect x="847" y="584.8" width="12.5" height="3" fill="rgb(92,92,92)" filter="url(#b12)"/>
<rect x="847" y="594.2" width="12.5" height="3" fill="rgb(92,92,92)" filter="url(#b12)"/>
<rect x="847" y="603.5" width="12.5" height="3" fill="rgb(92,92,92)" filter="url(#b12)"/>
</g>
<g transform="matrix(1 0 -0.0075 1 3.157 0)">
<rect x="810" y="478" width="12" height="150" fill="url(#ladglow)" filter="url(#b15)"/>
<rect x="810" y="476.3" width="12" height="3" fill="rgb(111,111,111)" filter="url(#b12)"/>
<rect x="810" y="481.5" width="12" height="3" fill="rgb(103,103,103)" filter="url(#b12)"/>
<rect x="810" y="487.0" width="12" height="3" fill="rgb(86,86,86)" filter="url(#b12)"/>
<rect x="810" y="492.5" width="12" height="3" fill="rgb(74,74,74)" filter="url(#b12)"/>
<rect x="810" y="498.5" width="12" height="3" fill="rgb(74,74,74)" filter="url(#b12)"/>
<rect x="810" y="504.5" width="12" height="3" fill="rgb(74,74,74)" filter="url(#b12)"/>
<rect x="810" y="510.5" width="12" height="3" fill="rgb(78,78,78)" filter="url(#b12)"/>
<rect x="810" y="517.3" width="12" height="3" fill="rgb(82,82,82)" filter="url(#b12)"/>
<rect x="810" y="522.9" width="12" height="3" fill="rgb(86,86,86)" filter="url(#b12)"/>
<rect x="810" y="528.5" width="12" height="3" fill="rgb(91,91,91)" filter="url(#b12)"/>
<rect x="810" y="536.7" width="12" height="3" fill="rgb(197,197,197)" filter="url(#b12)"/>
<rect x="810" y="546.3" width="12" height="3" fill="rgb(91,91,91)" filter="url(#b12)"/>
<rect x="810" y="552.0" width="12" height="3" fill="rgb(95,95,95)" filter="url(#b12)"/>
<rect x="810" y="557.5" width="12" height="3" fill="rgb(103,103,103)" filter="url(#b12)"/>
<rect x="810" y="564.0" width="12" height="3" fill="rgb(224,224,224)" filter="url(#b12)"/>
<rect x="810" y="568.7" width="12" height="3" fill="rgb(238,238,238)" filter="url(#b12)"/>
<rect x="810" y="575.5" width="12" height="3" fill="rgb(105,105,105)" filter="url(#b12)"/>
<rect x="810" y="583.9" width="12" height="3" fill="rgb(105,105,105)" filter="url(#b12)"/>
<rect x="810" y="593.2" width="12" height="3" fill="rgb(101,101,101)" filter="url(#b12)"/>
<rect x="810" y="607.3" width="12" height="3" fill="rgb(105,105,105)" filter="url(#b12)"/>
<rect x="810" y="623.3" width="12" height="3" fill="rgb(82,82,82)" filter="url(#b12)"/>
</g>
</g>
<path d="M848 625.9 H859" stroke="#e01b24" stroke-width="1.5"/>
<path d="M834.4 625.9 L850.4 621.2 V630.6 Z" fill="#e01b24"/>
</g>
</svg>
</body></html>
